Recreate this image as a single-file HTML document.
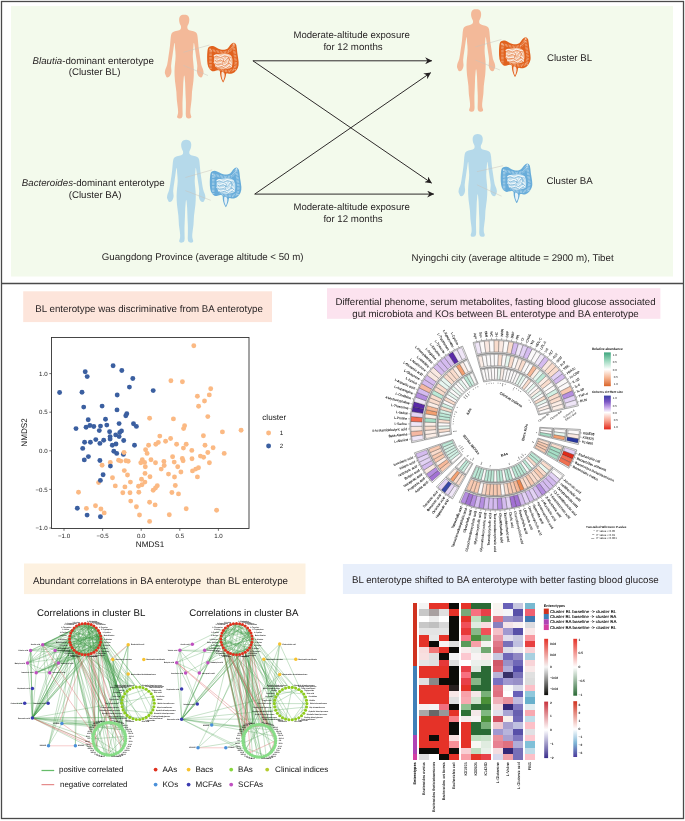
<!DOCTYPE html>
<html lang="en"><head><meta charset="utf-8"><title>Graphical abstract</title>
<style>html,body{margin:0;padding:0;background:#fff}svg{display:block}</style></head>
<body><svg width="685" height="821" viewBox="0 0 685 821" font-family="'Liberation Sans', Arial, sans-serif" text-rendering="geometricPrecision">
<defs>
<path id="human" d="M-1.60,0.15Q0.00,0.00 1.60,0.15Q3.20,0.30 4.15,1.65Q5.10,3.00 5.10,4.75Q5.10,6.50 4.75,8.00Q4.40,9.50 3.75,10.50Q3.10,11.50 3.10,12.75Q3.10,14.00 3.85,14.85Q4.60,15.70 7.10,16.20Q9.60,16.70 11.10,17.45Q12.60,18.20 13.05,20.10Q13.50,22.00 13.85,27.00Q14.20,32.00 14.90,36.50Q15.60,41.00 16.30,46.00Q17.00,51.00 17.90,52.75Q18.80,54.50 19.20,56.50Q19.60,58.50 19.10,59.50Q18.60,60.50 18.20,61.65Q17.80,62.80 16.70,62.90Q15.60,63.00 14.50,61.75Q13.40,60.50 12.95,58.50Q12.50,56.50 12.95,54.25Q13.40,52.00 12.70,47.50Q12.00,43.00 11.30,38.00Q10.60,33.00 10.10,29.75Q9.60,26.50 9.40,29.75Q9.20,33.00 8.80,37.25Q8.40,41.50 8.80,45.25Q9.20,49.00 9.50,52.50Q9.80,56.00 9.60,61.00Q9.40,66.00 8.50,72.00Q7.60,78.00 7.60,81.50Q7.60,85.00 6.60,91.65Q5.60,98.30 6.60,100.30Q7.60,102.30 6.80,103.15Q6.00,104.00 4.10,103.80Q2.20,103.60 1.85,102.05Q1.50,100.50 1.55,99.25Q1.60,98.00 1.70,93.00Q1.80,88.00 1.55,84.00Q1.30,80.00 1.15,74.00Q1.00,68.00 0.50,63.25Q0.00,58.50 -0.50,63.25Q-1.00,68.00 -1.15,74.00Q-1.30,80.00 -1.55,84.00Q-1.80,88.00 -1.70,93.00Q-1.60,98.00 -1.55,99.25Q-1.50,100.50 -1.85,102.05Q-2.20,103.60 -4.10,103.80Q-6.00,104.00 -6.80,103.15Q-7.60,102.30 -6.60,100.30Q-5.60,98.30 -6.60,91.65Q-7.60,85.00 -7.60,81.50Q-7.60,78.00 -8.50,72.00Q-9.40,66.00 -9.60,61.00Q-9.80,56.00 -9.50,52.50Q-9.20,49.00 -8.80,45.25Q-8.40,41.50 -8.80,37.25Q-9.20,33.00 -9.40,29.75Q-9.60,26.50 -10.10,29.75Q-10.60,33.00 -11.30,38.00Q-12.00,43.00 -12.70,47.50Q-13.40,52.00 -12.95,54.25Q-12.50,56.50 -12.95,58.50Q-13.40,60.50 -14.50,61.75Q-15.60,63.00 -16.70,62.90Q-17.80,62.80 -18.20,61.65Q-18.60,60.50 -19.10,59.50Q-19.60,58.50 -19.20,56.50Q-18.80,54.50 -17.90,52.75Q-17.00,51.00 -16.30,46.00Q-15.60,41.00 -14.90,36.50Q-14.20,32.00 -13.85,27.00Q-13.50,22.00 -13.05,20.10Q-12.60,18.20 -11.10,17.45Q-9.60,16.70 -7.10,16.20Q-4.60,15.70 -3.85,14.85Q-3.10,14.00 -3.10,12.75Q-3.10,11.50 -3.75,10.50Q-4.40,9.50 -4.75,8.00Q-5.10,6.50 -5.10,4.75Q-5.10,3.00 -4.15,1.65Q-3.20,0.30 -1.60,0.15Z"/>
<marker id="ah" viewBox="0 0 10 10" refX="9.5" refY="5" markerWidth="9" markerHeight="7" markerUnits="userSpaceOnUse" orient="auto"><path d="M0,0 L10,5 L0,10 L3.2,5 Z" fill="#231f20"/></marker>
</defs>
<rect width="685" height="821" fill="#fff"/>
<rect x="11" y="6" width="662" height="270.5" fill="#F3FAEC"/>
<rect x="1.5" y="1.5" width="682" height="817" fill="none" stroke="#4a4a4a" stroke-width="1.3"/>
<line x1="1" y1="283.5" x2="684" y2="283.5" stroke="#4a4a4a" stroke-width="1.3"/>
<use href="#human" transform="translate(184.2,14.6) scale(1.0000)" fill="#F3B999"/>
<use href="#human" transform="translate(186.2,139.8) scale(0.9904)" fill="#B5D9EA"/>
<use href="#human" transform="translate(476.1,9.2) scale(0.9875)" fill="#F3B999"/>
<use href="#human" transform="translate(477.7,134) scale(0.9904)" fill="#B5D9EA"/>
<path d="M183.39999999999998,52.300000000000004 L209.5,45 M183.39999999999998,65.39999999999999 L208,75.5" stroke="#c9c2bb" stroke-width="0.5" fill="none"/>
<path d="M185.39999999999998,177.5 L212.2,169.8 M185.39999999999998,190.60000000000002 L210.7,200.3" stroke="#c9c2bb" stroke-width="0.5" fill="none"/>
<path d="M475.3,46.900000000000006 L501.4,39.5 M475.3,60.0 L499.9,70.0" stroke="#c9c2bb" stroke-width="0.5" fill="none"/>
<path d="M476.9,171.7 L503.1,165.7 M476.9,184.8 L501.6,196.2" stroke="#c9c2bb" stroke-width="0.5" fill="none"/>
<g transform="translate(207,42) scale(1.0)"><path fill="#E1621E" d="M0.18,12.26Q0.35,9.11 0.70,7.18Q1.05,5.26 2.63,4.45Q4.20,3.64 6.13,4.10Q8.06,4.56 9.64,5.71Q11.21,6.87 13.67,7.46Q16.12,8.06 18.40,7.53Q20.67,7.01 21.90,4.91Q23.13,2.80 24.88,1.51Q26.63,0.21 28.10,1.33Q29.57,2.45 29.85,6.48Q30.13,10.51 31.04,15.42Q31.96,20.32 31.57,23.13Q31.18,25.93 29.26,28.38Q27.33,30.83 25.05,31.46Q22.78,32.10 20.99,31.39Q19.20,30.69 19.06,32.34Q18.92,33.99 18.36,35.63Q17.80,37.28 17.17,38.68Q16.54,40.08 16.33,40.29Q16.12,40.50 15.91,40.29Q15.70,40.08 14.93,38.54Q14.16,37.00 13.52,34.62Q12.89,32.24 13.03,30.31Q13.17,28.38 11.49,28.21Q9.81,28.03 7.88,28.91Q5.96,29.78 4.03,28.38Q2.10,26.98 1.23,24.70Q0.35,22.42 0.18,18.92Q0.00,15.42 0.18,12.26Z"/><path fill="#F3C3A2" d="M7.01,15.77Q7.36,12.96 10.69,12.16Q14.02,11.35 18.40,11.56Q22.78,11.77 24.28,13.95Q25.79,16.12 25.58,20.85Q25.37,25.58 23.02,26.17Q20.67,26.77 17.34,27.12Q14.02,27.47 11.04,26.07Q8.06,24.67 7.36,21.62Q6.66,18.57 7.01,15.77Z"/><path d="M3.50,26.63 L3.50,16.12 L3.64,8.06 L10.51,9.46 L16.12,10.51 L22.42,9.46 L26.49,3.50 L27.68,11.21 L28.87,21.02 L27.68,27.33 L22.42,29.08 L16.12,28.73 L10.51,25.93" fill="none" stroke="#F4BE9C" stroke-width="2.5" stroke-dasharray="0.5 0.9"/><path d="M7.5,14 q2,-1.6 4,0 t4,0 t4,-0.5 t4,1" fill="none" stroke="#FBEFE6" stroke-width="1.7" stroke-linecap="round"/><path d="M8,17.5 q1.5,2 3.5,0.3 t4,0.5 t4,-1.5 t3.5,1" fill="none" stroke="#FBEFE6" stroke-width="1.7" stroke-linecap="round"/><path d="M7.5,20.5 q2,1.8 4.5,0.8 t4,1 t4,-0.8 t4,0.6" fill="none" stroke="#FBEFE6" stroke-width="1.7" stroke-linecap="round"/><path d="M9,24 q2,1.5 4,0.2 t4,0.8 t4,-0.6 t3,0.2" fill="none" stroke="#FBEFE6" stroke-width="1.7" stroke-linecap="round"/><path d="M16,15.5 q1.5,1.5 0.2,3 q-1.6,1 -0.5,2.5" fill="none" stroke="#FBEFE6" stroke-width="1.7" stroke-linecap="round"/><path d="M21.5,14.5 q1.6,1.6 0.4,3.4 q-1.6,1.4 -0.2,3" fill="none" stroke="#FBEFE6" stroke-width="1.7" stroke-linecap="round"/><path d="M7.5,14 q2,-1.6 4,0 t4,0 t4,-0.5 t4,1" fill="none" stroke="#DD5F1C" stroke-width="0.6" stroke-linecap="round" transform="translate(0,0.75)"/><path d="M8,17.5 q1.5,2 3.5,0.3 t4,0.5 t4,-1.5 t3.5,1" fill="none" stroke="#DD5F1C" stroke-width="0.6" stroke-linecap="round" transform="translate(0,0.75)"/><path d="M7.5,20.5 q2,1.8 4.5,0.8 t4,1 t4,-0.8 t4,0.6" fill="none" stroke="#DD5F1C" stroke-width="0.6" stroke-linecap="round" transform="translate(0,0.75)"/><path d="M9,24 q2,1.5 4,0.2 t4,0.8 t4,-0.6 t3,0.2" fill="none" stroke="#DD5F1C" stroke-width="0.6" stroke-linecap="round" transform="translate(0,0.75)"/><path d="M16,15.5 q1.5,1.5 0.2,3 q-1.6,1 -0.5,2.5" fill="none" stroke="#DD5F1C" stroke-width="0.6" stroke-linecap="round" transform="translate(0,0.75)"/><path d="M21.5,14.5 q1.6,1.6 0.4,3.4 q-1.6,1.4 -0.2,3" fill="none" stroke="#DD5F1C" stroke-width="0.6" stroke-linecap="round" transform="translate(0,0.75)"/><path fill="#F8E6D8" d="M14.40,32.34Q14.23,29.29 15.94,29.99Q17.66,30.69 17.66,32.80Q17.66,34.90 16.96,36.90Q16.26,38.89 16.12,38.89Q15.98,38.89 15.28,37.14Q14.58,35.39 14.40,32.34Z"/></g>
<g transform="translate(209.7,166.8) scale(1.0)"><path fill="#68ACD9" d="M0.18,12.26Q0.35,9.11 0.70,7.18Q1.05,5.26 2.63,4.45Q4.20,3.64 6.13,4.10Q8.06,4.56 9.64,5.71Q11.21,6.87 13.67,7.46Q16.12,8.06 18.40,7.53Q20.67,7.01 21.90,4.91Q23.13,2.80 24.88,1.51Q26.63,0.21 28.10,1.33Q29.57,2.45 29.85,6.48Q30.13,10.51 31.04,15.42Q31.96,20.32 31.57,23.13Q31.18,25.93 29.26,28.38Q27.33,30.83 25.05,31.46Q22.78,32.10 20.99,31.39Q19.20,30.69 19.06,32.34Q18.92,33.99 18.36,35.63Q17.80,37.28 17.17,38.68Q16.54,40.08 16.33,40.29Q16.12,40.50 15.91,40.29Q15.70,40.08 14.93,38.54Q14.16,37.00 13.52,34.62Q12.89,32.24 13.03,30.31Q13.17,28.38 11.49,28.21Q9.81,28.03 7.88,28.91Q5.96,29.78 4.03,28.38Q2.10,26.98 1.23,24.70Q0.35,22.42 0.18,18.92Q0.00,15.42 0.18,12.26Z"/><path fill="#C4E0EF" d="M7.01,15.77Q7.36,12.96 10.69,12.16Q14.02,11.35 18.40,11.56Q22.78,11.77 24.28,13.95Q25.79,16.12 25.58,20.85Q25.37,25.58 23.02,26.17Q20.67,26.77 17.34,27.12Q14.02,27.47 11.04,26.07Q8.06,24.67 7.36,21.62Q6.66,18.57 7.01,15.77Z"/><path d="M3.50,26.63 L3.50,16.12 L3.64,8.06 L10.51,9.46 L16.12,10.51 L22.42,9.46 L26.49,3.50 L27.68,11.21 L28.87,21.02 L27.68,27.33 L22.42,29.08 L16.12,28.73 L10.51,25.93" fill="none" stroke="#C3DFF0" stroke-width="2.5" stroke-dasharray="0.5 0.9"/><path d="M7.5,14 q2,-1.6 4,0 t4,0 t4,-0.5 t4,1" fill="none" stroke="#F1F8FA" stroke-width="1.7" stroke-linecap="round"/><path d="M8,17.5 q1.5,2 3.5,0.3 t4,0.5 t4,-1.5 t3.5,1" fill="none" stroke="#F1F8FA" stroke-width="1.7" stroke-linecap="round"/><path d="M7.5,20.5 q2,1.8 4.5,0.8 t4,1 t4,-0.8 t4,0.6" fill="none" stroke="#F1F8FA" stroke-width="1.7" stroke-linecap="round"/><path d="M9,24 q2,1.5 4,0.2 t4,0.8 t4,-0.6 t3,0.2" fill="none" stroke="#F1F8FA" stroke-width="1.7" stroke-linecap="round"/><path d="M16,15.5 q1.5,1.5 0.2,3 q-1.6,1 -0.5,2.5" fill="none" stroke="#F1F8FA" stroke-width="1.7" stroke-linecap="round"/><path d="M21.5,14.5 q1.6,1.6 0.4,3.4 q-1.6,1.4 -0.2,3" fill="none" stroke="#F1F8FA" stroke-width="1.7" stroke-linecap="round"/><path d="M7.5,14 q2,-1.6 4,0 t4,0 t4,-0.5 t4,1" fill="none" stroke="#4E9ACB" stroke-width="0.6" stroke-linecap="round" transform="translate(0,0.75)"/><path d="M8,17.5 q1.5,2 3.5,0.3 t4,0.5 t4,-1.5 t3.5,1" fill="none" stroke="#4E9ACB" stroke-width="0.6" stroke-linecap="round" transform="translate(0,0.75)"/><path d="M7.5,20.5 q2,1.8 4.5,0.8 t4,1 t4,-0.8 t4,0.6" fill="none" stroke="#4E9ACB" stroke-width="0.6" stroke-linecap="round" transform="translate(0,0.75)"/><path d="M9,24 q2,1.5 4,0.2 t4,0.8 t4,-0.6 t3,0.2" fill="none" stroke="#4E9ACB" stroke-width="0.6" stroke-linecap="round" transform="translate(0,0.75)"/><path d="M16,15.5 q1.5,1.5 0.2,3 q-1.6,1 -0.5,2.5" fill="none" stroke="#4E9ACB" stroke-width="0.6" stroke-linecap="round" transform="translate(0,0.75)"/><path d="M21.5,14.5 q1.6,1.6 0.4,3.4 q-1.6,1.4 -0.2,3" fill="none" stroke="#4E9ACB" stroke-width="0.6" stroke-linecap="round" transform="translate(0,0.75)"/><path fill="#E6F2F7" d="M14.40,32.34Q14.23,29.29 15.94,29.99Q17.66,30.69 17.66,32.80Q17.66,34.90 16.96,36.90Q16.26,38.89 16.12,38.89Q15.98,38.89 15.28,37.14Q14.58,35.39 14.40,32.34Z"/></g>
<g transform="translate(498.9,36.5) scale(1.0)"><path fill="#E1621E" d="M0.18,12.26Q0.35,9.11 0.70,7.18Q1.05,5.26 2.63,4.45Q4.20,3.64 6.13,4.10Q8.06,4.56 9.64,5.71Q11.21,6.87 13.67,7.46Q16.12,8.06 18.40,7.53Q20.67,7.01 21.90,4.91Q23.13,2.80 24.88,1.51Q26.63,0.21 28.10,1.33Q29.57,2.45 29.85,6.48Q30.13,10.51 31.04,15.42Q31.96,20.32 31.57,23.13Q31.18,25.93 29.26,28.38Q27.33,30.83 25.05,31.46Q22.78,32.10 20.99,31.39Q19.20,30.69 19.06,32.34Q18.92,33.99 18.36,35.63Q17.80,37.28 17.17,38.68Q16.54,40.08 16.33,40.29Q16.12,40.50 15.91,40.29Q15.70,40.08 14.93,38.54Q14.16,37.00 13.52,34.62Q12.89,32.24 13.03,30.31Q13.17,28.38 11.49,28.21Q9.81,28.03 7.88,28.91Q5.96,29.78 4.03,28.38Q2.10,26.98 1.23,24.70Q0.35,22.42 0.18,18.92Q0.00,15.42 0.18,12.26Z"/><path fill="#F3C3A2" d="M7.01,15.77Q7.36,12.96 10.69,12.16Q14.02,11.35 18.40,11.56Q22.78,11.77 24.28,13.95Q25.79,16.12 25.58,20.85Q25.37,25.58 23.02,26.17Q20.67,26.77 17.34,27.12Q14.02,27.47 11.04,26.07Q8.06,24.67 7.36,21.62Q6.66,18.57 7.01,15.77Z"/><path d="M3.50,26.63 L3.50,16.12 L3.64,8.06 L10.51,9.46 L16.12,10.51 L22.42,9.46 L26.49,3.50 L27.68,11.21 L28.87,21.02 L27.68,27.33 L22.42,29.08 L16.12,28.73 L10.51,25.93" fill="none" stroke="#F4BE9C" stroke-width="2.5" stroke-dasharray="0.5 0.9"/><path d="M7.5,14 q2,-1.6 4,0 t4,0 t4,-0.5 t4,1" fill="none" stroke="#FBEFE6" stroke-width="1.7" stroke-linecap="round"/><path d="M8,17.5 q1.5,2 3.5,0.3 t4,0.5 t4,-1.5 t3.5,1" fill="none" stroke="#FBEFE6" stroke-width="1.7" stroke-linecap="round"/><path d="M7.5,20.5 q2,1.8 4.5,0.8 t4,1 t4,-0.8 t4,0.6" fill="none" stroke="#FBEFE6" stroke-width="1.7" stroke-linecap="round"/><path d="M9,24 q2,1.5 4,0.2 t4,0.8 t4,-0.6 t3,0.2" fill="none" stroke="#FBEFE6" stroke-width="1.7" stroke-linecap="round"/><path d="M16,15.5 q1.5,1.5 0.2,3 q-1.6,1 -0.5,2.5" fill="none" stroke="#FBEFE6" stroke-width="1.7" stroke-linecap="round"/><path d="M21.5,14.5 q1.6,1.6 0.4,3.4 q-1.6,1.4 -0.2,3" fill="none" stroke="#FBEFE6" stroke-width="1.7" stroke-linecap="round"/><path d="M7.5,14 q2,-1.6 4,0 t4,0 t4,-0.5 t4,1" fill="none" stroke="#DD5F1C" stroke-width="0.6" stroke-linecap="round" transform="translate(0,0.75)"/><path d="M8,17.5 q1.5,2 3.5,0.3 t4,0.5 t4,-1.5 t3.5,1" fill="none" stroke="#DD5F1C" stroke-width="0.6" stroke-linecap="round" transform="translate(0,0.75)"/><path d="M7.5,20.5 q2,1.8 4.5,0.8 t4,1 t4,-0.8 t4,0.6" fill="none" stroke="#DD5F1C" stroke-width="0.6" stroke-linecap="round" transform="translate(0,0.75)"/><path d="M9,24 q2,1.5 4,0.2 t4,0.8 t4,-0.6 t3,0.2" fill="none" stroke="#DD5F1C" stroke-width="0.6" stroke-linecap="round" transform="translate(0,0.75)"/><path d="M16,15.5 q1.5,1.5 0.2,3 q-1.6,1 -0.5,2.5" fill="none" stroke="#DD5F1C" stroke-width="0.6" stroke-linecap="round" transform="translate(0,0.75)"/><path d="M21.5,14.5 q1.6,1.6 0.4,3.4 q-1.6,1.4 -0.2,3" fill="none" stroke="#DD5F1C" stroke-width="0.6" stroke-linecap="round" transform="translate(0,0.75)"/><path fill="#F8E6D8" d="M14.40,32.34Q14.23,29.29 15.94,29.99Q17.66,30.69 17.66,32.80Q17.66,34.90 16.96,36.90Q16.26,38.89 16.12,38.89Q15.98,38.89 15.28,37.14Q14.58,35.39 14.40,32.34Z"/></g>
<g transform="translate(500.6,162.7) scale(1.0)"><path fill="#68ACD9" d="M0.18,12.26Q0.35,9.11 0.70,7.18Q1.05,5.26 2.63,4.45Q4.20,3.64 6.13,4.10Q8.06,4.56 9.64,5.71Q11.21,6.87 13.67,7.46Q16.12,8.06 18.40,7.53Q20.67,7.01 21.90,4.91Q23.13,2.80 24.88,1.51Q26.63,0.21 28.10,1.33Q29.57,2.45 29.85,6.48Q30.13,10.51 31.04,15.42Q31.96,20.32 31.57,23.13Q31.18,25.93 29.26,28.38Q27.33,30.83 25.05,31.46Q22.78,32.10 20.99,31.39Q19.20,30.69 19.06,32.34Q18.92,33.99 18.36,35.63Q17.80,37.28 17.17,38.68Q16.54,40.08 16.33,40.29Q16.12,40.50 15.91,40.29Q15.70,40.08 14.93,38.54Q14.16,37.00 13.52,34.62Q12.89,32.24 13.03,30.31Q13.17,28.38 11.49,28.21Q9.81,28.03 7.88,28.91Q5.96,29.78 4.03,28.38Q2.10,26.98 1.23,24.70Q0.35,22.42 0.18,18.92Q0.00,15.42 0.18,12.26Z"/><path fill="#C4E0EF" d="M7.01,15.77Q7.36,12.96 10.69,12.16Q14.02,11.35 18.40,11.56Q22.78,11.77 24.28,13.95Q25.79,16.12 25.58,20.85Q25.37,25.58 23.02,26.17Q20.67,26.77 17.34,27.12Q14.02,27.47 11.04,26.07Q8.06,24.67 7.36,21.62Q6.66,18.57 7.01,15.77Z"/><path d="M3.50,26.63 L3.50,16.12 L3.64,8.06 L10.51,9.46 L16.12,10.51 L22.42,9.46 L26.49,3.50 L27.68,11.21 L28.87,21.02 L27.68,27.33 L22.42,29.08 L16.12,28.73 L10.51,25.93" fill="none" stroke="#C3DFF0" stroke-width="2.5" stroke-dasharray="0.5 0.9"/><path d="M7.5,14 q2,-1.6 4,0 t4,0 t4,-0.5 t4,1" fill="none" stroke="#F1F8FA" stroke-width="1.7" stroke-linecap="round"/><path d="M8,17.5 q1.5,2 3.5,0.3 t4,0.5 t4,-1.5 t3.5,1" fill="none" stroke="#F1F8FA" stroke-width="1.7" stroke-linecap="round"/><path d="M7.5,20.5 q2,1.8 4.5,0.8 t4,1 t4,-0.8 t4,0.6" fill="none" stroke="#F1F8FA" stroke-width="1.7" stroke-linecap="round"/><path d="M9,24 q2,1.5 4,0.2 t4,0.8 t4,-0.6 t3,0.2" fill="none" stroke="#F1F8FA" stroke-width="1.7" stroke-linecap="round"/><path d="M16,15.5 q1.5,1.5 0.2,3 q-1.6,1 -0.5,2.5" fill="none" stroke="#F1F8FA" stroke-width="1.7" stroke-linecap="round"/><path d="M21.5,14.5 q1.6,1.6 0.4,3.4 q-1.6,1.4 -0.2,3" fill="none" stroke="#F1F8FA" stroke-width="1.7" stroke-linecap="round"/><path d="M7.5,14 q2,-1.6 4,0 t4,0 t4,-0.5 t4,1" fill="none" stroke="#4E9ACB" stroke-width="0.6" stroke-linecap="round" transform="translate(0,0.75)"/><path d="M8,17.5 q1.5,2 3.5,0.3 t4,0.5 t4,-1.5 t3.5,1" fill="none" stroke="#4E9ACB" stroke-width="0.6" stroke-linecap="round" transform="translate(0,0.75)"/><path d="M7.5,20.5 q2,1.8 4.5,0.8 t4,1 t4,-0.8 t4,0.6" fill="none" stroke="#4E9ACB" stroke-width="0.6" stroke-linecap="round" transform="translate(0,0.75)"/><path d="M9,24 q2,1.5 4,0.2 t4,0.8 t4,-0.6 t3,0.2" fill="none" stroke="#4E9ACB" stroke-width="0.6" stroke-linecap="round" transform="translate(0,0.75)"/><path d="M16,15.5 q1.5,1.5 0.2,3 q-1.6,1 -0.5,2.5" fill="none" stroke="#4E9ACB" stroke-width="0.6" stroke-linecap="round" transform="translate(0,0.75)"/><path d="M21.5,14.5 q1.6,1.6 0.4,3.4 q-1.6,1.4 -0.2,3" fill="none" stroke="#4E9ACB" stroke-width="0.6" stroke-linecap="round" transform="translate(0,0.75)"/><path fill="#E6F2F7" d="M14.40,32.34Q14.23,29.29 15.94,29.99Q17.66,30.69 17.66,32.80Q17.66,34.90 16.96,36.90Q16.26,38.89 16.12,38.89Q15.98,38.89 15.28,37.14Q14.58,35.39 14.40,32.34Z"/></g>
<g fill="#231f20">
<text x="93.2" y="63.7" font-size="9.7" text-anchor="middle"><tspan font-style="italic">Blautia</tspan>-dominant enterotype</text>
<text x="94.6" y="75.4" font-size="9.7" text-anchor="middle" fill="#231f20">(Cluster BL)</text>
<text x="93.2" y="186" font-size="9.7" text-anchor="middle"><tspan font-style="italic">Bacteroides</tspan>-dominant enterotype</text>
<text x="95.1" y="197.9" font-size="9.7" text-anchor="middle" fill="#231f20">(Cluster BA)</text>
<text x="351.6" y="38.4" font-size="9.55" text-anchor="middle" fill="#231f20">Moderate-altitude exposure</text>
<text x="353" y="50.3" font-size="9.7" text-anchor="middle" fill="#231f20">for 12 months</text>
<text x="351.6" y="210.1" font-size="9.55" text-anchor="middle" fill="#231f20">Moderate-altitude exposure</text>
<text x="353" y="222.3" font-size="9.7" text-anchor="middle" fill="#231f20">for 12 months</text>
<text x="546.9" y="61.2" font-size="9.7" text-anchor="start" fill="#231f20">Cluster BL</text>
<text x="546.4" y="183.6" font-size="9.7" text-anchor="start" fill="#231f20">Cluster BA</text>
<text x="101.8" y="260.2" font-size="9.7" text-anchor="start" fill="#231f20">Guangdong Province (average altitude &lt; 50 m)</text>
<text x="411.4" y="260.8" font-size="9.7" text-anchor="start" fill="#231f20">Nyingchi city (average altitude = 2900 m), Tibet</text>
</g>
<g stroke="#231f20" stroke-width="0.95" fill="none" marker-end="url(#ah)">
<path d="M252.9,60.8 L431.8,60.8"/><path d="M252.9,60.8 L431.6,183.1"/><path d="M254.7,194.1 L433.8,194.1"/><path d="M254.7,194.1 L430.7,72.7"/>
</g>
<rect x="23.2" y="291.3" width="248.8" height="30.8" fill="#FDE5DB"/>
<text x="35.3" y="311.9" font-size="9.72" text-anchor="start" fill="#231f20">BL enterotype was discriminative from BA enterotype</text>
<rect x="327" y="288.2" width="333.4" height="30.6" fill="#FCE3EF"/>
<text x="495.5" y="304.9" font-size="9.73" text-anchor="middle" fill="#231f20">Differential phenome, serum metabolites, fasting blood glucose associated</text>
<text x="495.5" y="317" font-size="9.73" text-anchor="middle" fill="#231f20">gut microbiota and KOs between BL enterotype and BA enterotype</text>
<rect x="24" y="563.5" width="281.5" height="30.6" fill="#FDF1E0"/>
<text x="33" y="584" font-size="9.7" fill="#231f20" xml:space="preserve">Abundant correlations in BA enterotype  than BL enterotype</text>
<rect x="342.9" y="564" width="329.3" height="30" fill="#E8EFFB"/>
<text x="352" y="583.3" font-size="9.7" text-anchor="start" fill="#231f20">BL enterotype shifted to BA enterotype with better fasting blood glucose</text>
<g>
<rect x="51.5" y="337.5" width="197.5" height="191" fill="#fff" stroke="#333" stroke-width="0.9"/>
<g fill="#FBB983"><circle cx="149.6" cy="418.2" r="2.45"/><circle cx="193.8" cy="345.8" r="2.45"/><circle cx="170.9" cy="380.8" r="2.45"/><circle cx="182.4" cy="381.7" r="2.45"/><circle cx="210.7" cy="388.7" r="2.45"/><circle cx="209.3" cy="394.9" r="2.45"/><circle cx="197.4" cy="396.3" r="2.45"/><circle cx="204.5" cy="401.0" r="2.45"/><circle cx="198.6" cy="406.2" r="2.45"/><circle cx="207.8" cy="416.6" r="2.45"/><circle cx="173.4" cy="418.9" r="2.45"/><circle cx="184.6" cy="425.8" r="2.45"/><circle cx="183.6" cy="428.6" r="2.45"/><circle cx="222.4" cy="431.9" r="2.45"/><circle cx="241.1" cy="430.2" r="2.45"/><circle cx="159.8" cy="436.1" r="2.45"/><circle cx="203.4" cy="435.8" r="2.45"/><circle cx="124.0" cy="452.6" r="2.45"/><circle cx="148.6" cy="445.3" r="2.45"/><circle cx="145.6" cy="449.7" r="2.45"/><circle cx="147.1" cy="453.4" r="2.45"/><circle cx="118.6" cy="460.2" r="2.45"/><circle cx="120.8" cy="461.1" r="2.45"/><circle cx="125.9" cy="460.7" r="2.45"/><circle cx="128.2" cy="461.2" r="2.45"/><circle cx="110.3" cy="462.4" r="2.45"/><circle cx="102.1" cy="465.3" r="2.45"/><circle cx="142.3" cy="459.8" r="2.45"/><circle cx="140.8" cy="462.8" r="2.45"/><circle cx="144.6" cy="462.4" r="2.45"/><circle cx="145.3" cy="466.8" r="2.45"/><circle cx="151" cy="459.7" r="2.45"/><circle cx="124.3" cy="470.6" r="2.45"/><circle cx="127.5" cy="475.0" r="2.45"/><circle cx="145.0" cy="473.4" r="2.45"/><circle cx="112.5" cy="477.7" r="2.45"/><circle cx="141.5" cy="479.3" r="2.45"/><circle cx="150" cy="476.7" r="2.45"/><circle cx="98.6" cy="482.6" r="2.45"/><circle cx="130.4" cy="482.1" r="2.45"/><circle cx="144.9" cy="482.1" r="2.45"/><circle cx="142.0" cy="484.7" r="2.45"/><circle cx="138.5" cy="486.2" r="2.45"/><circle cx="115.3" cy="485.9" r="2.45"/><circle cx="124.9" cy="486.9" r="2.45"/><circle cx="78.5" cy="492.3" r="2.45"/><circle cx="122.8" cy="492.8" r="2.45"/><circle cx="130.0" cy="492.8" r="2.45"/><circle cx="138.8" cy="492.3" r="2.45"/><circle cx="130.7" cy="501.1" r="2.45"/><circle cx="149.6" cy="502.3" r="2.45"/><circle cx="136.4" cy="506.8" r="2.45"/><circle cx="95.5" cy="505.8" r="2.45"/><circle cx="86.4" cy="508.4" r="2.45"/><circle cx="100.9" cy="509.0" r="2.45"/><circle cx="104.2" cy="512.9" r="2.45"/><circle cx="139.5" cy="515.0" r="2.45"/><circle cx="149.6" cy="521.4" r="2.45"/><circle cx="170.6" cy="438.5" r="2.45"/><circle cx="165.6" cy="441.2" r="2.45"/><circle cx="158.3" cy="442.4" r="2.45"/><circle cx="155.8" cy="444.3" r="2.45"/><circle cx="176.6" cy="444.3" r="2.45"/><circle cx="186.2" cy="444.3" r="2.45"/><circle cx="183.4" cy="448.1" r="2.45"/><circle cx="205.0" cy="445.2" r="2.45"/><circle cx="213.1" cy="447.7" r="2.45"/><circle cx="191.8" cy="450.4" r="2.45"/><circle cx="207.8" cy="452.5" r="2.45"/><circle cx="224.2" cy="453.4" r="2.45"/><circle cx="200.4" cy="456.1" r="2.45"/><circle cx="203.6" cy="457.3" r="2.45"/><circle cx="172.6" cy="456.7" r="2.45"/><circle cx="192.0" cy="458.8" r="2.45"/><circle cx="182.3" cy="458.5" r="2.45"/><circle cx="183.1" cy="460.7" r="2.45"/><circle cx="155.5" cy="462.8" r="2.45"/><circle cx="163.9" cy="461.4" r="2.45"/><circle cx="174.2" cy="462.1" r="2.45"/><circle cx="209.4" cy="462.8" r="2.45"/><circle cx="164.2" cy="465.5" r="2.45"/><circle cx="177.7" cy="466.8" r="2.45"/><circle cx="161.2" cy="469.1" r="2.45"/><circle cx="198.5" cy="467.7" r="2.45"/><circle cx="195.7" cy="469.1" r="2.45"/><circle cx="192.5" cy="470.9" r="2.45"/><circle cx="180.9" cy="472.0" r="2.45"/><circle cx="168.5" cy="474.1" r="2.45"/><circle cx="174.5" cy="477.0" r="2.45"/><circle cx="197.4" cy="476.9" r="2.45"/><circle cx="157.3" cy="485.8" r="2.45"/><circle cx="155.5" cy="488.0" r="2.45"/><circle cx="153.2" cy="490.3" r="2.45"/><circle cx="175.3" cy="485.5" r="2.45"/><circle cx="171.9" cy="492.5" r="2.45"/><circle cx="178.5" cy="493.9" r="2.45"/><circle cx="155.1" cy="504.9" r="2.45"/><circle cx="186.2" cy="508.8" r="2.45"/><circle cx="216.6" cy="510.3" r="2.45"/><circle cx="169.3" cy="514.7" r="2.45"/></g>
<g fill="#3B5FA0"><circle cx="113.1" cy="365.8" r="2.45"/><circle cx="121.8" cy="370.5" r="2.45"/><circle cx="85.2" cy="371.8" r="2.45"/><circle cx="87.2" cy="376.6" r="2.45"/><circle cx="132.8" cy="378.5" r="2.45"/><circle cx="129.4" cy="387.1" r="2.45"/><circle cx="59.6" cy="392.5" r="2.45"/><circle cx="82.0" cy="392.2" r="2.45"/><circle cx="117.2" cy="395.0" r="2.45"/><circle cx="83.7" cy="407.1" r="2.45"/><circle cx="102.1" cy="406.1" r="2.45"/><circle cx="117.0" cy="409.9" r="2.45"/><circle cx="126.8" cy="413.8" r="2.45"/><circle cx="125.8" cy="415.7" r="2.45"/><circle cx="88.2" cy="419.8" r="2.45"/><circle cx="105.5" cy="419.2" r="2.45"/><circle cx="119.1" cy="423.6" r="2.45"/><circle cx="133.5" cy="423.8" r="2.45"/><circle cx="136.4" cy="426.4" r="2.45"/><circle cx="106.8" cy="425.1" r="2.45"/><circle cx="100.5" cy="426.1" r="2.45"/><circle cx="93.8" cy="426.5" r="2.45"/><circle cx="89.9" cy="425.5" r="2.45"/><circle cx="86.1" cy="427.3" r="2.45"/><circle cx="76.0" cy="428.6" r="2.45"/><circle cx="99.3" cy="430.6" r="2.45"/><circle cx="109.6" cy="431.8" r="2.45"/><circle cx="121.5" cy="430.9" r="2.45"/><circle cx="119.8" cy="432.5" r="2.45"/><circle cx="115.7" cy="434.9" r="2.45"/><circle cx="153.2" cy="390.6" r="2.45"/><circle cx="110.1" cy="436.6" r="2.45"/><circle cx="110.1" cy="439.1" r="2.45"/><circle cx="119.1" cy="436.6" r="2.45"/><circle cx="123.7" cy="440.5" r="2.45"/><circle cx="95.8" cy="439.6" r="2.45"/><circle cx="103.7" cy="440.2" r="2.45"/><circle cx="84.6" cy="442.3" r="2.45"/><circle cx="90.4" cy="442.3" r="2.45"/><circle cx="99.9" cy="443.4" r="2.45"/><circle cx="116.0" cy="444.0" r="2.45"/><circle cx="112.3" cy="445.2" r="2.45"/><circle cx="134.5" cy="445.2" r="2.45"/><circle cx="82.7" cy="448.4" r="2.45"/><circle cx="113.8" cy="451.2" r="2.45"/><circle cx="116.7" cy="453.4" r="2.45"/><circle cx="123.4" cy="454.4" r="2.45"/><circle cx="88.4" cy="456.6" r="2.45"/><circle cx="84.3" cy="459.9" r="2.45"/><circle cx="99.9" cy="460.5" r="2.45"/><circle cx="110.4" cy="466.1" r="2.45"/><circle cx="103.1" cy="474.8" r="2.45"/><circle cx="100.4" cy="480.4" r="2.45"/><circle cx="77.3" cy="508.2" r="2.45"/><circle cx="87.1" cy="515.1" r="2.45"/><circle cx="100.4" cy="516.7" r="2.45"/></g>
<circle cx="124.0" cy="452.6" r="2.45" fill="#FBB983"/>
<line x1="49.3" y1="373.6" x2="51.5" y2="373.6" stroke="#333" stroke-width="0.7"/><text x="47.6" y="375.8" font-size="6.1" text-anchor="end" fill="#222">1.0</text><line x1="49.3" y1="412.2" x2="51.5" y2="412.2" stroke="#333" stroke-width="0.7"/><text x="47.6" y="414.4" font-size="6.1" text-anchor="end" fill="#222">0.5</text><line x1="49.3" y1="450.8" x2="51.5" y2="450.8" stroke="#333" stroke-width="0.7"/><text x="47.6" y="453.0" font-size="6.1" text-anchor="end" fill="#222">0.0</text><line x1="49.3" y1="489.4" x2="51.5" y2="489.4" stroke="#333" stroke-width="0.7"/><text x="47.6" y="491.6" font-size="6.1" text-anchor="end" fill="#222">−0.5</text><line x1="49.3" y1="528.0" x2="51.5" y2="528.0" stroke="#333" stroke-width="0.7"/><text x="47.6" y="530.2" font-size="6.1" text-anchor="end" fill="#222">−1.0</text><line x1="64.0" y1="528.5" x2="64.0" y2="530.8" stroke="#333" stroke-width="0.7"/><text x="64.0" y="537.6" font-size="6.1" text-anchor="middle" fill="#222">−1.0</text><line x1="102.6" y1="528.5" x2="102.6" y2="530.8" stroke="#333" stroke-width="0.7"/><text x="102.6" y="537.6" font-size="6.1" text-anchor="middle" fill="#222">−0.5</text><line x1="141.2" y1="528.5" x2="141.2" y2="530.8" stroke="#333" stroke-width="0.7"/><text x="141.2" y="537.6" font-size="6.1" text-anchor="middle" fill="#222">0.0</text><line x1="179.8" y1="528.5" x2="179.8" y2="530.8" stroke="#333" stroke-width="0.7"/><text x="179.8" y="537.6" font-size="6.1" text-anchor="middle" fill="#222">0.5</text><line x1="218.4" y1="528.5" x2="218.4" y2="530.8" stroke="#333" stroke-width="0.7"/><text x="218.4" y="537.6" font-size="6.1" text-anchor="middle" fill="#222">1.0</text>
<text x="150" y="547.2" font-size="8.1" text-anchor="middle" fill="#111">NMDS1</text>
<text transform="translate(27.4,432.5) rotate(-90)" font-size="8.1" text-anchor="middle" fill="#111">NMDS2</text>
<text x="262.3" y="420.3" font-size="8.1" text-anchor="start" fill="#111">cluster</text>
<circle cx="268.6" cy="433" r="2.45" fill="#FBB983"/><circle cx="268.6" cy="446" r="2.45" fill="#3B5FA0"/>
<text x="279.8" y="435.2" font-size="6.2" text-anchor="start" fill="#111">1</text>
<text x="279.8" y="448.2" font-size="6.2" text-anchor="start" fill="#111">2</text>
</g>
<g>
<g stroke="#2a2a2a" stroke-width="0.3"><path d="M481.36,369.91A56.8,56.8 0 0 1 484.60,369.20L486.69,380.20A45.6,45.6 0 0 0 484.09,380.77Z" fill="#fbf9f9"/><path d="M484.60,369.20A56.8,56.8 0 0 1 487.87,368.68L489.31,379.78A45.6,45.6 0 0 0 486.69,380.20Z" fill="#fbf9f9"/><path d="M487.87,368.68A56.8,56.8 0 0 1 491.16,368.34L491.96,379.52A45.6,45.6 0 0 0 489.31,379.78Z" fill="#fbf9f9"/><path d="M491.16,368.34A56.8,56.8 0 0 1 494.47,368.20L494.61,379.40A45.6,45.6 0 0 0 491.96,379.52Z" fill="#fbf9f9"/><path d="M494.47,368.20A56.8,56.8 0 0 1 497.78,368.26L497.27,379.45A45.6,45.6 0 0 0 494.61,379.40Z" fill="#fbf9f9"/><path d="M497.78,368.26A56.8,56.8 0 0 1 501.08,368.51L499.92,379.65A45.6,45.6 0 0 0 497.27,379.45Z" fill="#E6F6EF"/><path d="M501.08,368.51A56.8,56.8 0 0 1 504.36,368.94L502.56,380.00A45.6,45.6 0 0 0 499.92,379.65Z" fill="#FBEDE6"/><path d="M504.36,368.94A56.8,56.8 0 0 1 507.62,369.57L505.17,380.50A45.6,45.6 0 0 0 502.56,380.00Z" fill="#fbf9f9"/><path d="M507.62,369.57A56.8,56.8 0 0 1 510.82,370.39L507.74,381.16A45.6,45.6 0 0 0 505.17,380.50Z" fill="#fbf9f9"/><path d="M510.82,370.39A56.8,56.8 0 0 1 513.98,371.39L510.28,381.96A45.6,45.6 0 0 0 507.74,381.16Z" fill="#fbf9f9"/><path d="M513.98,371.39A56.8,56.8 0 0 1 517.07,372.58L512.76,382.92A45.6,45.6 0 0 0 510.28,381.96Z" fill="#fbf9f9"/><path d="M517.07,372.58A56.8,56.8 0 0 1 520.09,373.94L515.18,384.01A45.6,45.6 0 0 0 512.76,382.92Z" fill="#fbf9f9"/><path d="M520.09,373.94A56.8,56.8 0 0 1 523.02,375.48L517.54,385.25A45.6,45.6 0 0 0 515.18,384.01Z" fill="#E6F6EF"/><path d="M523.02,375.48A56.8,56.8 0 0 1 525.86,377.19L519.82,386.61A45.6,45.6 0 0 0 517.54,385.25Z" fill="#E6F6EF"/><path d="M525.86,377.19A56.8,56.8 0 0 1 528.60,379.05L522.01,388.11A45.6,45.6 0 0 0 519.82,386.61Z" fill="#fbf9f9"/><path d="M528.60,379.05A56.8,56.8 0 0 1 531.22,381.08L524.11,389.74A45.6,45.6 0 0 0 522.01,388.11Z" fill="#F9DCCD"/><path d="M531.22,381.08A56.8,56.8 0 0 1 533.71,383.25L526.12,391.48A45.6,45.6 0 0 0 524.11,389.74Z" fill="#fbf9f9"/><path d="M533.71,383.25A56.8,56.8 0 0 1 536.08,385.57L528.02,393.34A45.6,45.6 0 0 0 526.12,391.48Z" fill="#E6F6EF"/><path d="M536.08,385.57A56.8,56.8 0 0 1 538.31,388.02L529.81,395.31A45.6,45.6 0 0 0 528.02,393.34Z" fill="#fbf9f9"/><path d="M538.31,388.02A56.8,56.8 0 0 1 540.39,390.59L531.48,397.38A45.6,45.6 0 0 0 529.81,395.31Z" fill="#FBEDE6"/><path d="M540.39,390.59A56.8,56.8 0 0 1 542.32,393.28L533.03,399.54A45.6,45.6 0 0 0 531.48,397.38Z" fill="#E6F6EF"/><path d="M542.32,393.28A56.8,56.8 0 0 1 544.09,396.08L534.45,401.79A45.6,45.6 0 0 0 533.03,399.54Z" fill="#fbf9f9"/><path d="M544.09,396.08A56.8,56.8 0 0 1 545.69,398.98L535.73,404.11A45.6,45.6 0 0 0 534.45,401.79Z" fill="#F9DCCD"/><path d="M545.69,398.98A56.8,56.8 0 0 1 547.12,401.97L536.88,406.51A45.6,45.6 0 0 0 535.73,404.11Z" fill="#E6F6EF"/><path d="M547.12,401.97A56.8,56.8 0 0 1 548.37,405.03L537.89,408.97A45.6,45.6 0 0 0 536.88,406.51Z" fill="#fbf9f9"/><path d="M548.37,405.03A56.8,56.8 0 0 1 549.45,408.17L538.75,411.48A45.6,45.6 0 0 0 537.89,408.97Z" fill="#FBEDE6"/><path d="M549.45,408.17A56.8,56.8 0 0 1 550.34,411.36L539.46,414.05A45.6,45.6 0 0 0 538.75,411.48Z" fill="#fbf9f9"/><path d="M478.03,356.62A70.5,70.5 0 0 1 482.04,355.74L484.11,366.64A59.4,59.4 0 0 0 480.73,367.39Z" fill="#FBEDE6"/><path d="M482.04,355.74A70.5,70.5 0 0 1 486.10,355.09L487.53,366.10A59.4,59.4 0 0 0 484.11,366.64Z" fill="#fbf9f9"/><path d="M486.10,355.09A70.5,70.5 0 0 1 490.19,354.68L490.98,365.75A59.4,59.4 0 0 0 487.53,366.10Z" fill="#fbf9f9"/><path d="M490.19,354.68A70.5,70.5 0 0 1 494.29,354.51L494.44,365.60A59.4,59.4 0 0 0 490.98,365.75Z" fill="#fbf9f9"/><path d="M494.29,354.51A70.5,70.5 0 0 1 498.40,354.57L497.90,365.66A59.4,59.4 0 0 0 494.44,365.60Z" fill="#fbf9f9"/><path d="M498.40,354.57A70.5,70.5 0 0 1 502.50,354.88L501.35,365.92A59.4,59.4 0 0 0 497.90,365.66Z" fill="#F9DCCD"/><path d="M502.50,354.88A70.5,70.5 0 0 1 506.58,355.42L504.78,366.38A59.4,59.4 0 0 0 501.35,365.92Z" fill="#fbf9f9"/><path d="M506.58,355.42A70.5,70.5 0 0 1 510.61,356.20L508.18,367.04A59.4,59.4 0 0 0 504.78,366.38Z" fill="#E6F6EF"/><path d="M510.61,356.20A70.5,70.5 0 0 1 514.59,357.22L511.54,367.89A59.4,59.4 0 0 0 508.18,367.04Z" fill="#F9DCCD"/><path d="M514.59,357.22A70.5,70.5 0 0 1 518.51,358.47L514.84,368.94A59.4,59.4 0 0 0 511.54,367.89Z" fill="#fbf9f9"/><path d="M518.51,358.47A70.5,70.5 0 0 1 522.35,359.94L518.07,370.18A59.4,59.4 0 0 0 514.84,368.94Z" fill="#FBEDE6"/><path d="M522.35,359.94A70.5,70.5 0 0 1 526.09,361.63L521.23,371.61A59.4,59.4 0 0 0 518.07,370.18Z" fill="#F9DCCD"/><path d="M526.09,361.63A70.5,70.5 0 0 1 529.73,363.54L524.30,373.21A59.4,59.4 0 0 0 521.23,371.61Z" fill="#fbf9f9"/><path d="M529.73,363.54A70.5,70.5 0 0 1 533.26,365.65L527.26,375.00A59.4,59.4 0 0 0 524.30,373.21Z" fill="#fbf9f9"/><path d="M533.26,365.65A70.5,70.5 0 0 1 536.65,367.97L530.12,376.95A59.4,59.4 0 0 0 527.26,375.00Z" fill="#F6B898"/><path d="M536.65,367.97A70.5,70.5 0 0 1 539.90,370.48L532.86,379.07A59.4,59.4 0 0 0 530.12,376.95Z" fill="#FBEDE6"/><path d="M539.90,370.48A70.5,70.5 0 0 1 543.00,373.18L535.48,381.34A59.4,59.4 0 0 0 532.86,379.07Z" fill="#E6F6EF"/><path d="M543.00,373.18A70.5,70.5 0 0 1 545.94,376.06L537.95,383.76A59.4,59.4 0 0 0 535.48,381.34Z" fill="#BCE8D6"/><path d="M545.94,376.06A70.5,70.5 0 0 1 548.71,379.10L540.28,386.32A59.4,59.4 0 0 0 537.95,383.76Z" fill="#FBEDE6"/><path d="M548.71,379.10A70.5,70.5 0 0 1 551.29,382.29L542.46,389.02A59.4,59.4 0 0 0 540.28,386.32Z" fill="#F9DCCD"/><path d="M551.29,382.29A70.5,70.5 0 0 1 553.69,385.63L544.48,391.83A59.4,59.4 0 0 0 542.46,389.02Z" fill="#fbf9f9"/><path d="M553.69,385.63A70.5,70.5 0 0 1 555.88,389.11L546.33,394.76A59.4,59.4 0 0 0 544.48,391.83Z" fill="#fbf9f9"/><path d="M555.88,389.11A70.5,70.5 0 0 1 557.87,392.71L548.00,397.79A59.4,59.4 0 0 0 546.33,394.76Z" fill="#D2F0E4"/><path d="M557.87,392.71A70.5,70.5 0 0 1 559.64,396.41L549.50,400.91A59.4,59.4 0 0 0 548.00,397.79Z" fill="#F9DCCD"/><path d="M559.64,396.41A70.5,70.5 0 0 1 561.20,400.22L550.81,404.12A59.4,59.4 0 0 0 549.50,400.91Z" fill="#F9DCCD"/><path d="M561.20,400.22A70.5,70.5 0 0 1 562.53,404.10L551.93,407.39A59.4,59.4 0 0 0 550.81,404.12Z" fill="#FBEDE6"/><path d="M562.53,404.10A70.5,70.5 0 0 1 563.64,408.06L552.86,410.73A59.4,59.4 0 0 0 551.93,407.39Z" fill="#FBEDE6"/><path d="M474.64,343.14A84.4,84.4 0 0 1 479.44,342.08L481.55,353.19A73.1,73.1 0 0 0 477.39,354.10Z" fill="#EFE6F7"/><path d="M479.44,342.08A84.4,84.4 0 0 1 484.30,341.31L485.76,352.51A73.1,73.1 0 0 0 481.55,353.19Z" fill="#fbf9f9"/><path d="M484.30,341.31A84.4,84.4 0 0 1 489.20,340.81L490.00,352.09A73.1,73.1 0 0 0 485.76,352.51Z" fill="#F9E8E1"/><path d="M489.20,340.81A84.4,84.4 0 0 1 494.11,340.61L494.26,351.91A73.1,73.1 0 0 0 490.00,352.09Z" fill="#fbf9f9"/><path d="M494.11,340.61A84.4,84.4 0 0 1 499.03,340.69L498.52,351.98A73.1,73.1 0 0 0 494.26,351.91Z" fill="#F9DCCD"/><path d="M499.03,340.69A84.4,84.4 0 0 1 503.94,341.05L502.77,352.29A73.1,73.1 0 0 0 498.52,351.98Z" fill="#F9E8E1"/><path d="M503.94,341.05A84.4,84.4 0 0 1 508.82,341.71L506.99,352.86A73.1,73.1 0 0 0 502.77,352.29Z" fill="#fbf9f9"/><path d="M508.82,341.71A84.4,84.4 0 0 1 513.65,342.64L511.18,353.67A73.1,73.1 0 0 0 506.99,352.86Z" fill="#F9DCCD"/><path d="M513.65,342.64A84.4,84.4 0 0 1 518.42,343.86L515.31,354.72A73.1,73.1 0 0 0 511.18,353.67Z" fill="#D4BBEF"/><path d="M518.42,343.86A84.4,84.4 0 0 1 523.11,345.35L519.37,356.01A73.1,73.1 0 0 0 515.31,354.72Z" fill="#EFE6F7"/><path d="M523.11,345.35A84.4,84.4 0 0 1 527.70,347.11L523.35,357.54A73.1,73.1 0 0 0 519.37,356.01Z" fill="#E2D2F4"/><path d="M527.70,347.11A84.4,84.4 0 0 1 532.18,349.13L527.23,359.29A73.1,73.1 0 0 0 523.35,357.54Z" fill="#D4BBEF"/><path d="M532.18,349.13A84.4,84.4 0 0 1 536.54,351.42L531.01,361.27A73.1,73.1 0 0 0 527.23,359.29Z" fill="#fbf9f9"/><path d="M536.54,351.42A84.4,84.4 0 0 1 540.76,353.95L534.66,363.47A73.1,73.1 0 0 0 531.01,361.27Z" fill="#fbf9f9"/><path d="M540.76,353.95A84.4,84.4 0 0 1 544.82,356.73L538.18,365.87A73.1,73.1 0 0 0 534.66,363.47Z" fill="#EFE6F7"/><path d="M544.82,356.73A84.4,84.4 0 0 1 548.72,359.74L541.55,368.47A73.1,73.1 0 0 0 538.18,365.87Z" fill="#D4BBEF"/><path d="M548.72,359.74A84.4,84.4 0 0 1 552.43,362.97L544.77,371.27A73.1,73.1 0 0 0 541.55,368.47Z" fill="#F9E8E1"/><path d="M552.43,362.97A84.4,84.4 0 0 1 555.95,366.41L547.81,374.25A73.1,73.1 0 0 0 544.77,371.27Z" fill="#F9DCCD"/><path d="M555.95,366.41A84.4,84.4 0 0 1 559.26,370.05L550.68,377.40A73.1,73.1 0 0 0 547.81,374.25Z" fill="#F9DCCD"/><path d="M559.26,370.05A84.4,84.4 0 0 1 562.35,373.87L553.36,380.72A73.1,73.1 0 0 0 550.68,377.40Z" fill="#E2D2F4"/><path d="M562.35,373.87A84.4,84.4 0 0 1 565.22,377.87L555.84,384.18A73.1,73.1 0 0 0 553.36,380.72Z" fill="#D4BBEF"/><path d="M565.22,377.87A84.4,84.4 0 0 1 567.84,382.03L558.12,387.79A73.1,73.1 0 0 0 555.84,384.18Z" fill="#fbf9f9"/><path d="M567.84,382.03A84.4,84.4 0 0 1 570.22,386.34L560.18,391.51A73.1,73.1 0 0 0 558.12,387.79Z" fill="#fbf9f9"/><path d="M570.22,386.34A84.4,84.4 0 0 1 572.35,390.78L562.02,395.36A73.1,73.1 0 0 0 560.18,391.51Z" fill="#F8CAB2"/><path d="M572.35,390.78A84.4,84.4 0 0 1 574.21,395.33L563.63,399.30A73.1,73.1 0 0 0 562.02,395.36Z" fill="#B58EE0"/><path d="M574.21,395.33A84.4,84.4 0 0 1 575.81,399.98L565.02,403.33A73.1,73.1 0 0 0 563.63,399.30Z" fill="#E2D2F4"/><path d="M575.81,399.98A84.4,84.4 0 0 1 577.13,404.72L566.16,407.44A73.1,73.1 0 0 0 565.02,403.33Z" fill="#EFE6F7"/><path d="M551.87,428.86A56.8,56.8 0 0 1 551.61,431.63L540.49,430.32A45.6,45.6 0 0 0 540.69,428.10Z" fill="#fbf9f9"/><path d="M551.61,431.63A56.8,56.8 0 0 1 551.22,434.37L540.17,432.53A45.6,45.6 0 0 0 540.49,430.32Z" fill="#fbf9f9"/><path d="M551.22,434.37A56.8,56.8 0 0 1 550.70,437.10L539.75,434.71A45.6,45.6 0 0 0 540.17,432.53Z" fill="#A6DEC6"/><path d="M565.54,429.80A70.5,70.5 0 0 1 565.22,433.23L554.19,431.93A59.4,59.4 0 0 0 554.46,429.04Z" fill="#fbf9f9"/><path d="M565.22,433.23A70.5,70.5 0 0 1 564.73,436.64L553.79,434.80A59.4,59.4 0 0 0 554.19,431.93Z" fill="#E6F6EF"/><path d="M564.73,436.64A70.5,70.5 0 0 1 564.08,440.02L553.24,437.65A59.4,59.4 0 0 0 553.79,434.80Z" fill="#F3A071"/><path d="M579.40,430.74A84.4,84.4 0 0 1 579.02,434.85L567.80,433.53A73.1,73.1 0 0 0 568.13,429.97Z" fill="#fbf9f9"/><path d="M579.02,434.85A84.4,84.4 0 0 1 578.44,438.93L567.30,437.06A73.1,73.1 0 0 0 567.80,433.53Z" fill="#F9E8E1"/><path d="M578.44,438.93A84.4,84.4 0 0 1 577.66,442.98L566.62,440.57A73.1,73.1 0 0 0 567.30,437.06Z" fill="#2838A0"/><path d="M549.25,442.46A56.8,56.8 0 0 1 548.30,445.17L537.83,441.19A45.6,45.6 0 0 0 538.59,439.02Z" fill="#F9DCCD"/><path d="M548.30,445.17A56.8,56.8 0 0 1 547.21,447.83L536.95,443.33A45.6,45.6 0 0 0 537.83,441.19Z" fill="#F8CAB2"/><path d="M547.21,447.83A56.8,56.8 0 0 1 545.99,450.43L535.97,445.42A45.6,45.6 0 0 0 536.95,443.33Z" fill="#F8CAB2"/><path d="M545.99,450.43A56.8,56.8 0 0 1 544.64,452.97L534.89,447.45A45.6,45.6 0 0 0 535.97,445.42Z" fill="#F8CAB2"/><path d="M562.29,446.67A70.5,70.5 0 0 1 561.11,450.04L550.73,446.09A59.4,59.4 0 0 0 551.72,443.26Z" fill="#F9DCCD"/><path d="M561.11,450.04A70.5,70.5 0 0 1 559.75,453.34L549.59,448.88A59.4,59.4 0 0 0 550.73,446.09Z" fill="#A6DEC6"/><path d="M559.75,453.34A70.5,70.5 0 0 1 558.24,456.57L548.31,451.60A59.4,59.4 0 0 0 549.59,448.88Z" fill="#A6DEC6"/><path d="M558.24,456.57A70.5,70.5 0 0 1 556.56,459.72L546.90,454.25A59.4,59.4 0 0 0 548.31,451.60Z" fill="#A6DEC6"/><path d="M575.51,450.94A84.4,84.4 0 0 1 574.10,454.97L563.54,450.96A73.1,73.1 0 0 0 564.76,447.47Z" fill="#E2D2F4"/><path d="M574.10,454.97A84.4,84.4 0 0 1 572.48,458.92L562.13,454.38A73.1,73.1 0 0 0 563.54,450.96Z" fill="#E02A1A"/><path d="M572.48,458.92A84.4,84.4 0 0 1 570.67,462.79L560.56,457.73A73.1,73.1 0 0 0 562.13,454.38Z" fill="#F26B52"/><path d="M570.67,462.79A84.4,84.4 0 0 1 568.66,466.56L558.82,461.00A73.1,73.1 0 0 0 560.56,457.73Z" fill="#F07050"/><path d="M540.62,459.10A56.8,56.8 0 0 1 538.64,461.60L530.07,454.38A45.6,45.6 0 0 0 531.67,452.38Z" fill="#BCE8D6"/><path d="M538.64,461.60A56.8,56.8 0 0 1 536.51,463.98L528.37,456.29A45.6,45.6 0 0 0 530.07,454.38Z" fill="#BCE8D6"/><path d="M536.51,463.98A56.8,56.8 0 0 1 534.26,466.24L526.56,458.10A45.6,45.6 0 0 0 528.37,456.29Z" fill="#F9DCCD"/><path d="M534.26,466.24A56.8,56.8 0 0 1 531.89,468.36L524.65,459.81A45.6,45.6 0 0 0 526.56,458.10Z" fill="#fbf9f9"/><path d="M531.89,468.36A56.8,56.8 0 0 1 529.40,470.35L522.65,461.41A45.6,45.6 0 0 0 524.65,459.81Z" fill="#BCE8D6"/><path d="M529.40,470.35A56.8,56.8 0 0 1 526.80,472.20L520.57,462.89A45.6,45.6 0 0 0 522.65,461.41Z" fill="#fbf9f9"/><path d="M526.80,472.20A56.8,56.8 0 0 1 524.10,473.90L518.40,464.26A45.6,45.6 0 0 0 520.57,462.89Z" fill="#BCE8D6"/><path d="M524.10,473.90A56.8,56.8 0 0 1 521.31,475.44L516.16,465.50A45.6,45.6 0 0 0 518.40,464.26Z" fill="#BCE8D6"/><path d="M521.31,475.44A56.8,56.8 0 0 1 518.44,476.83L513.86,466.61A45.6,45.6 0 0 0 516.16,465.50Z" fill="#BCE8D6"/><path d="M518.44,476.83A56.8,56.8 0 0 1 515.49,478.05L511.49,467.59A45.6,45.6 0 0 0 513.86,466.61Z" fill="#BCE8D6"/><path d="M515.49,478.05A56.8,56.8 0 0 1 512.48,479.11L509.08,468.44A45.6,45.6 0 0 0 511.49,467.59Z" fill="#fbf9f9"/><path d="M512.48,479.11A56.8,56.8 0 0 1 509.42,479.99L506.62,469.15A45.6,45.6 0 0 0 509.08,468.44Z" fill="#BCE8D6"/><path d="M509.42,479.99A56.8,56.8 0 0 1 506.31,480.70L504.12,469.72A45.6,45.6 0 0 0 506.62,469.15Z" fill="#BCE8D6"/><path d="M506.31,480.70A56.8,56.8 0 0 1 503.17,481.24L501.60,470.15A45.6,45.6 0 0 0 504.12,469.72Z" fill="#fbf9f9"/><path d="M503.17,481.24A56.8,56.8 0 0 1 500.00,481.60L499.06,470.44A45.6,45.6 0 0 0 501.60,470.15Z" fill="#BCE8D6"/><path d="M500.00,481.60A56.8,56.8 0 0 1 496.82,481.78L496.50,470.58A45.6,45.6 0 0 0 499.06,470.44Z" fill="#BCE8D6"/><path d="M496.82,481.78A56.8,56.8 0 0 1 493.63,481.78L493.94,470.58A45.6,45.6 0 0 0 496.50,470.58Z" fill="#fbf9f9"/><path d="M493.63,481.78A56.8,56.8 0 0 1 490.45,481.60L491.38,470.44A45.6,45.6 0 0 0 493.94,470.58Z" fill="#BCE8D6"/><path d="M490.45,481.60A56.8,56.8 0 0 1 487.28,481.24L488.84,470.15A45.6,45.6 0 0 0 491.38,470.44Z" fill="#BCE8D6"/><path d="M487.28,481.24A56.8,56.8 0 0 1 484.14,480.71L486.32,469.73A45.6,45.6 0 0 0 488.84,470.15Z" fill="#BCE8D6"/><path d="M484.14,480.71A56.8,56.8 0 0 1 481.03,480.00L483.82,469.16A45.6,45.6 0 0 0 486.32,469.73Z" fill="#fbf9f9"/><path d="M481.03,480.00A56.8,56.8 0 0 1 477.96,479.12L481.36,468.45A45.6,45.6 0 0 0 483.82,469.16Z" fill="#BCE8D6"/><path d="M477.96,479.12A56.8,56.8 0 0 1 474.95,478.07L478.95,467.60A45.6,45.6 0 0 0 481.36,468.45Z" fill="#BCE8D6"/><path d="M474.95,478.07A56.8,56.8 0 0 1 472.01,476.85L476.58,466.63A45.6,45.6 0 0 0 478.95,467.60Z" fill="#BCE8D6"/><path d="M551.58,467.33A70.5,70.5 0 0 1 549.11,470.43L540.63,463.27A59.4,59.4 0 0 0 542.70,460.66Z" fill="#F9DCCD"/><path d="M549.11,470.43A70.5,70.5 0 0 1 546.48,473.38L538.41,465.76A59.4,59.4 0 0 0 540.63,463.27Z" fill="#E6F6EF"/><path d="M546.48,473.38A70.5,70.5 0 0 1 543.68,476.18L536.05,468.12A59.4,59.4 0 0 0 538.41,465.76Z" fill="#F9DCCD"/><path d="M543.68,476.18A70.5,70.5 0 0 1 540.74,478.82L533.57,470.35A59.4,59.4 0 0 0 536.05,468.12Z" fill="#F8CAB2"/><path d="M540.74,478.82A70.5,70.5 0 0 1 537.64,481.29L530.96,472.43A59.4,59.4 0 0 0 533.57,470.35Z" fill="#F9DCCD"/><path d="M537.64,481.29A70.5,70.5 0 0 1 534.42,483.58L528.24,474.36A59.4,59.4 0 0 0 530.96,472.43Z" fill="#F9DCCD"/><path d="M534.42,483.58A70.5,70.5 0 0 1 531.07,485.69L525.42,476.14A59.4,59.4 0 0 0 528.24,474.36Z" fill="#F8CAB2"/><path d="M531.07,485.69A70.5,70.5 0 0 1 527.61,487.61L522.51,477.75A59.4,59.4 0 0 0 525.42,476.14Z" fill="#F9DCCD"/><path d="M527.61,487.61A70.5,70.5 0 0 1 524.04,489.33L519.50,479.20A59.4,59.4 0 0 0 522.51,477.75Z" fill="#F9DCCD"/><path d="M524.04,489.33A70.5,70.5 0 0 1 520.39,490.85L516.42,480.48A59.4,59.4 0 0 0 519.50,479.20Z" fill="#EE8850"/><path d="M520.39,490.85A70.5,70.5 0 0 1 516.65,492.16L513.28,481.58A59.4,59.4 0 0 0 516.42,480.48Z" fill="#F6B898"/><path d="M516.65,492.16A70.5,70.5 0 0 1 512.85,493.25L510.07,482.51A59.4,59.4 0 0 0 513.28,481.58Z" fill="#F8CAB2"/><path d="M512.85,493.25A70.5,70.5 0 0 1 508.99,494.14L506.82,483.25A59.4,59.4 0 0 0 510.07,482.51Z" fill="#F8CAB2"/><path d="M508.99,494.14A70.5,70.5 0 0 1 505.09,494.80L503.54,483.81A59.4,59.4 0 0 0 506.82,483.25Z" fill="#F9DCCD"/><path d="M505.09,494.80A70.5,70.5 0 0 1 501.16,495.25L500.22,484.19A59.4,59.4 0 0 0 503.54,483.81Z" fill="#fbf9f9"/><path d="M501.16,495.25A70.5,70.5 0 0 1 497.21,495.47L496.89,484.38A59.4,59.4 0 0 0 500.22,484.19Z" fill="#F8CAB2"/><path d="M497.21,495.47A70.5,70.5 0 0 1 493.25,495.47L493.56,484.38A59.4,59.4 0 0 0 496.89,484.38Z" fill="#F8CAB2"/><path d="M493.25,495.47A70.5,70.5 0 0 1 489.30,495.25L490.23,484.19A59.4,59.4 0 0 0 493.56,484.38Z" fill="#F8CAB2"/><path d="M489.30,495.25A70.5,70.5 0 0 1 485.37,494.81L486.92,483.82A59.4,59.4 0 0 0 490.23,484.19Z" fill="#F8CAB2"/><path d="M485.37,494.81A70.5,70.5 0 0 1 481.47,494.15L483.63,483.26A59.4,59.4 0 0 0 486.92,483.82Z" fill="#F9DCCD"/><path d="M481.47,494.15A70.5,70.5 0 0 1 477.61,493.27L480.38,482.52A59.4,59.4 0 0 0 483.63,483.26Z" fill="#fbf9f9"/><path d="M477.61,493.27A70.5,70.5 0 0 1 473.80,492.18L477.17,481.60A59.4,59.4 0 0 0 480.38,482.52Z" fill="#F8CAB2"/><path d="M473.80,492.18A70.5,70.5 0 0 1 470.07,490.87L474.03,480.50A59.4,59.4 0 0 0 477.17,481.60Z" fill="#F8CAB2"/><path d="M470.07,490.87A70.5,70.5 0 0 1 466.41,489.35L470.95,479.22A59.4,59.4 0 0 0 474.03,480.50Z" fill="#F8CAB2"/><path d="M562.69,475.68A84.4,84.4 0 0 1 559.74,479.38L551.10,472.10A73.1,73.1 0 0 0 553.66,468.89Z" fill="#fbf9f9"/><path d="M559.74,479.38A84.4,84.4 0 0 1 556.59,482.92L548.37,475.16A73.1,73.1 0 0 0 551.10,472.10Z" fill="#E2D2F4"/><path d="M556.59,482.92A84.4,84.4 0 0 1 553.24,486.27L545.47,478.07A73.1,73.1 0 0 0 548.37,475.16Z" fill="#D4BBEF"/><path d="M553.24,486.27A84.4,84.4 0 0 1 549.71,489.43L542.42,480.81A73.1,73.1 0 0 0 545.47,478.07Z" fill="#D4BBEF"/><path d="M549.71,489.43A84.4,84.4 0 0 1 546.01,492.39L539.21,483.37A73.1,73.1 0 0 0 542.42,480.81Z" fill="#D4BBEF"/><path d="M546.01,492.39A84.4,84.4 0 0 1 542.15,495.14L535.87,485.74A73.1,73.1 0 0 0 539.21,483.37Z" fill="#B58EE0"/><path d="M542.15,495.14A84.4,84.4 0 0 1 538.14,497.66L532.39,487.93A73.1,73.1 0 0 0 535.87,485.74Z" fill="#D4BBEF"/><path d="M538.14,497.66A84.4,84.4 0 0 1 534.00,499.95L528.80,489.92A73.1,73.1 0 0 0 532.39,487.93Z" fill="#E2D2F4"/><path d="M534.00,499.95A84.4,84.4 0 0 1 529.73,502.01L525.11,491.70A73.1,73.1 0 0 0 528.80,489.92Z" fill="#D4BBEF"/><path d="M529.73,502.01A84.4,84.4 0 0 1 525.35,503.83L521.32,493.28A73.1,73.1 0 0 0 525.11,491.70Z" fill="#E2D2F4"/><path d="M525.35,503.83A84.4,84.4 0 0 1 520.88,505.40L517.45,494.63A73.1,73.1 0 0 0 521.32,493.28Z" fill="#D4BBEF"/><path d="M520.88,505.40A84.4,84.4 0 0 1 516.33,506.71L513.50,495.77A73.1,73.1 0 0 0 517.45,494.63Z" fill="#A271D3"/><path d="M516.33,506.71A84.4,84.4 0 0 1 511.71,507.77L509.50,496.69A73.1,73.1 0 0 0 513.50,495.77Z" fill="#A271D3"/><path d="M511.71,507.77A84.4,84.4 0 0 1 507.04,508.56L505.46,497.38A73.1,73.1 0 0 0 509.50,496.69Z" fill="#E2D2F4"/><path d="M507.04,508.56A84.4,84.4 0 0 1 502.34,509.10L501.38,497.84A73.1,73.1 0 0 0 505.46,497.38Z" fill="#D4BBEF"/><path d="M502.34,509.10A84.4,84.4 0 0 1 497.61,509.37L497.28,498.07A73.1,73.1 0 0 0 501.38,497.84Z" fill="#B58EE0"/><path d="M497.61,509.37A84.4,84.4 0 0 1 492.87,509.37L493.18,498.07A73.1,73.1 0 0 0 497.28,498.07Z" fill="#D4BBEF"/><path d="M492.87,509.37A84.4,84.4 0 0 1 488.14,509.10L489.08,497.84A73.1,73.1 0 0 0 493.18,498.07Z" fill="#D4BBEF"/><path d="M488.14,509.10A84.4,84.4 0 0 1 483.43,508.58L485.01,497.39A73.1,73.1 0 0 0 489.08,497.84Z" fill="#D4BBEF"/><path d="M483.43,508.58A84.4,84.4 0 0 1 478.76,507.78L480.96,496.70A73.1,73.1 0 0 0 485.01,497.39Z" fill="#B58EE0"/><path d="M478.76,507.78A84.4,84.4 0 0 1 474.14,506.73L476.96,495.79A73.1,73.1 0 0 0 480.96,496.70Z" fill="#D4BBEF"/><path d="M474.14,506.73A84.4,84.4 0 0 1 469.59,505.42L473.02,494.65A73.1,73.1 0 0 0 476.96,495.79Z" fill="#B58EE0"/><path d="M469.59,505.42A84.4,84.4 0 0 1 465.11,503.86L469.14,493.30A73.1,73.1 0 0 0 473.02,494.65Z" fill="#A271D3"/><path d="M465.11,503.86A84.4,84.4 0 0 1 460.74,502.04L465.35,491.73A73.1,73.1 0 0 0 469.14,493.30Z" fill="#B58EE0"/><path d="M466.03,473.74A56.8,56.8 0 0 1 463.58,472.19L469.82,462.88A45.6,45.6 0 0 0 471.78,464.13Z" fill="#fbf9f9"/><path d="M463.58,472.19A56.8,56.8 0 0 1 461.22,470.51L467.92,461.54A45.6,45.6 0 0 0 469.82,462.88Z" fill="#D2F0E4"/><path d="M461.22,470.51A56.8,56.8 0 0 1 458.94,468.72L466.09,460.10A45.6,45.6 0 0 0 467.92,461.54Z" fill="#BCE8D6"/><path d="M458.94,468.72A56.8,56.8 0 0 1 456.75,466.81L464.33,458.57A45.6,45.6 0 0 0 466.09,460.10Z" fill="#fbf9f9"/><path d="M459.00,485.49A70.5,70.5 0 0 1 455.96,483.57L462.13,474.35A59.4,59.4 0 0 0 464.70,475.97Z" fill="#F9DCCD"/><path d="M455.96,483.57A70.5,70.5 0 0 1 453.02,481.49L459.66,472.59A59.4,59.4 0 0 0 462.13,474.35Z" fill="#F9DCCD"/><path d="M453.02,481.49A70.5,70.5 0 0 1 450.19,479.26L457.28,470.72A59.4,59.4 0 0 0 459.66,472.59Z" fill="#F3A071"/><path d="M450.19,479.26A70.5,70.5 0 0 1 447.48,476.89L454.99,468.72A59.4,59.4 0 0 0 457.28,470.72Z" fill="#FBEDE6"/><path d="M451.86,497.42A84.4,84.4 0 0 1 448.22,495.11L454.51,485.73A73.1,73.1 0 0 0 457.66,487.72Z" fill="#EFE6F7"/><path d="M448.22,495.11A84.4,84.4 0 0 1 444.70,492.63L451.46,483.57A73.1,73.1 0 0 0 454.51,485.73Z" fill="#E2D2F4"/><path d="M444.70,492.63A84.4,84.4 0 0 1 441.32,489.96L448.53,481.26A73.1,73.1 0 0 0 451.46,483.57Z" fill="#3848A8"/><path d="M441.32,489.96A84.4,84.4 0 0 1 438.07,487.13L445.72,478.81A73.1,73.1 0 0 0 448.53,481.26Z" fill="#E2D2F4"/><path d="M452.73,462.71A56.8,56.8 0 0 1 450.75,460.36L459.51,453.39A45.6,45.6 0 0 0 461.10,455.28Z" fill="#fbf9f9"/><path d="M450.75,460.36A56.8,56.8 0 0 1 448.90,457.90L458.03,451.42A45.6,45.6 0 0 0 459.51,453.39Z" fill="#D2F0E4"/><path d="M448.90,457.90A56.8,56.8 0 0 1 447.19,455.35L456.66,449.37A45.6,45.6 0 0 0 458.03,451.42Z" fill="#D2F0E4"/><path d="M447.19,455.35A56.8,56.8 0 0 1 445.62,452.71L455.39,447.25A45.6,45.6 0 0 0 456.66,449.37Z" fill="#D2F0E4"/><path d="M445.62,452.71A56.8,56.8 0 0 1 444.19,449.99L454.25,445.06A45.6,45.6 0 0 0 455.39,447.25Z" fill="#D2F0E4"/><path d="M444.19,449.99A56.8,56.8 0 0 1 442.92,447.19L453.22,442.82A45.6,45.6 0 0 0 454.25,445.06Z" fill="#D2F0E4"/><path d="M442.92,447.19A56.8,56.8 0 0 1 441.79,444.33L452.32,440.52A45.6,45.6 0 0 0 453.22,442.82Z" fill="#BCE8D6"/><path d="M442.48,471.81A70.5,70.5 0 0 1 440.03,468.89L448.71,461.98A59.4,59.4 0 0 0 450.78,464.44Z" fill="#F8CAB2"/><path d="M440.03,468.89A70.5,70.5 0 0 1 437.73,465.84L446.78,459.41A59.4,59.4 0 0 0 448.71,461.98Z" fill="#F6B898"/><path d="M437.73,465.84A70.5,70.5 0 0 1 435.61,462.67L444.99,456.74A59.4,59.4 0 0 0 446.78,459.41Z" fill="#FBEDE6"/><path d="M435.61,462.67A70.5,70.5 0 0 1 433.66,459.39L443.35,453.98A59.4,59.4 0 0 0 444.99,456.74Z" fill="#F8CAB2"/><path d="M433.66,459.39A70.5,70.5 0 0 1 431.89,456.02L441.86,451.13A59.4,59.4 0 0 0 443.35,453.98Z" fill="#F8CAB2"/><path d="M431.89,456.02A70.5,70.5 0 0 1 430.30,452.55L440.52,448.21A59.4,59.4 0 0 0 441.86,451.13Z" fill="#F9DCCD"/><path d="M430.30,452.55A70.5,70.5 0 0 1 428.91,449.00L439.35,445.22A59.4,59.4 0 0 0 440.52,448.21Z" fill="#F8CAB2"/><path d="M432.09,481.04A84.4,84.4 0 0 1 429.15,477.54L437.99,470.51A73.1,73.1 0 0 0 440.54,473.53Z" fill="#A271D3"/><path d="M429.15,477.54A84.4,84.4 0 0 1 426.40,473.89L435.61,467.35A73.1,73.1 0 0 0 437.99,470.51Z" fill="#B58EE0"/><path d="M426.40,473.89A84.4,84.4 0 0 1 423.86,470.10L433.41,464.06A73.1,73.1 0 0 0 435.61,467.35Z" fill="#F9E8E1"/><path d="M423.86,470.10A84.4,84.4 0 0 1 421.53,466.18L431.39,460.66A73.1,73.1 0 0 0 433.41,464.06Z" fill="#D4BBEF"/><path d="M421.53,466.18A84.4,84.4 0 0 1 419.41,462.13L429.55,457.16A73.1,73.1 0 0 0 431.39,460.66Z" fill="#E2D2F4"/><path d="M419.41,462.13A84.4,84.4 0 0 1 417.51,457.98L427.91,453.56A73.1,73.1 0 0 0 429.55,457.16Z" fill="#E2D2F4"/><path d="M417.51,457.98A84.4,84.4 0 0 1 415.84,453.73L426.46,449.88A73.1,73.1 0 0 0 427.91,453.56Z" fill="#D4BBEF"/><path d="M439.46,435.94A56.8,56.8 0 0 1 438.92,432.63L450.01,431.13A45.6,45.6 0 0 0 450.45,433.78Z" fill="#fbf9f9"/><path d="M438.92,432.63A56.8,56.8 0 0 1 438.56,429.30L449.73,428.45A45.6,45.6 0 0 0 450.01,431.13Z" fill="#F9DCCD"/><path d="M438.56,429.30A56.8,56.8 0 0 1 438.41,425.96L449.61,425.77A45.6,45.6 0 0 0 449.73,428.45Z" fill="#E6F6EF"/><path d="M438.41,425.96A56.8,56.8 0 0 1 438.45,422.61L449.64,423.08A45.6,45.6 0 0 0 449.61,425.77Z" fill="#fbf9f9"/><path d="M438.45,422.61A56.8,56.8 0 0 1 438.69,419.27L449.83,420.40A45.6,45.6 0 0 0 449.64,423.08Z" fill="#F9DCCD"/><path d="M438.69,419.27A56.8,56.8 0 0 1 439.13,415.95L450.18,417.73A45.6,45.6 0 0 0 449.83,420.40Z" fill="#BCE8D6"/><path d="M439.13,415.95A56.8,56.8 0 0 1 439.76,412.66L450.69,415.09A45.6,45.6 0 0 0 450.18,417.73Z" fill="#BCE8D6"/><path d="M439.76,412.66A56.8,56.8 0 0 1 440.58,409.41L451.35,412.49A45.6,45.6 0 0 0 450.69,415.09Z" fill="#D2F0E4"/><path d="M440.58,409.41A56.8,56.8 0 0 1 441.59,406.22L452.16,409.93A45.6,45.6 0 0 0 451.35,412.49Z" fill="#F9DCCD"/><path d="M441.59,406.22A56.8,56.8 0 0 1 442.79,403.10L453.13,407.42A45.6,45.6 0 0 0 452.16,409.93Z" fill="#D2F0E4"/><path d="M442.79,403.10A56.8,56.8 0 0 1 444.17,400.05L454.24,404.97A45.6,45.6 0 0 0 453.13,407.42Z" fill="#fbf9f9"/><path d="M444.17,400.05A56.8,56.8 0 0 1 445.73,397.08L455.49,402.59A45.6,45.6 0 0 0 454.24,404.97Z" fill="#F9DCCD"/><path d="M445.73,397.08A56.8,56.8 0 0 1 447.47,394.22L456.88,400.29A45.6,45.6 0 0 0 455.49,402.59Z" fill="#fbf9f9"/><path d="M447.47,394.22A56.8,56.8 0 0 1 449.36,391.46L458.40,398.07A45.6,45.6 0 0 0 456.88,400.29Z" fill="#E6F6EF"/><path d="M449.36,391.46A56.8,56.8 0 0 1 451.42,388.81L460.05,395.95A45.6,45.6 0 0 0 458.40,398.07Z" fill="#fbf9f9"/><path d="M451.42,388.81A56.8,56.8 0 0 1 453.63,386.30L461.82,393.93A45.6,45.6 0 0 0 460.05,395.95Z" fill="#E6F6EF"/><path d="M453.63,386.30A56.8,56.8 0 0 1 455.98,383.91L463.71,392.02A45.6,45.6 0 0 0 461.82,393.93Z" fill="#fbf9f9"/><path d="M455.98,383.91A56.8,56.8 0 0 1 458.47,381.67L465.71,390.22A45.6,45.6 0 0 0 463.71,392.02Z" fill="#fbf9f9"/><path d="M458.47,381.67A56.8,56.8 0 0 1 461.09,379.59L467.81,388.54A45.6,45.6 0 0 0 465.71,390.22Z" fill="#E6F6EF"/><path d="M461.09,379.59A56.8,56.8 0 0 1 463.82,377.65L470.01,386.99A45.6,45.6 0 0 0 467.81,388.54Z" fill="#fbf9f9"/><path d="M463.82,377.65A56.8,56.8 0 0 1 466.67,375.89L472.29,385.57A45.6,45.6 0 0 0 470.01,386.99Z" fill="#BCE8D6"/><path d="M466.67,375.89A56.8,56.8 0 0 1 469.61,374.29L474.66,384.29A45.6,45.6 0 0 0 472.29,385.57Z" fill="#D2F0E4"/><path d="M469.61,374.29A56.8,56.8 0 0 1 472.64,372.87L477.09,383.15A45.6,45.6 0 0 0 474.66,384.29Z" fill="#fbf9f9"/><path d="M426.02,438.57A70.5,70.5 0 0 1 425.34,434.47L436.34,432.98A59.4,59.4 0 0 0 436.91,436.44Z" fill="#FBEDE6"/><path d="M425.34,434.47A70.5,70.5 0 0 1 424.90,430.34L435.97,429.50A59.4,59.4 0 0 0 436.34,432.98Z" fill="#FBEDE6"/><path d="M424.90,430.34A70.5,70.5 0 0 1 424.71,426.19L435.81,426.00A59.4,59.4 0 0 0 435.97,429.50Z" fill="#F9DCCD"/><path d="M424.71,426.19A70.5,70.5 0 0 1 424.76,422.03L435.85,422.50A59.4,59.4 0 0 0 435.81,426.00Z" fill="#FBEDE6"/><path d="M424.76,422.03A70.5,70.5 0 0 1 425.06,417.89L436.10,419.01A59.4,59.4 0 0 0 435.85,422.50Z" fill="#A6DEC6"/><path d="M425.06,417.89A70.5,70.5 0 0 1 425.60,413.77L436.56,415.53A59.4,59.4 0 0 0 436.10,419.01Z" fill="#FBEDE6"/><path d="M425.60,413.77A70.5,70.5 0 0 1 426.38,409.68L437.22,412.10A59.4,59.4 0 0 0 436.56,415.53Z" fill="#F3A071"/><path d="M426.38,409.68A70.5,70.5 0 0 1 427.41,405.66L438.08,408.70A59.4,59.4 0 0 0 437.22,412.10Z" fill="#F6B898"/><path d="M427.41,405.66A70.5,70.5 0 0 1 428.66,401.69L439.14,405.36A59.4,59.4 0 0 0 438.08,408.70Z" fill="#FBEDE6"/><path d="M428.66,401.69A70.5,70.5 0 0 1 430.15,397.81L440.39,402.09A59.4,59.4 0 0 0 439.14,405.36Z" fill="#F9DCCD"/><path d="M430.15,397.81A70.5,70.5 0 0 1 431.87,394.03L441.84,398.90A59.4,59.4 0 0 0 440.39,402.09Z" fill="#F9DCCD"/><path d="M431.87,394.03A70.5,70.5 0 0 1 433.80,390.35L443.47,395.80A59.4,59.4 0 0 0 441.84,398.90Z" fill="#BCE8D6"/><path d="M433.80,390.35A70.5,70.5 0 0 1 435.95,386.79L445.28,392.81A59.4,59.4 0 0 0 443.47,395.80Z" fill="#F9DCCD"/><path d="M435.95,386.79A70.5,70.5 0 0 1 438.31,383.37L447.26,389.92A59.4,59.4 0 0 0 445.28,392.81Z" fill="#F9DCCD"/><path d="M438.31,383.37A70.5,70.5 0 0 1 440.86,380.09L449.41,387.16A59.4,59.4 0 0 0 447.26,389.92Z" fill="#E6F6EF"/><path d="M440.86,380.09A70.5,70.5 0 0 1 443.60,376.96L451.72,384.53A59.4,59.4 0 0 0 449.41,387.16Z" fill="#E6F6EF"/><path d="M443.60,376.96A70.5,70.5 0 0 1 446.52,374.00L454.18,382.03A59.4,59.4 0 0 0 451.72,384.53Z" fill="#F9DCCD"/><path d="M446.52,374.00A70.5,70.5 0 0 1 449.61,371.22L456.79,379.69A59.4,59.4 0 0 0 454.18,382.03Z" fill="#F9DCCD"/><path d="M449.61,371.22A70.5,70.5 0 0 1 452.86,368.63L459.52,377.51A59.4,59.4 0 0 0 456.79,379.69Z" fill="#F9DCCD"/><path d="M452.86,368.63A70.5,70.5 0 0 1 456.25,366.23L462.38,375.49A59.4,59.4 0 0 0 459.52,377.51Z" fill="#FBEDE6"/><path d="M456.25,366.23A70.5,70.5 0 0 1 459.78,364.04L465.36,373.64A59.4,59.4 0 0 0 462.38,375.49Z" fill="#F3A071"/><path d="M459.78,364.04A70.5,70.5 0 0 1 463.44,362.06L468.44,371.97A59.4,59.4 0 0 0 465.36,373.64Z" fill="#FBEDE6"/><path d="M463.44,362.06A70.5,70.5 0 0 1 467.20,360.30L471.61,370.49A59.4,59.4 0 0 0 468.44,371.97Z" fill="#fbf9f9"/><path d="M412.38,441.25A84.4,84.4 0 0 1 411.57,436.34L422.76,434.82A73.1,73.1 0 0 0 423.47,439.07Z" fill="#EFE6F7"/><path d="M411.57,436.34A84.4,84.4 0 0 1 411.04,431.39L422.31,430.54A73.1,73.1 0 0 0 422.76,434.82Z" fill="#F5B8A2"/><path d="M411.04,431.39A84.4,84.4 0 0 1 410.81,426.42L422.11,426.23A73.1,73.1 0 0 0 422.31,430.54Z" fill="#F9E8E1"/><path d="M410.81,426.42A84.4,84.4 0 0 1 410.87,421.45L422.16,421.92A73.1,73.1 0 0 0 422.11,426.23Z" fill="#EFE6F7"/><path d="M410.87,421.45A84.4,84.4 0 0 1 411.23,416.48L422.47,417.62A73.1,73.1 0 0 0 422.16,421.92Z" fill="#F26B52"/><path d="M411.23,416.48A84.4,84.4 0 0 1 411.88,411.55L423.03,413.35A73.1,73.1 0 0 0 422.47,417.62Z" fill="#E2D2F4"/><path d="M411.88,411.55A84.4,84.4 0 0 1 412.82,406.66L423.85,409.12A73.1,73.1 0 0 0 423.03,413.35Z" fill="#4A2498"/><path d="M412.82,406.66A84.4,84.4 0 0 1 414.04,401.84L424.91,404.94A73.1,73.1 0 0 0 423.85,409.12Z" fill="#5A2AA8"/><path d="M414.04,401.84A84.4,84.4 0 0 1 415.55,397.10L426.21,400.83A73.1,73.1 0 0 0 424.91,404.94Z" fill="#EFE6F7"/><path d="M415.55,397.10A84.4,84.4 0 0 1 417.33,392.45L427.75,396.81A73.1,73.1 0 0 0 426.21,400.83Z" fill="#B58EE0"/><path d="M417.33,392.45A84.4,84.4 0 0 1 419.38,387.92L429.53,392.89A73.1,73.1 0 0 0 427.75,396.81Z" fill="#D4BBEF"/><path d="M419.38,387.92A84.4,84.4 0 0 1 421.70,383.52L431.54,389.07A73.1,73.1 0 0 0 429.53,392.89Z" fill="#F5B8A2"/><path d="M421.70,383.52A84.4,84.4 0 0 1 424.27,379.26L433.77,385.38A73.1,73.1 0 0 0 431.54,389.07Z" fill="#D4BBEF"/><path d="M424.27,379.26A84.4,84.4 0 0 1 427.09,375.16L436.21,381.83A73.1,73.1 0 0 0 433.77,385.38Z" fill="#D4BBEF"/><path d="M427.09,375.16A84.4,84.4 0 0 1 430.14,371.23L438.85,378.43A73.1,73.1 0 0 0 436.21,381.83Z" fill="#F9E8E1"/><path d="M430.14,371.23A84.4,84.4 0 0 1 433.43,367.49L441.70,375.19A73.1,73.1 0 0 0 438.85,378.43Z" fill="#F9E8E1"/><path d="M433.43,367.49A84.4,84.4 0 0 1 436.92,363.95L444.72,372.12A73.1,73.1 0 0 0 441.70,375.19Z" fill="#D4BBEF"/><path d="M436.92,363.95A84.4,84.4 0 0 1 440.62,360.62L447.93,369.24A73.1,73.1 0 0 0 444.72,372.12Z" fill="#D4BBEF"/><path d="M440.62,360.62A84.4,84.4 0 0 1 444.51,357.52L451.30,366.55A73.1,73.1 0 0 0 447.93,369.24Z" fill="#D4BBEF"/><path d="M444.51,357.52A84.4,84.4 0 0 1 448.57,354.65L454.82,364.07A73.1,73.1 0 0 0 451.30,366.55Z" fill="#D4BBEF"/><path d="M448.57,354.65A84.4,84.4 0 0 1 452.80,352.02L458.48,361.79A73.1,73.1 0 0 0 454.82,364.07Z" fill="#5A2AA8"/><path d="M452.80,352.02A84.4,84.4 0 0 1 457.17,349.65L462.27,359.74A73.1,73.1 0 0 0 458.48,361.79Z" fill="#EFE6F7"/><path d="M457.17,349.65A84.4,84.4 0 0 1 461.68,347.54L466.17,357.91A73.1,73.1 0 0 0 462.27,359.74Z" fill="#EFE6F7"/></g>
<g fill="none" stroke="#1a1a1a" stroke-width="0.38"><path d="M480.24,369.17A57.8,57.8 0 0 1 551.52,412.00L538.66,414.97A44.6,44.6 0 0 0 483.66,381.92Z"/><path d="M476.69,355.94A71.5,71.5 0 0 1 564.87,408.92L552.10,411.86A58.4,58.4 0 0 0 480.08,368.59Z"/><path d="M473.10,342.51A85.4,85.4 0 0 1 578.41,405.79L565.45,408.78A72.1,72.1 0 0 0 476.54,355.36Z"/><path d="M552.92,428.03A57.8,57.8 0 0 1 551.47,438.20L538.62,435.18A44.6,44.6 0 0 0 539.74,427.33Z"/><path d="M566.60,428.74A71.5,71.5 0 0 1 564.81,441.33L552.06,438.34A58.4,58.4 0 0 0 553.52,428.06Z"/><path d="M580.48,429.47A85.4,85.4 0 0 1 578.34,444.50L565.40,441.46A72.1,72.1 0 0 0 567.20,428.77Z"/><path d="M550.47,441.90A57.8,57.8 0 0 1 545.05,454.25L533.67,447.57A44.6,44.6 0 0 0 537.85,438.04Z"/><path d="M563.58,445.90A71.5,71.5 0 0 1 556.87,461.18L545.57,454.55A58.4,58.4 0 0 0 551.05,442.07Z"/><path d="M576.87,449.97A85.4,85.4 0 0 1 568.86,468.22L557.39,461.49A72.1,72.1 0 0 0 564.15,446.08Z"/><path d="M541.96,458.97A57.8,57.8 0 0 1 470.77,477.38L476.35,465.42A44.6,44.6 0 0 0 531.28,451.22Z"/><path d="M553.04,467.03A71.5,71.5 0 0 1 464.98,489.80L470.52,477.93A58.4,58.4 0 0 0 542.45,459.33Z"/><path d="M564.29,475.20A85.4,85.4 0 0 1 459.11,502.40L464.73,490.34A72.1,72.1 0 0 0 553.53,467.38Z"/><path d="M466.30,475.06A57.8,57.8 0 0 1 455.41,466.93L464.50,457.35A44.6,44.6 0 0 0 472.90,463.62Z"/><path d="M459.45,486.92A71.5,71.5 0 0 1 445.98,476.86L455.00,467.36A58.4,58.4 0 0 0 466.00,475.58Z"/><path d="M452.50,498.96A85.4,85.4 0 0 1 436.41,486.95L445.57,477.30A72.1,72.1 0 0 0 459.15,487.44Z"/><path d="M452.59,464.05A57.8,57.8 0 0 1 440.55,443.82L453.03,439.52A44.6,44.6 0 0 0 462.32,455.13Z"/><path d="M442.48,473.30A71.5,71.5 0 0 1 427.60,448.28L439.98,444.01A58.4,58.4 0 0 0 452.14,464.45Z"/><path d="M432.24,482.70A85.4,85.4 0 0 1 414.45,452.80L427.03,448.47A72.1,72.1 0 0 0 442.04,473.71Z"/><path d="M438.66,437.02A57.8,57.8 0 0 1 473.08,371.60L478.13,383.79A44.6,44.6 0 0 0 451.57,434.27Z"/><path d="M425.26,439.87A71.5,71.5 0 0 1 467.84,358.94L472.85,371.05A58.4,58.4 0 0 0 438.08,437.14Z"/><path d="M411.67,442.76A85.4,85.4 0 0 1 462.52,346.10L467.61,358.39A72.1,72.1 0 0 0 424.68,439.99Z"/></g>
<g fill="none" stroke="#333" stroke-width="0.35"><path d="M476.82,341.60L476.41,339.75"/><path d="M481.71,340.67L481.41,338.80"/><path d="M486.65,340.03L486.46,338.14"/><path d="M491.61,339.68L491.53,337.78"/><path d="M496.59,339.61L496.62,337.71"/><path d="M501.56,339.84L501.71,337.94"/><path d="M506.52,340.35L506.77,338.47"/><path d="M511.43,341.16L511.79,339.29"/><path d="M516.29,342.24L516.76,340.40"/><path d="M521.08,343.61L521.65,341.80"/><path d="M525.77,345.26L526.45,343.49"/><path d="M530.37,347.18L531.15,345.45"/><path d="M534.84,349.36L535.73,347.68"/><path d="M539.18,351.80L540.16,350.17"/><path d="M543.38,354.49L544.45,352.92"/><path d="M547.40,357.41L548.56,355.91"/><path d="M551.25,360.57L552.50,359.14"/><path d="M554.91,363.95L556.24,362.59"/><path d="M558.37,367.53L559.77,366.25"/><path d="M561.61,371.31L563.09,370.11"/><path d="M564.63,375.27L566.17,374.16"/><path d="M567.41,379.40L569.01,378.38"/><path d="M569.94,383.68L571.60,382.76"/><path d="M572.22,388.11L573.93,387.29"/><path d="M574.24,392.66L576.00,391.94"/><path d="M575.99,397.32L577.79,396.71"/><path d="M577.47,402.08L579.30,401.57"/><path d="M580.23,432.89L582.13,433.06"/><path d="M579.75,437.03L581.63,437.30"/><path d="M579.06,441.15L580.92,441.51"/><path d="M575.78,453.30L577.57,453.93"/><path d="M574.24,457.34L576.00,458.06"/><path d="M572.50,461.29L574.22,462.10"/><path d="M570.57,465.16L572.25,466.05"/><path d="M562.03,478.17L563.51,479.36"/><path d="M558.94,481.84L560.36,483.10"/><path d="M555.65,485.33L556.99,486.67"/><path d="M552.17,488.62L553.44,490.04"/><path d="M548.51,491.72L549.69,493.20"/><path d="M544.68,494.60L545.78,496.15"/><path d="M540.70,497.27L541.71,498.88"/><path d="M536.57,499.71L537.49,501.37"/><path d="M532.31,501.91L533.14,503.63"/><path d="M527.94,503.88L528.67,505.63"/><path d="M523.46,505.59L524.09,507.38"/><path d="M518.89,507.05L519.42,508.87"/><path d="M514.25,508.25L514.68,510.10"/><path d="M509.55,509.19L509.87,511.06"/><path d="M504.81,509.86L505.02,511.75"/><path d="M500.03,510.26L500.14,512.16"/><path d="M495.24,510.40L495.24,512.30"/><path d="M490.45,510.27L490.34,512.16"/><path d="M485.67,509.87L485.46,511.75"/><path d="M480.92,509.20L480.60,511.07"/><path d="M476.22,508.26L475.80,510.12"/><path d="M471.58,507.07L471.05,508.89"/><path d="M467.01,505.61L466.38,507.41"/><path d="M462.53,503.90L461.80,505.66"/><path d="M449.49,497.14L448.47,498.74"/><path d="M445.87,494.71L444.77,496.26"/><path d="M442.37,492.10L441.20,493.59"/><path d="M439.02,489.32L437.77,490.75"/><path d="M429.83,479.95L428.37,481.17"/><path d="M426.95,476.34L425.43,477.48"/><path d="M424.28,472.57L422.70,473.63"/><path d="M421.81,468.66L420.17,469.64"/><path d="M419.55,464.63L417.87,465.51"/><path d="M417.52,460.48L415.79,461.27"/><path d="M415.72,456.23L413.95,456.92"/><path d="M410.95,438.96L409.07,439.27"/><path d="M410.27,433.98L408.38,434.17"/><path d="M409.89,428.95L407.99,429.04"/><path d="M409.81,423.92L407.91,423.90"/><path d="M410.02,418.89L408.12,418.75"/><path d="M410.53,413.88L408.64,413.63"/><path d="M411.33,408.91L409.46,408.55"/><path d="M412.42,404.00L410.58,403.53"/><path d="M413.80,399.16L411.99,398.58"/><path d="M415.47,394.40L413.69,393.72"/><path d="M417.41,389.76L415.68,388.98"/><path d="M419.62,385.24L417.94,384.35"/><path d="M422.10,380.85L420.47,379.87"/><path d="M424.83,376.62L423.26,375.54"/><path d="M427.80,372.56L426.30,371.39"/><path d="M431.01,368.68L429.58,367.42"/><path d="M434.44,364.99L433.08,363.66"/><path d="M438.08,361.52L436.81,360.10"/><path d="M441.92,358.26L440.73,356.78"/><path d="M445.94,355.24L444.85,353.68"/><path d="M450.14,352.46L449.14,350.84"/><path d="M454.49,349.93L453.59,348.26"/><path d="M458.99,347.66L458.18,345.94"/></g>
<g font-size="3.3" fill="#000" stroke="#000" stroke-width="0.05"><text transform="translate(495.2,425.0) rotate(437.57)" x="-88.3" y="1.1" text-anchor="end">Age</text><text transform="translate(495.2,425.0) rotate(440.91)" x="-88.3" y="1.1" text-anchor="end">Sex</text><text transform="translate(495.2,425.0) rotate(444.25)" x="-88.3" y="1.1" text-anchor="end">BMI</text><text transform="translate(495.2,425.0) rotate(447.59)" x="-88.3" y="1.1" text-anchor="end">WC</text><text transform="translate(495.2,425.0) rotate(-89.07)" x="88.3" y="1.1">HC</text><text transform="translate(495.2,425.0) rotate(-85.73)" x="88.3" y="1.1">WHR</text><text transform="translate(495.2,425.0) rotate(-82.39)" x="88.3" y="1.1">SBP</text><text transform="translate(495.2,425.0) rotate(-79.04)" x="88.3" y="1.1">DBP</text><text transform="translate(495.2,425.0) rotate(-75.70)" x="88.3" y="1.1">HR</text><text transform="translate(495.2,425.0) rotate(-72.36)" x="88.3" y="1.1">Cr</text><text transform="translate(495.2,425.0) rotate(-69.02)" x="88.3" y="1.1">CHOL</text><text transform="translate(495.2,425.0) rotate(-65.68)" x="88.3" y="1.1">TG</text><text transform="translate(495.2,425.0) rotate(-62.34)" x="88.3" y="1.1">HDL-C</text><text transform="translate(495.2,425.0) rotate(-59.00)" x="88.3" y="1.1">LDL-C</text><text transform="translate(495.2,425.0) rotate(-55.66)" x="88.3" y="1.1">UA</text><text transform="translate(495.2,425.0) rotate(-52.32)" x="88.3" y="1.1">ALT</text><text transform="translate(495.2,425.0) rotate(-48.98)" x="88.3" y="1.1">AST</text><text transform="translate(495.2,425.0) rotate(-45.64)" x="88.3" y="1.1">GGT</text><text transform="translate(495.2,425.0) rotate(-42.30)" x="88.3" y="1.1">ALP</text><text transform="translate(495.2,425.0) rotate(-38.96)" x="88.3" y="1.1">TBIL</text><text transform="translate(495.2,425.0) rotate(-35.61)" x="88.3" y="1.1">HbA1c</text><text transform="translate(495.2,425.0) rotate(-32.27)" x="88.3" y="1.1">hs-CRP</text><text transform="translate(495.2,425.0) rotate(-28.93)" x="88.3" y="1.1">IL-1β</text><text transform="translate(495.2,425.0) rotate(-25.59)" x="88.3" y="1.1">IL-6</text><text transform="translate(495.2,425.0) rotate(-22.25)" x="88.3" y="1.1">IL-10</text><text transform="translate(495.2,425.0) rotate(-18.91)" x="88.3" y="1.1">TNF-α</text><text transform="translate(495.2,425.0) rotate(-15.57)" x="88.3" y="1.1">BUN</text><text transform="translate(495.2,425.0) rotate(5.30)" x="88.3" y="1.1">K00505</text><text transform="translate(495.2,425.0) rotate(8.10)" x="88.3" y="1.1">K01915</text><text transform="translate(495.2,425.0) rotate(10.90)" x="88.3" y="1.1">K14260</text><text transform="translate(495.2,425.0) rotate(19.35)" x="88.3" y="1.1">Escherichia coli</text><text transform="translate(495.2,425.0) rotate(22.25)" x="88.3" y="1.1">Bacteroides uniformis</text><text transform="translate(495.2,425.0) rotate(25.15)" x="88.3" y="1.1">Bacteroides thetaiotaomicron</text><text transform="translate(495.2,425.0) rotate(28.05)" x="88.3" y="1.1">Bacteroides ovatus</text><text transform="translate(495.2,425.0) rotate(38.51)" x="88.3" y="1.1">Allocholic acid</text><text transform="translate(495.2,425.0) rotate(41.72)" x="88.3" y="1.1">Isolithocholic acid</text><text transform="translate(495.2,425.0) rotate(44.94)" x="88.3" y="1.1">Dehydrocholic acid</text><text transform="translate(495.2,425.0) rotate(48.16)" x="88.3" y="1.1">12-Ketolithocholic acid</text><text transform="translate(495.2,425.0) rotate(51.38)" x="88.3" y="1.1">7-Ketolithocholic acid</text><text transform="translate(495.2,425.0) rotate(54.59)" x="88.3" y="1.1">β-Muricholic acid</text><text transform="translate(495.2,425.0) rotate(57.81)" x="88.3" y="1.1">α-Muricholic acid</text><text transform="translate(495.2,425.0) rotate(61.03)" x="88.3" y="1.1">Hyodeoxycholic acid</text><text transform="translate(495.2,425.0) rotate(64.24)" x="88.3" y="1.1">Hyocholic acid</text><text transform="translate(495.2,425.0) rotate(67.46)" x="88.3" y="1.1">Ursodeoxycholic acid</text><text transform="translate(495.2,425.0) rotate(70.68)" x="88.3" y="1.1">Lithocholic acid</text><text transform="translate(495.2,425.0) rotate(73.89)" x="88.3" y="1.1">Deoxycholic acid</text><text transform="translate(495.2,425.0) rotate(77.11)" x="88.3" y="1.1">Chenodeoxycholic acid</text><text transform="translate(495.2,425.0) rotate(80.33)" x="88.3" y="1.1">Cholic acid</text><text transform="translate(495.2,425.0) rotate(83.54)" x="88.3" y="1.1">Taurolithocholic acid</text><text transform="translate(495.2,425.0) rotate(86.76)" x="88.3" y="1.1">Glycolithocholic acid</text><text transform="translate(495.2,425.0) rotate(89.98)" x="88.3" y="1.1">Tauroursodeoxycholic acid</text><text transform="translate(495.2,425.0) rotate(273.19)" x="-88.3" y="1.1" text-anchor="end">Taurodeoxycholic acid</text><text transform="translate(495.2,425.0) rotate(276.41)" x="-88.3" y="1.1" text-anchor="end">Glycoursodeoxycholic acid</text><text transform="translate(495.2,425.0) rotate(279.62)" x="-88.3" y="1.1" text-anchor="end">Glycodeoxycholic acid</text><text transform="translate(495.2,425.0) rotate(282.84)" x="-88.3" y="1.1" text-anchor="end">Glycochenodeoxycholic acid</text><text transform="translate(495.2,425.0) rotate(286.06)" x="-88.3" y="1.1" text-anchor="end">Glycocholic acid</text><text transform="translate(495.2,425.0) rotate(289.27)" x="-88.3" y="1.1" text-anchor="end">Taurochenodeoxycholic acid</text><text transform="translate(495.2,425.0) rotate(292.49)" x="-88.3" y="1.1" text-anchor="end">Taurocholic acid</text><text transform="translate(495.2,425.0) rotate(302.36)" x="-88.3" y="1.1" text-anchor="end">Heptanoic acid</text><text transform="translate(495.2,425.0) rotate(305.29)" x="-88.3" y="1.1" text-anchor="end">Octanoic acid</text><text transform="translate(495.2,425.0) rotate(308.21)" x="-88.3" y="1.1" text-anchor="end">Nonanoic acid</text><text transform="translate(495.2,425.0) rotate(311.14)" x="-88.3" y="1.1" text-anchor="end">Decanoic acid</text><text transform="translate(495.2,425.0) rotate(319.95)" x="-88.3" y="1.1" text-anchor="end">Acetic acid</text><text transform="translate(495.2,425.0) rotate(323.05)" x="-88.3" y="1.1" text-anchor="end">Propionic acid</text><text transform="translate(495.2,425.0) rotate(326.15)" x="-88.3" y="1.1" text-anchor="end">Isocaproic acid</text><text transform="translate(495.2,425.0) rotate(329.25)" x="-88.3" y="1.1" text-anchor="end">Butyric acid</text><text transform="translate(495.2,425.0) rotate(332.35)" x="-88.3" y="1.1" text-anchor="end">Isobutyric acid</text><text transform="translate(495.2,425.0) rotate(335.45)" x="-88.3" y="1.1" text-anchor="end">Valeric acid</text><text transform="translate(495.2,425.0) rotate(338.55)" x="-88.3" y="1.1" text-anchor="end">Isovaleric acid</text><text transform="translate(495.2,425.0) rotate(350.59)" x="-88.3" y="1.1" text-anchor="end">L-Alanine</text><text transform="translate(495.2,425.0) rotate(353.97)" x="-88.3" y="1.1" text-anchor="end">Beta-Alanine</text><text transform="translate(495.2,425.0) rotate(357.35)" x="-88.3" y="1.1" text-anchor="end">4-Acetamidobutyric acid</text><text transform="translate(495.2,425.0) rotate(360.72)" x="-88.3" y="1.1" text-anchor="end">L-Serine</text><text transform="translate(495.2,425.0) rotate(364.10)" x="-88.3" y="1.1" text-anchor="end">L-Proline</text><text transform="translate(495.2,425.0) rotate(367.48)" x="-88.3" y="1.1" text-anchor="end">L-Valine</text><text transform="translate(495.2,425.0) rotate(370.86)" x="-88.3" y="1.1" text-anchor="end">L-Threonine</text><text transform="translate(495.2,425.0) rotate(374.24)" x="-88.3" y="1.1" text-anchor="end">4-Hydroxyproline</text><text transform="translate(495.2,425.0) rotate(377.62)" x="-88.3" y="1.1" text-anchor="end">L-Ornithine</text><text transform="translate(495.2,425.0) rotate(380.99)" x="-88.3" y="1.1" text-anchor="end">L-Asparagine</text><text transform="translate(495.2,425.0) rotate(384.37)" x="-88.3" y="1.1" text-anchor="end">L-Aspartic acid</text><text transform="translate(495.2,425.0) rotate(387.75)" x="-88.3" y="1.1" text-anchor="end">L-Lysine</text><text transform="translate(495.2,425.0) rotate(391.13)" x="-88.3" y="1.1" text-anchor="end">L-Glutamine</text><text transform="translate(495.2,425.0) rotate(394.51)" x="-88.3" y="1.1" text-anchor="end">L-Glutamic acid</text><text transform="translate(495.2,425.0) rotate(397.88)" x="-88.3" y="1.1" text-anchor="end">L-Methionine</text><text transform="translate(495.2,425.0) rotate(401.26)" x="-88.3" y="1.1" text-anchor="end">L-Histidine</text><text transform="translate(495.2,425.0) rotate(404.64)" x="-88.3" y="1.1" text-anchor="end">L-Phenylalanine</text><text transform="translate(495.2,425.0) rotate(408.02)" x="-88.3" y="1.1" text-anchor="end">L-Arginine</text><text transform="translate(495.2,425.0) rotate(411.40)" x="-88.3" y="1.1" text-anchor="end">L-Citrulline</text><text transform="translate(495.2,425.0) rotate(414.78)" x="-88.3" y="1.1" text-anchor="end">L-Tyrosine</text><text transform="translate(495.2,425.0) rotate(418.15)" x="-88.3" y="1.1" text-anchor="end">L-Tryptophan</text><text transform="translate(495.2,425.0) rotate(421.53)" x="-88.3" y="1.1" text-anchor="end">L-Kynurenine</text><text transform="translate(495.2,425.0) rotate(424.91)" x="-88.3" y="1.1" text-anchor="end">L-Cystine</text></g>
<g font-size="3" fill="#111"><text transform="translate(495.2,425.0) rotate(437.57)" x="-42.6" y="1.1">*</text><text transform="translate(495.2,425.0) rotate(440.91)" x="-42.6" y="1.1">*</text><text transform="translate(495.2,425.0) rotate(444.25)" x="-42.6" y="1.1">*</text><text transform="translate(495.2,425.0) rotate(447.59)" x="-42.6" y="1.1">*</text><text transform="translate(495.2,425.0) rotate(-85.73)" x="42.6" y="1.1" text-anchor="end">*</text><text transform="translate(495.2,425.0) rotate(-82.39)" x="42.6" y="1.1" text-anchor="end">*</text><text transform="translate(495.2,425.0) rotate(-79.04)" x="42.6" y="1.1" text-anchor="end">***</text><text transform="translate(495.2,425.0) rotate(-75.70)" x="42.6" y="1.1" text-anchor="end">*</text><text transform="translate(495.2,425.0) rotate(-62.34)" x="42.6" y="1.1" text-anchor="end">***</text><text transform="translate(495.2,425.0) rotate(-59.00)" x="42.6" y="1.1" text-anchor="end">*</text><text transform="translate(495.2,425.0) rotate(-55.66)" x="42.6" y="1.1" text-anchor="end">*</text><text transform="translate(495.2,425.0) rotate(-52.32)" x="42.6" y="1.1" text-anchor="end">*</text><text transform="translate(495.2,425.0) rotate(-35.61)" x="42.6" y="1.1" text-anchor="end">*</text><text transform="translate(495.2,425.0) rotate(-32.27)" x="42.6" y="1.1" text-anchor="end">*</text><text transform="translate(495.2,425.0) rotate(10.90)" x="42.6" y="1.1" text-anchor="end">*</text><text transform="translate(495.2,425.0) rotate(25.15)" x="42.6" y="1.1" text-anchor="end">**</text><text transform="translate(495.2,425.0) rotate(44.94)" x="42.6" y="1.1" text-anchor="end">*</text><text transform="translate(495.2,425.0) rotate(48.16)" x="42.6" y="1.1" text-anchor="end">***</text><text transform="translate(495.2,425.0) rotate(51.38)" x="42.6" y="1.1" text-anchor="end">**</text><text transform="translate(495.2,425.0) rotate(54.59)" x="42.6" y="1.1" text-anchor="end">***</text><text transform="translate(495.2,425.0) rotate(57.81)" x="42.6" y="1.1" text-anchor="end">*</text><text transform="translate(495.2,425.0) rotate(70.68)" x="42.6" y="1.1" text-anchor="end">**</text><text transform="translate(495.2,425.0) rotate(276.41)" x="-42.6" y="1.1">**</text><text transform="translate(495.2,425.0) rotate(289.27)" x="-42.6" y="1.1">***</text><text transform="translate(495.2,425.0) rotate(302.36)" x="-42.6" y="1.1">***</text><text transform="translate(495.2,425.0) rotate(305.29)" x="-42.6" y="1.1">*</text><text transform="translate(495.2,425.0) rotate(311.14)" x="-42.6" y="1.1">**</text><text transform="translate(495.2,425.0) rotate(319.95)" x="-42.6" y="1.1">*</text><text transform="translate(495.2,425.0) rotate(323.05)" x="-42.6" y="1.1">***</text><text transform="translate(495.2,425.0) rotate(326.15)" x="-42.6" y="1.1">***</text><text transform="translate(495.2,425.0) rotate(329.25)" x="-42.6" y="1.1">**</text><text transform="translate(495.2,425.0) rotate(350.59)" x="-42.6" y="1.1">***</text><text transform="translate(495.2,425.0) rotate(360.72)" x="-42.6" y="1.1">*</text><text transform="translate(495.2,425.0) rotate(364.10)" x="-42.6" y="1.1">*</text><text transform="translate(495.2,425.0) rotate(367.48)" x="-42.6" y="1.1">*</text><text transform="translate(495.2,425.0) rotate(370.86)" x="-42.6" y="1.1">*</text><text transform="translate(495.2,425.0) rotate(374.24)" x="-42.6" y="1.1">*</text><text transform="translate(495.2,425.0) rotate(377.62)" x="-42.6" y="1.1">**</text><text transform="translate(495.2,425.0) rotate(384.37)" x="-42.6" y="1.1">*</text><text transform="translate(495.2,425.0) rotate(401.26)" x="-42.6" y="1.1">***</text><text transform="translate(495.2,425.0) rotate(404.64)" x="-42.6" y="1.1">***</text><text transform="translate(495.2,425.0) rotate(408.02)" x="-42.6" y="1.1">***</text><text transform="translate(495.2,425.0) rotate(411.40)" x="-42.6" y="1.1">*</text><text transform="translate(495.2,425.0) rotate(418.15)" x="-42.6" y="1.1">*</text><text transform="translate(495.2,425.0) rotate(421.53)" x="-42.6" y="1.1">*</text><text transform="translate(495.2,425.0) rotate(424.91)" x="-42.6" y="1.1">*</text></g>
<text transform="translate(468.92,411.61) rotate(297.0)" font-size="3.6" font-weight="bold" text-anchor="middle" fill="#111" y="1.2">AAs</text>
<text transform="translate(511.10,399.56) rotate(32.0)" font-size="3.6" font-weight="bold" text-anchor="middle" fill="#111" y="1.2">Clinical indices</text>
<text transform="translate(524.79,432.38) rotate(-76.0)" font-size="3.6" font-weight="bold" text-anchor="middle" fill="#111" y="1.2">Bacs KOs</text>
<text transform="translate(504.26,454.65) rotate(-17.0)" font-size="3.6" font-weight="bold" text-anchor="middle" fill="#111" y="1.2">BAs</text>
<text transform="translate(471.11,444.51) rotate(51.0)" font-size="3.6" font-weight="bold" text-anchor="middle" fill="#111" y="1.2">SCFAs MCFAs</text>
<text transform="translate(544.5,418.2) rotate(-36)" font-size="2.9" text-anchor="middle" fill="#222">Cluster BL</text>
<text transform="translate(556.4,416.2) rotate(-36)" font-size="2.9" text-anchor="middle" fill="#222">Cluster BA</text>
<text transform="translate(569.6,414.6) rotate(-36)" font-size="2.9" text-anchor="middle" fill="#222"><tspan x="0" y="0">Cohen's d</tspan><tspan x="0" y="3.2">Effect size</tspan></text>
<defs><linearGradient id="g1" x1="0" y1="0" x2="0" y2="1"><stop offset="0" stop-color="#3FA67E"/><stop offset="0.25" stop-color="#9DD9BF"/><stop offset="0.5" stop-color="#ffffff"/><stop offset="0.75" stop-color="#F6B592"/><stop offset="1" stop-color="#D9642A"/></linearGradient><linearGradient id="g2" x1="0" y1="0" x2="0" y2="1"><stop offset="0" stop-color="#3A3FA6"/><stop offset="0.18" stop-color="#7B55C4"/><stop offset="0.35" stop-color="#C9A9EA"/><stop offset="0.5" stop-color="#ffffff"/><stop offset="0.75" stop-color="#F7A08C"/><stop offset="1" stop-color="#E3271B"/></linearGradient></defs>
<rect x="604" y="352.4" width="6.8" height="33.8" fill="url(#g1)"/><rect x="604" y="395.6" width="6.8" height="33.8" fill="url(#g2)"/>
<text x="607.4" y="350.2" font-size="3.3" font-weight="bold" text-anchor="middle" fill="#111">Relative abundance</text>
<text x="607.4" y="393.4" font-size="3.1" font-weight="bold" text-anchor="middle" fill="#111">Cohen's d Effect size</text>
<text x="612.8" y="356.2" font-size="2.9" fill="#222">1.0</text><text x="612.8" y="399.4" font-size="2.9" fill="#222">1.0</text>
<text x="612.8" y="363.4" font-size="2.9" fill="#222">0.5</text><text x="612.8" y="406.6" font-size="2.9" fill="#222">0.5</text>
<text x="612.8" y="370.7" font-size="2.9" fill="#222">0.0</text><text x="612.8" y="413.9" font-size="2.9" fill="#222">0.0</text>
<text x="612.8" y="377.9" font-size="2.9" fill="#222">-0.5</text><text x="612.8" y="421.1" font-size="2.9" fill="#222">-0.5</text>
<text x="612.8" y="385.2" font-size="2.9" fill="#222">-1.0</text><text x="612.8" y="428.4" font-size="2.9" fill="#222">-1.0</text>
<text x="606.2" y="528.2" font-size="3" font-weight="bold" text-anchor="middle" fill="#111">Two-tailed Wilcoxon P-value</text>
<text x="594.5" y="532.2" font-size="2.9" text-anchor="end" fill="#222">*</text><text x="596.5" y="531.9" font-size="2.9" fill="#222">P-value &lt; 0.05</text>
<text x="594.5" y="535.9" font-size="2.9" text-anchor="end" fill="#222">**</text><text x="596.5" y="535.6" font-size="2.9" fill="#222">P-value &lt; 0.01</text>
<text x="594.5" y="539.6" font-size="2.9" text-anchor="end" fill="#222">***</text><text x="596.5" y="539.3" font-size="2.9" fill="#222">P-value &lt; 0.001</text>
</g>
<path d="M96.3,628.0L98.3,630.4M96.3,628.0L74.1,650.2M76.5,652.2L99.7,633.1M76.5,652.2L91.2,653.6M96.3,628.0L72.1,630.4M82.1,654.5L93.9,652.2M99.7,645.1L88.3,623.7M96.3,628.0L79.2,653.6M100.9,639.1L96.3,650.2M98.3,647.8L99.7,645.1M74.1,650.2L69.8,642.2M100.6,642.2L98.3,630.4M74.1,628.0L96.3,628.0M74.1,650.2L70.7,645.1M70.7,633.1L100.6,636.0M100.9,639.1L93.9,652.2M98.3,630.4L69.8,636.0M91.2,624.6L93.9,652.2M69.5,639.1L74.1,628.0M70.7,645.1L70.7,633.1M100.6,642.2L96.3,650.2M91.2,653.6L88.3,623.7M91.2,653.6L70.7,633.1M85.2,623.4L96.3,650.2M100.6,642.2L100.9,639.1M72.1,647.8L98.3,647.8M99.7,633.1L85.2,623.4M88.3,623.7L91.2,624.6M96.3,650.2L74.1,650.2M69.8,636.0L76.5,626.0M93.9,652.2L72.1,630.4M76.5,626.0L100.9,639.1M91.2,624.6L88.3,654.5M85.2,654.8L69.8,642.2M91.2,653.6L100.9,639.1M98.3,647.8L98.3,630.4M100.6,636.0L76.5,652.2M74.1,650.2L96.3,628.0M74.1,650.2L85.2,654.8M91.2,624.6L85.2,623.4M88.3,654.5L88.3,623.7M91.2,624.6L72.1,647.8M100.9,639.1L69.8,636.0M72.1,630.4L100.6,642.2M72.1,647.8L76.5,652.2M88.3,623.7L91.2,653.6M99.7,645.1L82.1,654.5M72.1,647.8L96.3,628.0M69.5,639.1L100.9,639.1M76.5,626.0L70.7,633.1M85.2,623.4L96.3,650.2M96.3,650.2L93.9,652.2M72.1,647.8L69.8,642.2M100.9,639.1L82.1,623.7M82.1,623.7L98.3,630.4M85.2,654.8L99.7,633.1M85.2,654.8L85.2,623.4M76.5,652.2L82.1,654.5M72.1,630.4L70.7,645.1M69.8,642.2L74.1,650.2M79.2,653.6L74.1,650.2M85.2,623.4L99.7,633.1M93.9,652.2L91.2,624.6M98.3,647.8L91.2,653.6M91.2,653.6L99.7,645.1M69.5,639.1L69.8,642.2M88.3,623.7L69.5,639.1M91.2,624.6L100.6,636.0M70.7,633.1L76.5,652.2M96.3,650.2L85.2,654.8M70.7,645.1L99.7,633.1M96.3,650.2L69.8,636.0M72.1,647.8L100.6,642.2M96.3,650.2L69.8,636.0M91.2,624.6L96.3,628.0M69.8,642.2L98.3,647.8M99.7,645.1L76.5,652.2M70.7,633.1L82.1,623.7M85.2,654.8L93.9,652.2M82.1,623.7L85.2,654.8M96.3,628.0L76.5,626.0M85.2,654.8L99.7,645.1M100.6,642.2L99.7,633.1M79.2,624.6L72.1,630.4M99.7,645.1L100.6,642.2M96.3,650.2L99.7,633.1M96.3,650.2L72.1,630.4M74.1,628.0L85.2,654.8M96.3,650.2L96.3,628.0M82.1,623.7L99.7,645.1M85.2,654.8L76.5,626.0M79.2,624.6L93.9,652.2M99.7,633.1L96.3,650.2M91.2,624.6L100.6,642.2M100.6,636.0L100.9,639.1M85.2,623.4L100.9,639.1M96.3,650.2L93.9,652.2M93.9,652.2L88.3,654.5M69.5,639.1L91.2,624.6M76.5,626.0L85.2,623.4M98.3,630.4L96.3,628.0M98.3,630.4L93.9,652.2M100.6,642.2L72.1,630.4M93.9,652.2L99.7,633.1M100.6,642.2L70.7,645.1M88.3,654.5L100.6,636.0M100.6,636.0L69.5,639.1M100.9,639.1L82.1,623.7M72.1,630.4L82.1,654.5M74.1,650.2L79.2,653.6M76.5,626.0L96.3,628.0M100.6,636.0L69.8,642.2M74.1,628.0L88.3,623.7M69.5,639.1L74.1,650.2M93.9,626.0L74.1,650.2M91.2,653.6L93.6,734.2M88.3,654.5L118.2,725.0M79.2,653.6L104.7,754.5M96.3,650.2L116.1,753.7M69.8,642.2L92.9,738.8M100.6,642.2L123.1,747.7M85.2,654.8L111.6,755.0M98.3,647.8L98.6,726.4M69.8,642.2L96.9,749.5M91.2,653.6L95.5,729.9M74.1,650.2L123.1,729.9M69.5,639.1L104.7,723.1M79.2,653.6L121.7,728.1M70.7,645.1L93.6,743.4M99.7,645.1L125.0,743.4M85.2,654.8L120.0,726.4M100.6,642.2L125.5,736.5M85.2,654.8L116.1,723.9M76.5,652.2L94.4,745.6M100.9,639.1L124.2,732.0M96.3,650.2L94.4,732.0M70.7,645.1L107.0,755.0M100.9,639.1L96.9,749.5M88.3,654.5L113.9,754.5M100.6,642.2L123.1,729.9M98.3,647.8L98.6,726.4M98.3,647.8L123.1,729.9M76.5,652.2L123.1,747.7M91.2,653.6L107.0,755.0M69.8,642.2L98.6,751.2M93.9,652.2L125.7,738.8M69.8,642.2L111.6,722.6M91.2,624.6L124.8,693.7M96.3,650.2L129.8,689.2M93.9,626.0L124.8,712.9M100.9,639.1L124.8,693.7M99.7,633.1L143.0,687.8M98.3,630.4L122.1,699.9M93.9,626.0L122.1,699.9M91.2,653.6L133.0,718.8M98.3,647.8L124.8,712.9M88.3,654.5L124.8,693.7M99.7,645.1L121.7,703.3M99.7,633.1L122.1,699.9M85.2,654.8L143.0,718.8M85.2,623.4L136.3,687.1M99.7,645.1L139.7,719.5M93.9,626.0L122.1,699.9M99.7,633.1L127.1,691.2M85.2,654.8L133.0,687.8M100.9,639.1L124.8,712.9M99.7,645.1L127.1,691.2M100.6,642.2L127.1,715.4M99.7,633.1L122.1,699.9M96.3,650.2L133.0,687.8M96.3,650.2L136.3,687.1M98.3,630.4L129.8,689.2M96.3,628.0L143.0,687.8M99.7,645.1L123.1,709.9M93.9,626.0L136.3,687.1M99.7,633.1L121.7,703.3M99.7,633.1L127.1,715.4M42.7,644.7L69.5,639.1M42.7,644.7L72.1,630.4M42.7,644.7L85.2,623.4M42.7,644.7L72.1,647.8M42.7,644.7L72.1,630.4M42.7,644.7L82.1,654.5M42.7,644.7L69.8,636.0M42.7,644.7L100.6,636.0M42.7,644.7L74.1,650.2M42.7,644.7L91.2,624.6M42.7,644.7L88.3,654.5M42.7,644.7L100.9,639.1M42.7,644.7L85.2,623.4M42.7,644.7L100.6,642.2M30.6,650.5L99.7,645.1M30.6,650.5L88.3,623.7M30.6,650.5L88.3,654.5M30.6,650.5L100.6,636.0M55.1,650.5L93.9,652.2M55.1,650.5L79.2,653.6M55.1,650.5L96.3,650.2M55.1,650.5L98.3,630.4M55.1,650.5L91.2,624.6M55.1,650.5L88.3,623.7M55.1,650.5L69.8,636.0M55.1,650.5L69.8,642.2M27.5,662.9L99.7,633.1M27.5,662.9L100.6,636.0M27.5,662.9L85.2,654.8M27.5,662.9L76.5,626.0M27.5,662.9L93.9,626.0M58.4,662.9L99.7,633.1M58.4,662.9L74.1,628.0M58.4,662.9L91.2,653.6M58.4,662.9L74.1,650.2M58.4,662.9L91.2,624.6M58.4,662.9L100.6,642.2M58.4,662.9L69.5,639.1M36.2,672.7L85.2,654.8M36.2,672.7L100.6,642.2M36.2,672.7L99.7,645.1M36.2,672.7L74.1,650.2M36.2,672.7L82.1,654.5M49.7,672.7L70.7,645.1M49.7,672.7L100.9,639.1M49.7,672.7L70.7,633.1M49.7,672.7L74.1,628.0M49.7,672.7L79.2,624.6M49.7,672.7L69.8,642.2M42.7,644.7L30.6,650.5M42.7,644.7L27.5,662.9M42.7,644.7L36.2,672.7M42.7,644.7L49.7,672.7M42.7,644.7L58.4,662.9M30.6,650.5L27.5,662.9M27.5,662.9L36.2,672.7M36.2,672.7L49.7,672.7M55.1,650.5L58.4,662.9M55.1,650.5L49.7,672.7M58.4,662.9L49.7,672.7M27.5,662.9L49.7,672.7M30.6,650.5L36.2,672.7M42.7,644.7L55.1,650.5M55.1,650.5L36.2,672.7M58.4,662.9L36.2,672.7M32.4,718.0L100.6,636.0M32.4,718.0L91.2,653.6M32.4,718.0L100.6,636.0M32.4,718.0L88.3,654.5M32.4,718.0L69.5,639.1M32.4,718.0L74.1,650.2M32.4,718.0L93.9,626.0M32.4,718.0L100.6,642.2M32.4,718.0L85.2,623.4M32.4,718.0L91.2,624.6M32.4,718.0L79.2,653.6M32.4,718.0L72.1,647.8M32.4,718.0L72.1,647.8M32.4,718.0L72.1,647.8M32.4,718.0L111.6,722.6M32.4,718.0L121.7,728.1M32.4,718.0L118.2,725.0M32.4,718.0L116.1,753.7M32.4,718.0L102.5,753.7M32.4,718.0L123.1,729.9M32.4,718.0L92.9,738.8M32.4,718.0L152.9,696.7M32.4,718.0L146.2,717.4M32.4,718.0L129.8,717.4M32.4,718.0L58.4,662.9M32.4,718.0L55.1,650.5M32.4,718.0L30.6,650.5M32.4,718.0L30.6,650.5M32.4,718.0L49.7,672.7M32.4,718.0L30.6,650.5M17.0,703.3L48.1,703.3M32.4,688.6L32.4,718.0M48.1,703.3L42.7,644.7M61.9,723.6L32.4,718.0M61.9,723.6L48.5,745.8M128.2,644.7L112.8,659.4M128.2,644.7L100.0,735.0M27.5,662.9L32.4,718.0M36.2,672.7L32.4,718.0M112.8,659.4L125.0,695.0M152.9,696.7L151.2,712.9M148.9,715.4L152.9,696.7M139.7,719.5L148.9,715.4M139.7,687.1L152.9,709.9M136.3,719.5L124.8,712.9M151.2,712.9L123.1,709.9M148.9,691.2L123.1,709.9M123.1,696.7L146.2,689.2M136.3,687.1L148.9,715.4M107.0,755.0L94.4,732.0M123.1,729.9L125.5,736.5M125.5,741.1L120.0,751.2M107.0,755.0L116.1,723.9M125.5,736.5L92.9,738.8M93.1,736.5L118.2,752.6M107.0,722.6L123.1,729.9M93.1,741.1L107.0,722.6M125.5,736.5L107.0,755.0M123.1,747.7L102.5,723.9M61.9,723.6L109.3,722.4M61.9,723.6L123.1,729.9M61.9,723.6L100.4,725.0M61.9,723.6L70.7,633.1M61.9,723.6L85.2,623.4M48.5,745.8L82.1,623.7M48.5,745.8L70.7,645.1M48.5,745.8L91.2,624.6M75.4,745.8L79.2,624.6M75.4,745.8L74.1,628.0M128.2,644.7L95.5,747.7M128.2,644.7L125.5,736.5M128.2,644.7L120.0,751.2M112.8,659.4L118.2,725.0M112.8,659.4L124.2,745.6M112.8,659.4L116.1,753.7M128.2,674.1L125.5,736.5" stroke="#3E9B45" stroke-width="0.4" stroke-opacity="0.72" fill="none"/>
<path d="M100.6,642.2L109.3,755.2M88.3,654.5L96.9,749.5M76.5,652.2L111.6,722.6M69.5,639.1L107.0,722.6M93.9,652.2L94.4,732.0M88.3,654.5L121.7,749.5M42.7,644.7L98.0,728.0M32.4,718.0L95.0,745.0M32.4,718.0L100.0,750.0M128.2,644.7L110.0,660.0M49.7,672.7L96.0,738.0M85.0,655.0L60.0,720.0M61.9,723.6L97.0,748.0M90.0,654.0L112.0,724.0M95.0,652.0L118.0,726.0M120.0,751.2L125.5,741.1M125.0,743.4L113.9,723.1" stroke="#D9595A" stroke-width="0.42" stroke-opacity="0.85" fill="none"/>
<path d="M48.5,745.8L75.4,745.8" stroke="#F3B6B6" stroke-width="0.7" fill="none"/>
<g fill="#E0301E"><circle cx="100.9" cy="639.1" r="1.5"/><circle cx="100.6" cy="642.2" r="1.5"/><circle cx="99.7" cy="645.1" r="1.5"/><circle cx="98.3" cy="647.8" r="1.5"/><circle cx="96.3" cy="650.2" r="1.5"/><circle cx="93.9" cy="652.2" r="1.5"/><circle cx="91.2" cy="653.6" r="1.5"/><circle cx="88.3" cy="654.5" r="1.5"/><circle cx="85.2" cy="654.8" r="1.5"/><circle cx="82.1" cy="654.5" r="1.5"/><circle cx="79.2" cy="653.6" r="1.5"/><circle cx="76.5" cy="652.2" r="1.5"/><circle cx="74.1" cy="650.2" r="1.5"/><circle cx="72.1" cy="647.8" r="1.5"/><circle cx="70.7" cy="645.1" r="1.5"/><circle cx="69.8" cy="642.2" r="1.5"/><circle cx="69.5" cy="639.1" r="1.5"/><circle cx="69.8" cy="636.0" r="1.5"/><circle cx="70.7" cy="633.1" r="1.5"/><circle cx="72.1" cy="630.4" r="1.5"/><circle cx="74.1" cy="628.0" r="1.5"/><circle cx="76.5" cy="626.0" r="1.5"/><circle cx="79.2" cy="624.6" r="1.5"/><circle cx="82.1" cy="623.7" r="1.5"/><circle cx="85.2" cy="623.4" r="1.5"/><circle cx="88.3" cy="623.7" r="1.5"/><circle cx="91.2" cy="624.6" r="1.5"/><circle cx="93.9" cy="626.0" r="1.5"/><circle cx="96.3" cy="628.0" r="1.5"/><circle cx="98.3" cy="630.4" r="1.5"/><circle cx="99.7" cy="633.1" r="1.5"/><circle cx="100.6" cy="636.0" r="1.5"/></g>
<g fill="#8FCB1E"><circle cx="154.3" cy="703.3" r="1.55"/><circle cx="153.9" cy="706.7" r="1.55"/><circle cx="152.9" cy="709.9" r="1.55"/><circle cx="151.2" cy="712.9" r="1.55"/><circle cx="148.9" cy="715.4" r="1.55"/><circle cx="146.2" cy="717.4" r="1.55"/><circle cx="143.0" cy="718.8" r="1.55"/><circle cx="139.7" cy="719.5" r="1.55"/><circle cx="136.3" cy="719.5" r="1.55"/><circle cx="133.0" cy="718.8" r="1.55"/><circle cx="129.8" cy="717.4" r="1.55"/><circle cx="127.1" cy="715.4" r="1.55"/><circle cx="124.8" cy="712.9" r="1.55"/><circle cx="123.1" cy="709.9" r="1.55"/><circle cx="122.1" cy="706.7" r="1.55"/><circle cx="121.7" cy="703.3" r="1.55"/><circle cx="122.1" cy="699.9" r="1.55"/><circle cx="123.1" cy="696.7" r="1.55"/><circle cx="124.8" cy="693.7" r="1.55"/><circle cx="127.1" cy="691.2" r="1.55"/><circle cx="129.8" cy="689.2" r="1.55"/><circle cx="133.0" cy="687.8" r="1.55"/><circle cx="136.3" cy="687.1" r="1.55"/><circle cx="139.7" cy="687.1" r="1.55"/><circle cx="143.0" cy="687.8" r="1.55"/><circle cx="146.2" cy="689.2" r="1.55"/><circle cx="148.9" cy="691.2" r="1.55"/><circle cx="151.2" cy="693.7" r="1.55"/><circle cx="152.9" cy="696.7" r="1.55"/><circle cx="153.9" cy="699.9" r="1.55"/></g>
<g fill="#86DC86"><circle cx="125.7" cy="738.8" r="1.65"/><circle cx="125.5" cy="741.1" r="1.65"/><circle cx="125.0" cy="743.4" r="1.65"/><circle cx="124.2" cy="745.6" r="1.65"/><circle cx="123.1" cy="747.7" r="1.65"/><circle cx="121.7" cy="749.5" r="1.65"/><circle cx="120.0" cy="751.2" r="1.65"/><circle cx="118.2" cy="752.6" r="1.65"/><circle cx="116.1" cy="753.7" r="1.65"/><circle cx="113.9" cy="754.5" r="1.65"/><circle cx="111.6" cy="755.0" r="1.65"/><circle cx="109.3" cy="755.2" r="1.65"/><circle cx="107.0" cy="755.0" r="1.65"/><circle cx="104.7" cy="754.5" r="1.65"/><circle cx="102.5" cy="753.7" r="1.65"/><circle cx="100.4" cy="752.6" r="1.65"/><circle cx="98.6" cy="751.2" r="1.65"/><circle cx="96.9" cy="749.5" r="1.65"/><circle cx="95.5" cy="747.7" r="1.65"/><circle cx="94.4" cy="745.6" r="1.65"/><circle cx="93.6" cy="743.4" r="1.65"/><circle cx="93.1" cy="741.1" r="1.65"/><circle cx="92.9" cy="738.8" r="1.65"/><circle cx="93.1" cy="736.5" r="1.65"/><circle cx="93.6" cy="734.2" r="1.65"/><circle cx="94.4" cy="732.0" r="1.65"/><circle cx="95.5" cy="729.9" r="1.65"/><circle cx="96.9" cy="728.1" r="1.65"/><circle cx="98.6" cy="726.4" r="1.65"/><circle cx="100.4" cy="725.0" r="1.65"/><circle cx="102.5" cy="723.9" r="1.65"/><circle cx="104.7" cy="723.1" r="1.65"/><circle cx="107.0" cy="722.6" r="1.65"/><circle cx="109.3" cy="722.4" r="1.65"/><circle cx="111.6" cy="722.6" r="1.65"/><circle cx="113.9" cy="723.1" r="1.65"/><circle cx="116.1" cy="723.9" r="1.65"/><circle cx="118.2" cy="725.0" r="1.65"/><circle cx="120.0" cy="726.4" r="1.65"/><circle cx="121.7" cy="728.1" r="1.65"/><circle cx="123.1" cy="729.9" r="1.65"/><circle cx="124.2" cy="732.0" r="1.65"/><circle cx="125.0" cy="734.2" r="1.65"/><circle cx="125.5" cy="736.5" r="1.65"/></g>
<g fill="#C050C0"><circle cx="42.7" cy="644.7" r="1.75"/><circle cx="30.6" cy="650.5" r="1.75"/><circle cx="55.1" cy="650.5" r="1.75"/><circle cx="27.5" cy="662.9" r="1.75"/><circle cx="58.4" cy="662.9" r="1.75"/><circle cx="36.2" cy="672.7" r="1.75"/><circle cx="49.7" cy="672.7" r="1.75"/></g>
<g fill="#3B3BB0"><circle cx="32.4" cy="688.6" r="1.75"/><circle cx="24.7" cy="703.3" r="1.75"/><circle cx="48.1" cy="703.3" r="1.75"/><circle cx="32.4" cy="718.0" r="1.75"/></g>
<g fill="#4A90D9"><circle cx="61.9" cy="723.6" r="1.75"/><circle cx="48.5" cy="745.8" r="1.75"/><circle cx="75.4" cy="745.8" r="1.75"/></g>
<g fill="#F7C22F"><circle cx="128.2" cy="644.7" r="1.75"/><circle cx="112.8" cy="659.4" r="1.75"/><circle cx="143.8" cy="659.4" r="1.75"/><circle cx="128.2" cy="674.1" r="1.75"/></g>
<g font-size="1.75" font-weight="bold" fill="#111"><text x="104.0" y="639.7">L-Alanine</text><text x="103.7" y="643.1">L-Serine</text><text x="102.7" y="646.3">L-Proline</text><text x="101.1" y="649.3">L-Valine</text><text x="99.0" y="651.9">L-Threonine</text><text x="96.5" y="654.1">L-Ornithine</text><text x="93.6" y="655.7">L-Asparagine</text><text x="90.4" y="656.6">L-Lysine</text><text x="87.1" y="657.0">L-Glutamine</text><text x="80.0" y="656.6" text-anchor="end">L-Histidine</text><text x="76.8" y="655.7" text-anchor="end">L-Arginine</text><text x="73.9" y="654.1" text-anchor="end">L-Citrulline</text><text x="71.4" y="651.9" text-anchor="end">L-Tyrosine</text><text x="69.3" y="649.3" text-anchor="end">L-Tryptophan</text><text x="67.7" y="646.3" text-anchor="end">L-Cystine</text><text x="66.7" y="643.1" text-anchor="end">Beta-Alanine</text><text x="66.4" y="639.7" text-anchor="end">L-Alanine</text><text x="66.7" y="636.3" text-anchor="end">L-Serine</text><text x="67.7" y="633.1" text-anchor="end">L-Proline</text><text x="69.3" y="630.1" text-anchor="end">L-Valine</text><text x="71.4" y="627.5" text-anchor="end">L-Threonine</text><text x="73.9" y="625.3" text-anchor="end">L-Ornithine</text><text x="76.8" y="623.7" text-anchor="end">L-Asparagine</text><text x="80.0" y="622.8" text-anchor="end">L-Lysine</text><text x="87.1" y="622.4">L-Glutamine</text><text x="90.4" y="622.8">L-Histidine</text><text x="93.6" y="623.7">L-Arginine</text><text x="96.5" y="625.3">L-Citrulline</text><text x="99.0" y="627.5">L-Tyrosine</text><text x="101.1" y="630.1">L-Tryptophan</text><text x="102.7" y="633.1">L-Cystine</text><text x="103.7" y="636.3">Beta-Alanine</text><text x="157.4" y="703.9">Waist circumference</text><text x="157.0" y="707.6">Hip circumference</text><text x="155.9" y="711.2">Systolic blood pressure</text><text x="154.1" y="714.4">Diastolic blood pressure</text><text x="151.6" y="717.2">Fasting blood glucose</text><text x="148.7" y="719.4">Total cholesterol</text><text x="145.3" y="721.0">Triglyceride</text><text x="141.7" y="721.7">Uric acid</text><text x="134.3" y="721.7" text-anchor="end">Creatinine</text><text x="130.7" y="721.0" text-anchor="end">HbA1c</text><text x="127.3" y="719.4" text-anchor="end">Waist circumference</text><text x="124.4" y="717.2" text-anchor="end">Hip circumference</text><text x="121.9" y="714.4" text-anchor="end">Systolic blood pressure</text><text x="120.1" y="711.2" text-anchor="end">Diastolic blood pressure</text><text x="119.0" y="707.6" text-anchor="end">Fasting blood glucose</text><text x="118.6" y="703.9" text-anchor="end">Total cholesterol</text><text x="119.0" y="700.2" text-anchor="end">Triglyceride</text><text x="120.1" y="696.6" text-anchor="end">Uric acid</text><text x="121.9" y="693.4" text-anchor="end">Creatinine</text><text x="124.4" y="690.6" text-anchor="end">HbA1c</text><text x="127.3" y="688.4" text-anchor="end">Waist circumference</text><text x="130.7" y="686.8" text-anchor="end">Hip circumference</text><text x="134.3" y="686.1" text-anchor="end">Systolic blood pressure</text><text x="141.7" y="686.1">Diastolic blood pressure</text><text x="145.3" y="686.8">Fasting blood glucose</text><text x="148.7" y="688.4">Total cholesterol</text><text x="151.6" y="690.6">Triglyceride</text><text x="154.1" y="693.4">Uric acid</text><text x="155.9" y="696.6">Creatinine</text><text x="157.0" y="700.2">HbA1c</text><text x="128.8" y="739.4">CA</text><text x="128.7" y="742.0">DCA</text><text x="128.1" y="744.5">LCA</text><text x="127.2" y="746.9">GCA</text><text x="126.0" y="749.2">TCA</text><text x="124.5" y="751.2">UDCA</text><text x="122.7" y="753.0">HCA</text><text x="120.7" y="754.6">GDCA</text><text x="118.5" y="755.8">TDCA</text><text x="116.2" y="756.7">CDCA</text><text x="113.7" y="757.3">GLCA</text><text x="111.2" y="757.4">CA</text><text x="104.9" y="757.3" text-anchor="end">DCA</text><text x="102.4" y="756.7" text-anchor="end">LCA</text><text x="100.1" y="755.8" text-anchor="end">GCA</text><text x="97.9" y="754.6" text-anchor="end">TCA</text><text x="95.9" y="753.0" text-anchor="end">UDCA</text><text x="94.1" y="751.2" text-anchor="end">HCA</text><text x="92.6" y="749.2" text-anchor="end">GDCA</text><text x="91.4" y="746.9" text-anchor="end">TDCA</text><text x="90.5" y="744.5" text-anchor="end">CDCA</text><text x="89.9" y="742.0" text-anchor="end">GLCA</text><text x="89.8" y="739.4" text-anchor="end">CA</text><text x="89.9" y="736.8" text-anchor="end">DCA</text><text x="90.5" y="734.3" text-anchor="end">LCA</text><text x="91.4" y="731.9" text-anchor="end">GCA</text><text x="92.6" y="729.6" text-anchor="end">TCA</text><text x="94.1" y="727.6" text-anchor="end">UDCA</text><text x="95.9" y="725.8" text-anchor="end">HCA</text><text x="97.9" y="724.2" text-anchor="end">GDCA</text><text x="100.1" y="723.0" text-anchor="end">TDCA</text><text x="102.4" y="722.1" text-anchor="end">CDCA</text><text x="104.9" y="721.5" text-anchor="end">GLCA</text><text x="111.2" y="721.4">CA</text><text x="113.7" y="721.5">DCA</text><text x="116.2" y="722.1">LCA</text><text x="118.5" y="723.0">GCA</text><text x="120.7" y="724.2">TCA</text><text x="122.7" y="725.8">UDCA</text><text x="124.5" y="727.6">HCA</text><text x="126.0" y="729.6">GDCA</text><text x="127.2" y="731.9">TDCA</text><text x="128.1" y="734.3">CDCA</text><text x="128.7" y="736.8">GLCA</text><text x="40.1" y="645.3" text-anchor="end">Acetic acid</text><text x="28.0" y="651.1" text-anchor="end">Valeric acid</text><text x="57.7" y="651.1">Propionic acid</text><text x="24.9" y="663.5" text-anchor="end">Butyric acid</text><text x="61.0" y="663.5">Isobutyric acid</text><text x="33.6" y="673.3" text-anchor="end">Isovaleric acid</text><text x="52.3" y="673.3">Isocaproic acid</text><text x="29.8" y="689.2" text-anchor="end">Heptanoic acid</text><text x="22.1" y="703.9" text-anchor="end">Octanoic acid</text><text x="45.5" y="703.9" text-anchor="end">Nonanoic acid</text><text x="29.8" y="718.6" text-anchor="end">Decanoic acid</text><text x="59.3" y="724.2" text-anchor="end">K00505</text><text x="45.9" y="746.4" text-anchor="end">K01915</text><text x="78.0" y="746.4">K14260</text><text x="131.0" y="645.3">Escherichia coli</text><text x="115.6" y="660.0">Bacteroides ovatus</text><text x="146.6" y="660.0">Bacteroides uniformis</text><text x="131.0" y="674.7">Bacteroides thetaiotaomicron</text></g>
<path d="M220.8,639.1L230.5,624.6M251.9,642.2L249.6,630.4M221.1,642.2L249.6,647.8M230.5,653.6L239.6,654.5M233.4,623.7L251.0,633.1M221.1,642.2L236.5,623.4M242.5,653.6L221.1,642.2M252.2,639.1L223.4,647.8M242.5,624.6L221.1,636.0M227.8,652.2L236.5,623.4M230.5,653.6L247.6,650.2M236.5,654.8L247.6,628.0M236.5,654.8L252.2,639.1M252.2,639.1L223.4,647.8M223.4,647.8L230.5,653.6M230.5,653.6L222.0,633.1M225.4,628.0L225.4,650.2M223.4,647.8L227.8,652.2M225.4,650.2L236.5,623.4M223.4,630.4L251.9,642.2M233.4,623.7L242.5,624.6M230.5,653.6L233.4,654.5M220.8,639.1L247.6,650.2M227.8,626.0L223.4,630.4M252.2,639.1L227.8,626.0M247.6,650.2L223.4,630.4M230.5,624.6L223.4,630.4M251.0,633.1L225.4,628.0M227.8,652.2L251.0,633.1M251.0,633.1L227.8,652.2M249.6,647.8L220.8,639.1M251.9,642.2L230.5,624.6M239.6,623.7L251.9,642.2M242.5,624.6L233.4,623.7M236.5,623.4L252.2,639.1M247.6,628.0L251.0,645.1M227.8,652.2L225.4,650.2M239.6,654.5L221.1,642.2M249.6,630.4L230.5,624.6M230.5,624.6L220.8,639.1M249.6,630.4L242.5,653.6M233.4,623.7L222.0,633.1M251.0,645.1L245.2,626.0M245.2,652.2L223.4,647.8M227.8,626.0L233.4,623.7M233.4,654.5L227.8,626.0M221.1,636.0L245.2,652.2M223.4,630.4L225.4,628.0M223.4,630.4L227.8,652.2M245.2,652.2L233.4,654.5M223.4,630.4L251.0,633.1M230.5,653.6L249.6,647.8M245.2,652.2L239.6,623.7M251.0,645.1L221.1,642.2M230.5,624.6L220.8,639.1M249.6,630.4L242.5,624.6M233.4,654.5L249.6,647.8M251.0,645.1L251.9,636.0M227.8,626.0L223.4,647.8M236.5,654.8L242.5,624.6M242.5,653.6L230.5,653.6M245.2,626.0L233.4,623.7M233.4,654.5L249.6,647.8M242.5,624.6L222.0,633.1M233.4,654.5L249.6,630.4M230.5,653.6L249.6,630.4M251.9,636.0L225.4,628.0M251.0,633.1L221.1,636.0M222.0,633.1L251.0,633.1M239.6,623.7L233.4,654.5M249.6,647.8L243.6,736.2M245.2,652.2L273.1,731.9M221.1,642.2L243.1,743.1M245.2,652.2L271.7,751.5M221.1,642.2L246.9,751.5M220.8,639.1L263.9,725.1M220.8,639.1L243.1,738.5M251.0,645.1L242.9,740.8M251.9,642.2L244.4,747.6M227.8,652.2L263.9,725.1M236.5,654.8L254.7,725.1M236.5,654.8L245.5,749.7M230.5,653.6L274.2,734.0M245.2,652.2L268.2,727.0M252.2,639.1L252.5,725.9M236.5,654.8L243.6,745.4M236.5,654.8L250.4,727.0M233.4,654.5L257.0,724.6M227.8,652.2L242.9,740.8M236.5,654.8L274.2,734.0M227.8,652.2L245.5,731.9M227.8,652.2L259.3,757.2M222.0,645.1L243.1,738.5M230.5,653.6L259.3,724.4M247.6,650.2L259.3,724.4M245.2,652.2L257.0,757.0M227.8,652.2L252.5,725.9M233.4,654.5L271.7,751.5M223.4,647.8L261.6,757.0M220.8,639.1L275.0,736.2M223.4,647.8L244.4,747.6M236.5,654.8L275.5,743.1M242.5,653.6L261.6,757.0M222.0,645.1L271.7,730.1M245.2,652.2L252.5,755.7M245.2,652.2L273.1,731.9M251.9,642.2L252.5,725.9M239.6,654.5L261.6,757.0M251.9,642.2L266.1,755.7M249.6,647.8L243.6,745.4M245.2,652.2L252.5,725.9M242.5,653.6L263.9,725.1M236.5,623.4L292.3,719.8M251.0,633.1L274.3,703.6M249.6,647.8L274.3,703.6M251.0,633.1L288.9,687.4M233.4,623.7L295.6,688.1M233.4,654.5L275.7,697.0M247.6,650.2L279.7,691.5M242.5,624.6L295.6,688.1M251.0,633.1L275.7,697.0M245.2,626.0L282.5,717.7M245.2,652.2L277.4,694.0M251.9,636.0L285.6,688.1M242.5,653.6L282.5,717.7M251.0,645.1L275.7,697.0M252.2,639.1L277.4,694.0M249.6,647.8L274.7,700.2M179.9,650.2L233.4,654.5M179.9,650.2L225.4,628.0M204.7,650.2L236.5,623.4M204.7,650.2L245.2,626.0M204.7,650.2L245.2,626.0M204.7,650.2L222.0,645.1M204.7,650.2L251.9,636.0M176.7,662.7L222.0,633.1M176.7,662.7L251.0,633.1M207.9,662.7L236.5,623.4M207.9,662.7L236.5,623.4M207.9,662.7L230.5,653.6M207.9,662.7L220.8,639.1M207.9,662.7L223.4,630.4M185.6,673.1L251.9,636.0M199.3,673.1L220.8,639.1M199.3,673.1L242.5,624.6M179.9,650.2L204.7,650.2M179.9,650.2L176.7,662.7M179.9,650.2L185.6,673.1M176.7,662.7L185.6,673.1M204.7,650.2L199.3,673.1M176.7,662.7L199.3,673.1M179.9,650.2L199.3,673.1M207.9,662.7L199.3,673.1M181.6,719.2L251.9,642.2M181.6,719.2L225.4,628.0M181.6,719.2L223.4,630.4M181.6,719.2L251.9,636.0M181.6,719.2L222.0,633.1M181.6,719.2L233.4,654.5M181.6,719.2L251.0,633.1M181.6,719.2L251.9,642.2M181.6,719.2L239.6,654.5M181.6,719.2L275.0,736.2M181.6,719.2L271.7,730.1M181.6,719.2L248.6,728.4M181.6,719.2L250.4,754.6M181.6,719.2L285.6,719.1M181.6,719.2L306.5,707.0M181.6,719.2L298.8,689.5M181.6,719.2L179.9,650.2M181.6,719.2L199.3,673.1M181.6,719.2L176.7,662.7M263.8,659.2L295.8,659.2M279.7,644.0L263.8,659.2M279.7,644.0L250.0,728.0M263.8,659.2L285.0,690.0M263.8,659.2L280.0,692.0M197.3,703.9L185.6,673.1M197.3,703.9L176.7,662.7M198.0,747.8L279.7,674.6M181.6,719.2L250.0,752.0M211.7,725.0L240.0,660.0M306.9,703.6L274.3,703.6M275.7,697.0L288.9,719.8M292.3,719.8L306.5,700.2M274.3,703.6L298.8,689.5M306.5,707.0L292.3,719.8M274.3,703.6L288.9,719.8M303.8,694.0L301.5,715.7M292.3,687.4L285.6,719.1M285.6,719.1L274.3,703.6M279.7,691.5L274.3,703.6M274.7,700.2L282.4,689.5M303.8,694.0L279.7,691.5M268.2,754.6L275.5,743.1M266.1,755.7L244.4,747.6M245.5,749.7L261.6,724.6M243.1,743.1L271.7,730.1M245.5,749.7L259.3,724.4M275.5,743.1L250.4,727.0M242.9,740.8L243.1,738.5M275.5,738.5L268.2,727.0M266.1,755.7L275.0,745.4M211.7,725.0L268.2,727.0M211.7,725.0L236.5,623.4M198.0,747.8L251.9,642.2M198.0,747.8L242.9,740.8M225.8,747.8L242.9,740.8M279.7,644.0L270.0,728.4M279.7,644.0L266.1,725.9M279.7,644.0L306.9,703.6M263.8,659.2L306.5,707.0M263.8,659.2L273.1,731.9M263.8,659.2L274.2,734.0M279.7,674.6L252.5,725.9" stroke="#3E9B45" stroke-width="0.4" stroke-opacity="0.72" fill="none"/>
<path d="M251.9,642.2L245.5,731.9M222.0,645.1L242.9,740.8M225.4,650.2L275.0,736.2M251.0,645.1L268.2,727.0M242.5,653.6L250.4,754.6M227.8,652.2L275.7,740.8M227.8,652.2L244.4,734.0M236.5,654.8L245.5,731.9M249.6,647.8L263.9,725.1M176.7,662.7L250.0,727.0M176.7,662.7L254.0,726.0M238.0,655.0L262.0,725.0M243.0,654.0L266.0,725.0M232.0,655.0L248.0,728.0M275.7,740.8L248.6,753.2M263.9,725.1L250.4,727.0M275.5,738.5L270.0,753.2" stroke="#D9595A" stroke-width="0.42" stroke-opacity="0.85" fill="none"/>
<path d="M198,747.8L225.8,747.8" stroke="#F3B6B6" stroke-width="0.7" fill="none"/>
<g fill="#E0301E"><circle cx="252.2" cy="639.1" r="1.5"/><circle cx="251.9" cy="642.2" r="1.5"/><circle cx="251.0" cy="645.1" r="1.5"/><circle cx="249.6" cy="647.8" r="1.5"/><circle cx="247.6" cy="650.2" r="1.5"/><circle cx="245.2" cy="652.2" r="1.5"/><circle cx="242.5" cy="653.6" r="1.5"/><circle cx="239.6" cy="654.5" r="1.5"/><circle cx="236.5" cy="654.8" r="1.5"/><circle cx="233.4" cy="654.5" r="1.5"/><circle cx="230.5" cy="653.6" r="1.5"/><circle cx="227.8" cy="652.2" r="1.5"/><circle cx="225.4" cy="650.2" r="1.5"/><circle cx="223.4" cy="647.8" r="1.5"/><circle cx="222.0" cy="645.1" r="1.5"/><circle cx="221.1" cy="642.2" r="1.5"/><circle cx="220.8" cy="639.1" r="1.5"/><circle cx="221.1" cy="636.0" r="1.5"/><circle cx="222.0" cy="633.1" r="1.5"/><circle cx="223.4" cy="630.4" r="1.5"/><circle cx="225.4" cy="628.0" r="1.5"/><circle cx="227.8" cy="626.0" r="1.5"/><circle cx="230.5" cy="624.6" r="1.5"/><circle cx="233.4" cy="623.7" r="1.5"/><circle cx="236.5" cy="623.4" r="1.5"/><circle cx="239.6" cy="623.7" r="1.5"/><circle cx="242.5" cy="624.6" r="1.5"/><circle cx="245.2" cy="626.0" r="1.5"/><circle cx="247.6" cy="628.0" r="1.5"/><circle cx="249.6" cy="630.4" r="1.5"/><circle cx="251.0" cy="633.1" r="1.5"/><circle cx="251.9" cy="636.0" r="1.5"/></g>
<g fill="#8FCB1E"><circle cx="306.9" cy="703.6" r="1.55"/><circle cx="306.5" cy="707.0" r="1.55"/><circle cx="305.5" cy="710.2" r="1.55"/><circle cx="303.8" cy="713.2" r="1.55"/><circle cx="301.5" cy="715.7" r="1.55"/><circle cx="298.8" cy="717.7" r="1.55"/><circle cx="295.6" cy="719.1" r="1.55"/><circle cx="292.3" cy="719.8" r="1.55"/><circle cx="288.9" cy="719.8" r="1.55"/><circle cx="285.6" cy="719.1" r="1.55"/><circle cx="282.5" cy="717.7" r="1.55"/><circle cx="279.7" cy="715.7" r="1.55"/><circle cx="277.4" cy="713.2" r="1.55"/><circle cx="275.7" cy="710.2" r="1.55"/><circle cx="274.7" cy="707.0" r="1.55"/><circle cx="274.3" cy="703.6" r="1.55"/><circle cx="274.7" cy="700.2" r="1.55"/><circle cx="275.7" cy="697.0" r="1.55"/><circle cx="277.4" cy="694.0" r="1.55"/><circle cx="279.7" cy="691.5" r="1.55"/><circle cx="282.4" cy="689.5" r="1.55"/><circle cx="285.6" cy="688.1" r="1.55"/><circle cx="288.9" cy="687.4" r="1.55"/><circle cx="292.3" cy="687.4" r="1.55"/><circle cx="295.6" cy="688.1" r="1.55"/><circle cx="298.8" cy="689.5" r="1.55"/><circle cx="301.5" cy="691.5" r="1.55"/><circle cx="303.8" cy="694.0" r="1.55"/><circle cx="305.5" cy="697.0" r="1.55"/><circle cx="306.5" cy="700.2" r="1.55"/></g>
<g fill="#86DC86"><circle cx="275.7" cy="740.8" r="1.65"/><circle cx="275.5" cy="743.1" r="1.65"/><circle cx="275.0" cy="745.4" r="1.65"/><circle cx="274.2" cy="747.6" r="1.65"/><circle cx="273.1" cy="749.7" r="1.65"/><circle cx="271.7" cy="751.5" r="1.65"/><circle cx="270.0" cy="753.2" r="1.65"/><circle cx="268.2" cy="754.6" r="1.65"/><circle cx="266.1" cy="755.7" r="1.65"/><circle cx="263.9" cy="756.5" r="1.65"/><circle cx="261.6" cy="757.0" r="1.65"/><circle cx="259.3" cy="757.2" r="1.65"/><circle cx="257.0" cy="757.0" r="1.65"/><circle cx="254.7" cy="756.5" r="1.65"/><circle cx="252.5" cy="755.7" r="1.65"/><circle cx="250.4" cy="754.6" r="1.65"/><circle cx="248.6" cy="753.2" r="1.65"/><circle cx="246.9" cy="751.5" r="1.65"/><circle cx="245.5" cy="749.7" r="1.65"/><circle cx="244.4" cy="747.6" r="1.65"/><circle cx="243.6" cy="745.4" r="1.65"/><circle cx="243.1" cy="743.1" r="1.65"/><circle cx="242.9" cy="740.8" r="1.65"/><circle cx="243.1" cy="738.5" r="1.65"/><circle cx="243.6" cy="736.2" r="1.65"/><circle cx="244.4" cy="734.0" r="1.65"/><circle cx="245.5" cy="731.9" r="1.65"/><circle cx="246.9" cy="730.1" r="1.65"/><circle cx="248.6" cy="728.4" r="1.65"/><circle cx="250.4" cy="727.0" r="1.65"/><circle cx="252.5" cy="725.9" r="1.65"/><circle cx="254.7" cy="725.1" r="1.65"/><circle cx="257.0" cy="724.6" r="1.65"/><circle cx="259.3" cy="724.4" r="1.65"/><circle cx="261.6" cy="724.6" r="1.65"/><circle cx="263.9" cy="725.1" r="1.65"/><circle cx="266.1" cy="725.9" r="1.65"/><circle cx="268.2" cy="727.0" r="1.65"/><circle cx="270.0" cy="728.4" r="1.65"/><circle cx="271.7" cy="730.1" r="1.65"/><circle cx="273.1" cy="731.9" r="1.65"/><circle cx="274.2" cy="734.0" r="1.65"/><circle cx="275.0" cy="736.2" r="1.65"/><circle cx="275.5" cy="738.5" r="1.65"/></g>
<g fill="#C050C0"><circle cx="192.3" cy="644.3" r="1.75"/><circle cx="179.9" cy="650.2" r="1.75"/><circle cx="204.7" cy="650.2" r="1.75"/><circle cx="176.7" cy="662.7" r="1.75"/><circle cx="207.9" cy="662.7" r="1.75"/><circle cx="185.6" cy="673.1" r="1.75"/><circle cx="199.3" cy="673.1" r="1.75"/></g>
<g fill="#3B3BB0"><circle cx="181.6" cy="689.0" r="1.75"/><circle cx="197.3" cy="703.9" r="1.75"/><circle cx="181.6" cy="719.2" r="1.75"/></g>
<g fill="#4A90D9"><circle cx="211.7" cy="725.0" r="1.75"/><circle cx="198.0" cy="747.8" r="1.75"/><circle cx="225.8" cy="747.8" r="1.75"/></g>
<g fill="#F7C22F"><circle cx="279.7" cy="644.0" r="1.75"/><circle cx="263.8" cy="659.2" r="1.75"/><circle cx="295.8" cy="659.2" r="1.75"/><circle cx="279.7" cy="674.6" r="1.75"/></g>
<g font-size="1.75" font-weight="bold" fill="#111"><text x="255.3" y="639.7">L-Alanine</text><text x="255.0" y="643.1">L-Serine</text><text x="254.0" y="646.3">L-Proline</text><text x="252.4" y="649.3">L-Valine</text><text x="250.3" y="651.9">L-Threonine</text><text x="247.8" y="654.1">L-Ornithine</text><text x="244.9" y="655.7">L-Asparagine</text><text x="241.7" y="656.6">L-Lysine</text><text x="238.4" y="657.0">L-Glutamine</text><text x="231.3" y="656.6" text-anchor="end">L-Histidine</text><text x="228.1" y="655.7" text-anchor="end">L-Arginine</text><text x="225.2" y="654.1" text-anchor="end">L-Citrulline</text><text x="222.7" y="651.9" text-anchor="end">L-Tyrosine</text><text x="220.6" y="649.3" text-anchor="end">L-Tryptophan</text><text x="219.0" y="646.3" text-anchor="end">L-Cystine</text><text x="218.0" y="643.1" text-anchor="end">Beta-Alanine</text><text x="217.7" y="639.7" text-anchor="end">L-Alanine</text><text x="218.0" y="636.3" text-anchor="end">L-Serine</text><text x="219.0" y="633.1" text-anchor="end">L-Proline</text><text x="220.6" y="630.1" text-anchor="end">L-Valine</text><text x="222.7" y="627.5" text-anchor="end">L-Threonine</text><text x="225.2" y="625.3" text-anchor="end">L-Ornithine</text><text x="228.1" y="623.7" text-anchor="end">L-Asparagine</text><text x="231.3" y="622.8" text-anchor="end">L-Lysine</text><text x="238.4" y="622.4">L-Glutamine</text><text x="241.7" y="622.8">L-Histidine</text><text x="244.9" y="623.7">L-Arginine</text><text x="247.8" y="625.3">L-Citrulline</text><text x="250.3" y="627.5">L-Tyrosine</text><text x="252.4" y="630.1">L-Tryptophan</text><text x="254.0" y="633.1">L-Cystine</text><text x="255.0" y="636.3">Beta-Alanine</text><text x="310.0" y="704.2">Waist circumference</text><text x="309.6" y="707.9">Hip circumference</text><text x="308.5" y="711.5">Systolic blood pressure</text><text x="306.7" y="714.7">Diastolic blood pressure</text><text x="304.2" y="717.5">Fasting blood glucose</text><text x="301.3" y="719.7">Total cholesterol</text><text x="297.9" y="721.3">Triglyceride</text><text x="294.3" y="722.0">Uric acid</text><text x="286.9" y="722.0" text-anchor="end">Creatinine</text><text x="283.3" y="721.3" text-anchor="end">HbA1c</text><text x="279.9" y="719.7" text-anchor="end">Waist circumference</text><text x="277.0" y="717.5" text-anchor="end">Hip circumference</text><text x="274.5" y="714.7" text-anchor="end">Systolic blood pressure</text><text x="272.7" y="711.5" text-anchor="end">Diastolic blood pressure</text><text x="271.6" y="707.9" text-anchor="end">Fasting blood glucose</text><text x="271.2" y="704.2" text-anchor="end">Total cholesterol</text><text x="271.6" y="700.5" text-anchor="end">Triglyceride</text><text x="272.7" y="696.9" text-anchor="end">Uric acid</text><text x="274.5" y="693.7" text-anchor="end">Creatinine</text><text x="277.0" y="690.9" text-anchor="end">HbA1c</text><text x="279.9" y="688.7" text-anchor="end">Waist circumference</text><text x="283.3" y="687.1" text-anchor="end">Hip circumference</text><text x="286.9" y="686.4" text-anchor="end">Systolic blood pressure</text><text x="294.3" y="686.4">Diastolic blood pressure</text><text x="297.9" y="687.1">Fasting blood glucose</text><text x="301.3" y="688.7">Total cholesterol</text><text x="304.2" y="690.9">Triglyceride</text><text x="306.7" y="693.7">Uric acid</text><text x="308.5" y="696.9">Creatinine</text><text x="309.6" y="700.5">HbA1c</text><text x="278.8" y="741.4">CA</text><text x="278.7" y="744.0">DCA</text><text x="278.1" y="746.5">LCA</text><text x="277.2" y="748.9">GCA</text><text x="276.0" y="751.2">TCA</text><text x="274.5" y="753.2">UDCA</text><text x="272.7" y="755.0">HCA</text><text x="270.7" y="756.6">GDCA</text><text x="268.5" y="757.8">TDCA</text><text x="266.2" y="758.7">CDCA</text><text x="263.7" y="759.3">GLCA</text><text x="261.2" y="759.4">CA</text><text x="254.9" y="759.3" text-anchor="end">DCA</text><text x="252.4" y="758.7" text-anchor="end">LCA</text><text x="250.1" y="757.8" text-anchor="end">GCA</text><text x="247.9" y="756.6" text-anchor="end">TCA</text><text x="245.9" y="755.0" text-anchor="end">UDCA</text><text x="244.1" y="753.2" text-anchor="end">HCA</text><text x="242.6" y="751.2" text-anchor="end">GDCA</text><text x="241.4" y="748.9" text-anchor="end">TDCA</text><text x="240.5" y="746.5" text-anchor="end">CDCA</text><text x="239.9" y="744.0" text-anchor="end">GLCA</text><text x="239.8" y="741.4" text-anchor="end">CA</text><text x="239.9" y="738.8" text-anchor="end">DCA</text><text x="240.5" y="736.3" text-anchor="end">LCA</text><text x="241.4" y="733.9" text-anchor="end">GCA</text><text x="242.6" y="731.6" text-anchor="end">TCA</text><text x="244.1" y="729.6" text-anchor="end">UDCA</text><text x="245.9" y="727.8" text-anchor="end">HCA</text><text x="247.9" y="726.2" text-anchor="end">GDCA</text><text x="250.1" y="725.0" text-anchor="end">TDCA</text><text x="252.4" y="724.1" text-anchor="end">CDCA</text><text x="254.9" y="723.5" text-anchor="end">GLCA</text><text x="261.2" y="723.4">CA</text><text x="263.7" y="723.5">DCA</text><text x="266.2" y="724.1">LCA</text><text x="268.5" y="725.0">GCA</text><text x="270.7" y="726.2">TCA</text><text x="272.7" y="727.8">UDCA</text><text x="274.5" y="729.6">HCA</text><text x="276.0" y="731.6">GDCA</text><text x="277.2" y="733.9">TDCA</text><text x="278.1" y="736.3">CDCA</text><text x="278.7" y="738.8">GLCA</text><text x="189.7" y="644.9" text-anchor="end">Acetic acid</text><text x="177.3" y="650.8" text-anchor="end">Valeric acid</text><text x="207.3" y="650.8">Propionic acid</text><text x="174.1" y="663.3" text-anchor="end">Butyric acid</text><text x="210.5" y="663.3">Isobutyric acid</text><text x="183.0" y="673.7" text-anchor="end">Isovaleric acid</text><text x="201.9" y="673.7">Isocaproic acid</text><text x="179.0" y="689.6" text-anchor="end">Heptanoic acid</text><text x="194.7" y="704.5" text-anchor="end">Octanoic acid</text><text x="179.0" y="719.8" text-anchor="end">Nonanoic acid</text><text x="209.1" y="725.6" text-anchor="end">K00505</text><text x="195.4" y="748.4" text-anchor="end">K01915</text><text x="228.4" y="748.4">K14260</text><text x="282.5" y="644.6">Escherichia coli</text><text x="266.6" y="659.8">Bacteroides ovatus</text><text x="298.6" y="659.8">Bacteroides uniformis</text><text x="282.5" y="675.2">Bacteroides thetaiotaomicron</text></g>
<text x="91.2" y="616.2" font-size="9.7" text-anchor="middle" fill="#111">Correlations in cluster BL</text>
<text x="243.8" y="616.2" font-size="9.7" text-anchor="middle" fill="#111">Correlations in cluster BA</text>
<line x1="41.5" y1="770.5" x2="54.2" y2="770.5" stroke="#66BC69" stroke-width="1.25"/><line x1="41.5" y1="784.6" x2="54.2" y2="784.6" stroke="#E58C8C" stroke-width="1.25"/>
<text x="59" y="771.8" font-size="7.95" text-anchor="start" fill="#111">positive correlated</text>
<text x="60" y="786.5" font-size="7.95" text-anchor="start" fill="#111">negative correlated</text>
<circle cx="155.6" cy="769.6" r="1.9" fill="#E0301E"/>
<text x="162.5" y="771.8000000000001" font-size="8.05" text-anchor="start" fill="#111">AAs</text>
<circle cx="188.6" cy="769.6" r="1.9" fill="#F7C22F"/>
<text x="195.5" y="771.8000000000001" font-size="8.05" text-anchor="start" fill="#111">Bacs</text>
<circle cx="231.2" cy="769.6" r="1.9" fill="#86D63C"/>
<text x="238.1" y="771.8000000000001" font-size="8.05" text-anchor="start" fill="#111">BAs</text>
<circle cx="267.2" cy="769.6" r="1.9" fill="#B5CC2E"/>
<text x="275.09999999999997" y="771.8000000000001" font-size="8.05" text-anchor="start" fill="#111">Clinical indices</text>
<circle cx="155.6" cy="784.6" r="1.9" fill="#4A90D9"/>
<text x="162.5" y="787.2" font-size="8.05" text-anchor="start" fill="#111">KOs</text>
<circle cx="188.6" cy="784.6" r="1.9" fill="#3B3BB0"/>
<text x="195.5" y="787.2" font-size="8.05" text-anchor="start" fill="#111">MCFAs</text>
<circle cx="231.2" cy="784.6" r="1.9" fill="#C050C0"/>
<text x="238.1" y="787.2" font-size="8.05" text-anchor="start" fill="#111">SCFAs</text>
<g shape-rendering="crispEdges"><rect x="413.10" y="603.10" width="3.85" height="6.43" fill="#D0321F"/><rect x="413.10" y="609.38" width="3.85" height="6.43" fill="#D0321F"/><rect x="413.10" y="615.66" width="3.85" height="6.43" fill="#D0321F"/><rect x="413.10" y="621.94" width="3.85" height="6.43" fill="#D0321F"/><rect x="413.10" y="628.22" width="3.85" height="6.43" fill="#D0321F"/><rect x="413.10" y="634.50" width="3.85" height="6.43" fill="#D0321F"/><rect x="413.10" y="640.78" width="3.85" height="6.43" fill="#D0321F"/><rect x="413.10" y="647.06" width="3.85" height="6.43" fill="#D0321F"/><rect x="413.10" y="653.34" width="3.85" height="6.43" fill="#D0321F"/><rect x="413.10" y="659.62" width="3.85" height="6.43" fill="#D0321F"/><rect x="413.10" y="665.90" width="3.85" height="6.43" fill="#3F7FB8"/><rect x="413.10" y="672.18" width="3.85" height="6.43" fill="#3F7FB8"/><rect x="413.10" y="678.46" width="3.85" height="6.43" fill="#3F7FB8"/><rect x="413.10" y="684.74" width="3.85" height="6.43" fill="#3F7FB8"/><rect x="413.10" y="691.02" width="3.85" height="6.43" fill="#3F7FB8"/><rect x="413.10" y="697.30" width="3.85" height="6.43" fill="#3F7FB8"/><rect x="413.10" y="703.58" width="3.85" height="6.43" fill="#3F7FB8"/><rect x="413.10" y="709.86" width="3.85" height="6.43" fill="#3F7FB8"/><rect x="413.10" y="716.14" width="3.85" height="6.43" fill="#3F7FB8"/><rect x="413.10" y="722.42" width="3.85" height="6.43" fill="#3F7FB8"/><rect x="413.10" y="728.70" width="3.85" height="6.43" fill="#3F7FB8"/><rect x="413.10" y="734.98" width="3.85" height="6.43" fill="#B043B5"/><rect x="413.10" y="741.26" width="3.85" height="6.43" fill="#B043B5"/><rect x="413.10" y="747.54" width="3.85" height="6.43" fill="#B043B5"/><rect x="413.10" y="753.82" width="3.85" height="6.43" fill="#D43FA3"/><rect x="418.80" y="603.10" width="10.17" height="6.43" fill="#f4f4f4"/><rect x="428.82" y="603.10" width="10.17" height="6.43" fill="#E53228"/><rect x="438.85" y="603.10" width="10.17" height="6.43" fill="#E53228"/><rect x="448.88" y="603.10" width="10.17" height="6.43" fill="#0c0c08"/><rect x="418.80" y="609.38" width="10.17" height="6.43" fill="#c8c8c8"/><rect x="428.82" y="609.38" width="10.17" height="6.43" fill="#a8a0a0"/><rect x="438.85" y="609.38" width="10.17" height="6.43" fill="#e0e0e0"/><rect x="448.88" y="609.38" width="10.17" height="6.43" fill="#E53228"/><rect x="418.80" y="615.66" width="10.17" height="6.43" fill="#ffffff"/><rect x="428.82" y="615.66" width="10.17" height="6.43" fill="#ececec"/><rect x="438.85" y="615.66" width="10.17" height="6.43" fill="#ffffff"/><rect x="448.88" y="615.66" width="10.17" height="6.43" fill="#0c0c08"/><rect x="418.80" y="621.94" width="10.17" height="6.43" fill="#c8c8c8"/><rect x="428.82" y="621.94" width="10.17" height="6.43" fill="#c0c0c0"/><rect x="438.85" y="621.94" width="10.17" height="6.43" fill="#d8d8d8"/><rect x="448.88" y="621.94" width="10.17" height="6.43" fill="#0c0c08"/><rect x="418.80" y="628.22" width="10.17" height="6.43" fill="#e4e4e4"/><rect x="428.82" y="628.22" width="10.17" height="6.43" fill="#e4e4e4"/><rect x="438.85" y="628.22" width="10.17" height="6.43" fill="#e4e4e4"/><rect x="448.88" y="628.22" width="10.17" height="6.43" fill="#0c0c08"/><rect x="418.80" y="634.50" width="10.17" height="6.43" fill="#E53228"/><rect x="428.82" y="634.50" width="10.17" height="6.43" fill="#e8e8e8"/><rect x="438.85" y="634.50" width="10.17" height="6.43" fill="#E53228"/><rect x="448.88" y="634.50" width="10.17" height="6.43" fill="#0c0c08"/><rect x="418.80" y="640.78" width="10.17" height="6.43" fill="#E53228"/><rect x="428.82" y="640.78" width="10.17" height="6.43" fill="#0c0c08"/><rect x="438.85" y="640.78" width="10.17" height="6.43" fill="#f8f4f4"/><rect x="448.88" y="640.78" width="10.17" height="6.43" fill="#e0e0e0"/><rect x="418.80" y="647.06" width="10.17" height="6.43" fill="#f8dcdc"/><rect x="428.82" y="647.06" width="10.17" height="6.43" fill="#f07878"/><rect x="438.85" y="647.06" width="10.17" height="6.43" fill="#E53228"/><rect x="448.88" y="647.06" width="10.17" height="6.43" fill="#0c0c08"/><rect x="418.80" y="653.34" width="10.17" height="6.43" fill="#f8e0e0"/><rect x="428.82" y="653.34" width="10.17" height="6.43" fill="#e0e0e0"/><rect x="438.85" y="653.34" width="10.17" height="6.43" fill="#0c0c08"/><rect x="448.88" y="653.34" width="10.17" height="6.43" fill="#f4f4f4"/><rect x="418.80" y="659.62" width="10.17" height="6.43" fill="#e4e4e4"/><rect x="428.82" y="659.62" width="10.17" height="6.43" fill="#e0e0e0"/><rect x="438.85" y="659.62" width="10.17" height="6.43" fill="#e63838"/><rect x="448.88" y="659.62" width="10.17" height="6.43" fill="#e0e0e0"/><rect x="418.80" y="665.90" width="10.17" height="6.43" fill="#E53228"/><rect x="428.82" y="665.90" width="10.17" height="6.43" fill="#E53228"/><rect x="438.85" y="665.90" width="10.17" height="6.43" fill="#E53228"/><rect x="448.88" y="665.90" width="10.17" height="6.43" fill="#0c0c08"/><rect x="418.80" y="672.18" width="10.17" height="6.43" fill="#E53228"/><rect x="428.82" y="672.18" width="10.17" height="6.43" fill="#E53228"/><rect x="438.85" y="672.18" width="10.17" height="6.43" fill="#E53228"/><rect x="448.88" y="672.18" width="10.17" height="6.43" fill="#0c0c08"/><rect x="418.80" y="678.46" width="10.17" height="6.43" fill="#e0e0e0"/><rect x="428.82" y="678.46" width="10.17" height="6.43" fill="#888888"/><rect x="438.85" y="678.46" width="10.17" height="6.43" fill="#0c0c08"/><rect x="448.88" y="678.46" width="10.17" height="6.43" fill="#0c0c08"/><rect x="418.80" y="684.74" width="10.17" height="6.43" fill="#E53228"/><rect x="428.82" y="684.74" width="10.17" height="6.43" fill="#E53228"/><rect x="438.85" y="684.74" width="10.17" height="6.43" fill="#E53228"/><rect x="448.88" y="684.74" width="10.17" height="6.43" fill="#282020"/><rect x="418.80" y="691.02" width="10.17" height="6.43" fill="#E53228"/><rect x="428.82" y="691.02" width="10.17" height="6.43" fill="#E53228"/><rect x="438.85" y="691.02" width="10.17" height="6.43" fill="#E53228"/><rect x="448.88" y="691.02" width="10.17" height="6.43" fill="#f8e8e8"/><rect x="418.80" y="697.30" width="10.17" height="6.43" fill="#E53228"/><rect x="428.82" y="697.30" width="10.17" height="6.43" fill="#E53228"/><rect x="438.85" y="697.30" width="10.17" height="6.43" fill="#E53228"/><rect x="448.88" y="697.30" width="10.17" height="6.43" fill="#e0e0e0"/><rect x="418.80" y="703.58" width="10.17" height="6.43" fill="#f8f0f0"/><rect x="428.82" y="703.58" width="10.17" height="6.43" fill="#f4f4f4"/><rect x="438.85" y="703.58" width="10.17" height="6.43" fill="#f07080"/><rect x="448.88" y="703.58" width="10.17" height="6.43" fill="#0c0c08"/><rect x="418.80" y="709.86" width="10.17" height="6.43" fill="#a8a8a8"/><rect x="428.82" y="709.86" width="10.17" height="6.43" fill="#686868"/><rect x="438.85" y="709.86" width="10.17" height="6.43" fill="#989898"/><rect x="448.88" y="709.86" width="10.17" height="6.43" fill="#E53228"/><rect x="418.80" y="716.14" width="10.17" height="6.43" fill="#E53228"/><rect x="428.82" y="716.14" width="10.17" height="6.43" fill="#E53228"/><rect x="438.85" y="716.14" width="10.17" height="6.43" fill="#E53228"/><rect x="448.88" y="716.14" width="10.17" height="6.43" fill="#f88088"/><rect x="418.80" y="722.42" width="10.17" height="6.43" fill="#E53228"/><rect x="428.82" y="722.42" width="10.17" height="6.43" fill="#E53228"/><rect x="438.85" y="722.42" width="10.17" height="6.43" fill="#E53228"/><rect x="448.88" y="722.42" width="10.17" height="6.43" fill="#0c0c08"/><rect x="418.80" y="728.70" width="10.17" height="6.43" fill="#E53228"/><rect x="428.82" y="728.70" width="10.17" height="6.43" fill="#E53228"/><rect x="438.85" y="728.70" width="10.17" height="6.43" fill="#E53228"/><rect x="448.88" y="728.70" width="10.17" height="6.43" fill="#0c0c08"/><rect x="418.80" y="734.98" width="10.17" height="6.43" fill="#E53228"/><rect x="428.82" y="734.98" width="10.17" height="6.43" fill="#0c0c08"/><rect x="438.85" y="734.98" width="10.17" height="6.43" fill="#E53228"/><rect x="448.88" y="734.98" width="10.17" height="6.43" fill="#f8e0e0"/><rect x="418.80" y="741.26" width="10.17" height="6.43" fill="#E53228"/><rect x="428.82" y="741.26" width="10.17" height="6.43" fill="#E53228"/><rect x="438.85" y="741.26" width="10.17" height="6.43" fill="#E53228"/><rect x="448.88" y="741.26" width="10.17" height="6.43" fill="#f89098"/><rect x="418.80" y="747.54" width="10.17" height="6.43" fill="#0c0c08"/><rect x="428.82" y="747.54" width="10.17" height="6.43" fill="#0c0c08"/><rect x="438.85" y="747.54" width="10.17" height="6.43" fill="#E53228"/><rect x="448.88" y="747.54" width="10.17" height="6.43" fill="#0c0c08"/><rect x="418.80" y="753.82" width="10.17" height="6.43" fill="#e0e0e0"/><rect x="428.82" y="753.82" width="10.17" height="6.43" fill="#ffffff"/><rect x="438.85" y="753.82" width="10.17" height="6.43" fill="#0c0c08"/><rect x="448.88" y="753.82" width="10.17" height="6.43" fill="#E53228"/><rect x="461.00" y="603.10" width="10.12" height="6.43" fill="#E53228"/><rect x="470.97" y="603.10" width="10.12" height="6.43" fill="#2A6A35"/><rect x="480.93" y="603.10" width="10.12" height="6.43" fill="#2A6A35"/><rect x="461.00" y="609.38" width="10.12" height="6.43" fill="#78a878"/><rect x="470.97" y="609.38" width="10.12" height="6.43" fill="#f87080"/><rect x="480.93" y="609.38" width="10.12" height="6.43" fill="#e84048"/><rect x="461.00" y="615.66" width="10.12" height="6.43" fill="#E53228"/><rect x="470.97" y="615.66" width="10.12" height="6.43" fill="#c0e0c0"/><rect x="480.93" y="615.66" width="10.12" height="6.43" fill="#5a9a5a"/><rect x="461.00" y="621.94" width="10.12" height="6.43" fill="#f05058"/><rect x="470.97" y="621.94" width="10.12" height="6.43" fill="#e0ece0"/><rect x="480.93" y="621.94" width="10.12" height="6.43" fill="#f8dce0"/><rect x="461.00" y="628.22" width="10.12" height="6.43" fill="#e83838"/><rect x="470.97" y="628.22" width="10.12" height="6.43" fill="#88b888"/><rect x="480.93" y="628.22" width="10.12" height="6.43" fill="#f05058"/><rect x="461.00" y="634.50" width="10.12" height="6.43" fill="#f87888"/><rect x="470.97" y="634.50" width="10.12" height="6.43" fill="#4a9040"/><rect x="480.93" y="634.50" width="10.12" height="6.43" fill="#80b880"/><rect x="461.00" y="640.78" width="10.12" height="6.43" fill="#5a9a5a"/><rect x="470.97" y="640.78" width="10.12" height="6.43" fill="#f8a0a8"/><rect x="480.93" y="640.78" width="10.12" height="6.43" fill="#f4f4f0"/><rect x="461.00" y="647.06" width="10.12" height="6.43" fill="#f8ecec"/><rect x="470.97" y="647.06" width="10.12" height="6.43" fill="#e8ece8"/><rect x="480.93" y="647.06" width="10.12" height="6.43" fill="#70a870"/><rect x="461.00" y="653.34" width="10.12" height="6.43" fill="#fcc8d0"/><rect x="470.97" y="653.34" width="10.12" height="6.43" fill="#f8f4f4"/><rect x="480.93" y="653.34" width="10.12" height="6.43" fill="#f8e8e8"/><rect x="461.00" y="659.62" width="10.12" height="6.43" fill="#ffffff"/><rect x="470.97" y="659.62" width="10.12" height="6.43" fill="#ecf0ec"/><rect x="480.93" y="659.62" width="10.12" height="6.43" fill="#e8f0e8"/><rect x="461.00" y="665.90" width="10.12" height="6.43" fill="#e84048"/><rect x="470.97" y="665.90" width="10.12" height="6.43" fill="#e0e8e0"/><rect x="480.93" y="665.90" width="10.12" height="6.43" fill="#2A6A35"/><rect x="461.00" y="672.18" width="10.12" height="6.43" fill="#f87080"/><rect x="470.97" y="672.18" width="10.12" height="6.43" fill="#2A6A35"/><rect x="480.93" y="672.18" width="10.12" height="6.43" fill="#2A6A35"/><rect x="461.00" y="678.46" width="10.12" height="6.43" fill="#e84048"/><rect x="470.97" y="678.46" width="10.12" height="6.43" fill="#88b888"/><rect x="480.93" y="678.46" width="10.12" height="6.43" fill="#2A6A35"/><rect x="461.00" y="684.74" width="10.12" height="6.43" fill="#E53228"/><rect x="470.97" y="684.74" width="10.12" height="6.43" fill="#2A6A35"/><rect x="480.93" y="684.74" width="10.12" height="6.43" fill="#2A6A35"/><rect x="461.00" y="691.02" width="10.12" height="6.43" fill="#f8a0a8"/><rect x="470.97" y="691.02" width="10.12" height="6.43" fill="#f4e8e8"/><rect x="480.93" y="691.02" width="10.12" height="6.43" fill="#78b078"/><rect x="461.00" y="697.30" width="10.12" height="6.43" fill="#f8a8b0"/><rect x="470.97" y="697.30" width="10.12" height="6.43" fill="#d0e4d0"/><rect x="480.93" y="697.30" width="10.12" height="6.43" fill="#4a9038"/><rect x="461.00" y="703.58" width="10.12" height="6.43" fill="#90c090"/><rect x="470.97" y="703.58" width="10.12" height="6.43" fill="#2A6A35"/><rect x="480.93" y="703.58" width="10.12" height="6.43" fill="#2e7035"/><rect x="461.00" y="709.86" width="10.12" height="6.43" fill="#2e7035"/><rect x="470.97" y="709.86" width="10.12" height="6.43" fill="#f4e8e8"/><rect x="480.93" y="709.86" width="10.12" height="6.43" fill="#80b880"/><rect x="461.00" y="716.14" width="10.12" height="6.43" fill="#f4ecec"/><rect x="470.97" y="716.14" width="10.12" height="6.43" fill="#f8f4f4"/><rect x="480.93" y="716.14" width="10.12" height="6.43" fill="#4a9038"/><rect x="461.00" y="722.42" width="10.12" height="6.43" fill="#E53228"/><rect x="470.97" y="722.42" width="10.12" height="6.43" fill="#2A6A35"/><rect x="480.93" y="722.42" width="10.12" height="6.43" fill="#78b078"/><rect x="461.00" y="728.70" width="10.12" height="6.43" fill="#E53228"/><rect x="470.97" y="728.70" width="10.12" height="6.43" fill="#2A6A35"/><rect x="480.93" y="728.70" width="10.12" height="6.43" fill="#2A6A35"/><rect x="461.00" y="734.98" width="10.12" height="6.43" fill="#E53228"/><rect x="470.97" y="734.98" width="10.12" height="6.43" fill="#c0e0c0"/><rect x="480.93" y="734.98" width="10.12" height="6.43" fill="#c8e0c8"/><rect x="461.00" y="741.26" width="10.12" height="6.43" fill="#E53228"/><rect x="470.97" y="741.26" width="10.12" height="6.43" fill="#f8f8f4"/><rect x="480.93" y="741.26" width="10.12" height="6.43" fill="#e0ece0"/><rect x="461.00" y="747.54" width="10.12" height="6.43" fill="#f8d0d4"/><rect x="470.97" y="747.54" width="10.12" height="6.43" fill="#c0dcc0"/><rect x="480.93" y="747.54" width="10.12" height="6.43" fill="#e8f0e8"/><rect x="461.00" y="753.82" width="10.12" height="6.43" fill="#f8a0a8"/><rect x="470.97" y="753.82" width="10.12" height="6.43" fill="#E53228"/><rect x="480.93" y="753.82" width="10.12" height="6.43" fill="#e84048"/><rect x="493.00" y="603.10" width="10.25" height="6.43" fill="#f8f4f0"/><rect x="503.10" y="603.10" width="10.25" height="6.43" fill="#6860b8"/><rect x="513.20" y="603.10" width="10.25" height="6.43" fill="#c8c8e0"/><rect x="493.00" y="609.38" width="10.25" height="6.43" fill="#f8f0f0"/><rect x="503.10" y="609.38" width="10.25" height="6.43" fill="#f4f4f8"/><rect x="513.20" y="609.38" width="10.25" height="6.43" fill="#5850a8"/><rect x="493.00" y="615.66" width="10.25" height="6.43" fill="#e07080"/><rect x="503.10" y="615.66" width="10.25" height="6.43" fill="#9890c8"/><rect x="513.20" y="615.66" width="10.25" height="6.43" fill="#8880c0"/><rect x="493.00" y="621.94" width="10.25" height="6.43" fill="#8880c0"/><rect x="503.10" y="621.94" width="10.25" height="6.43" fill="#f4e4e8"/><rect x="513.20" y="621.94" width="10.25" height="6.43" fill="#f8f0f0"/><rect x="493.00" y="628.22" width="10.25" height="6.43" fill="#f4c0c8"/><rect x="503.10" y="628.22" width="10.25" height="6.43" fill="#a098d0"/><rect x="513.20" y="628.22" width="10.25" height="6.43" fill="#5850a8"/><rect x="493.00" y="634.50" width="10.25" height="6.43" fill="#e898a8"/><rect x="503.10" y="634.50" width="10.25" height="6.43" fill="#e0dcec"/><rect x="513.20" y="634.50" width="10.25" height="6.43" fill="#c8c8e0"/><rect x="493.00" y="640.78" width="10.25" height="6.43" fill="#e07888"/><rect x="503.10" y="640.78" width="10.25" height="6.43" fill="#7870b8"/><rect x="513.20" y="640.78" width="10.25" height="6.43" fill="#c0c0e0"/><rect x="493.00" y="647.06" width="10.25" height="6.43" fill="#d86878"/><rect x="503.10" y="647.06" width="10.25" height="6.43" fill="#dcdce8"/><rect x="513.20" y="647.06" width="10.25" height="6.43" fill="#ececf0"/><rect x="493.00" y="653.34" width="10.25" height="6.43" fill="#c8c8e0"/><rect x="503.10" y="653.34" width="10.25" height="6.43" fill="#7068b8"/><rect x="513.20" y="653.34" width="10.25" height="6.43" fill="#9088c4"/><rect x="493.00" y="659.62" width="10.25" height="6.43" fill="#d05868"/><rect x="503.10" y="659.62" width="10.25" height="6.43" fill="#9890c8"/><rect x="513.20" y="659.62" width="10.25" height="6.43" fill="#7068b8"/><rect x="493.00" y="665.90" width="10.25" height="6.43" fill="#d86070"/><rect x="503.10" y="665.90" width="10.25" height="6.43" fill="#b0acd8"/><rect x="513.20" y="665.90" width="10.25" height="6.43" fill="#5048a8"/><rect x="493.00" y="672.18" width="10.25" height="6.43" fill="#b8b4d8"/><rect x="503.10" y="672.18" width="10.25" height="6.43" fill="#383068"/><rect x="513.20" y="672.18" width="10.25" height="6.43" fill="#7870b8"/><rect x="493.00" y="678.46" width="10.25" height="6.43" fill="#7870c0"/><rect x="503.10" y="678.46" width="10.25" height="6.43" fill="#a098d0"/><rect x="513.20" y="678.46" width="10.25" height="6.43" fill="#9890c8"/><rect x="493.00" y="684.74" width="10.25" height="6.43" fill="#e07888"/><rect x="503.10" y="684.74" width="10.25" height="6.43" fill="#f8f8f8"/><rect x="513.20" y="684.74" width="10.25" height="6.43" fill="#d8d8e8"/><rect x="493.00" y="691.02" width="10.25" height="6.43" fill="#e07080"/><rect x="503.10" y="691.02" width="10.25" height="6.43" fill="#ffffff"/><rect x="513.20" y="691.02" width="10.25" height="6.43" fill="#6860b8"/><rect x="493.00" y="697.30" width="10.25" height="6.43" fill="#f0b0b8"/><rect x="503.10" y="697.30" width="10.25" height="6.43" fill="#e8909c"/><rect x="513.20" y="697.30" width="10.25" height="6.43" fill="#c0bce0"/><rect x="493.00" y="703.58" width="10.25" height="6.43" fill="#f4dce0"/><rect x="503.10" y="703.58" width="10.25" height="6.43" fill="#342878"/><rect x="513.20" y="703.58" width="10.25" height="6.43" fill="#8078c0"/><rect x="493.00" y="709.86" width="10.25" height="6.43" fill="#e0e0ec"/><rect x="503.10" y="709.86" width="10.25" height="6.43" fill="#a8a4d4"/><rect x="513.20" y="709.86" width="10.25" height="6.43" fill="#6860b0"/><rect x="493.00" y="716.14" width="10.25" height="6.43" fill="#d05060"/><rect x="503.10" y="716.14" width="10.25" height="6.43" fill="#f8f0ec"/><rect x="513.20" y="716.14" width="10.25" height="6.43" fill="#7068b8"/><rect x="493.00" y="722.42" width="10.25" height="6.43" fill="#f0c8d0"/><rect x="503.10" y="722.42" width="10.25" height="6.43" fill="#a8a0d0"/><rect x="513.20" y="722.42" width="10.25" height="6.43" fill="#c0c0e0"/><rect x="493.00" y="728.70" width="10.25" height="6.43" fill="#a098d0"/><rect x="503.10" y="728.70" width="10.25" height="6.43" fill="#b8b4dc"/><rect x="513.20" y="728.70" width="10.25" height="6.43" fill="#5850a8"/><rect x="493.00" y="734.98" width="10.25" height="6.43" fill="#e8909c"/><rect x="503.10" y="734.98" width="10.25" height="6.43" fill="#a8a0d0"/><rect x="513.20" y="734.98" width="10.25" height="6.43" fill="#8078c0"/><rect x="493.00" y="741.26" width="10.25" height="6.43" fill="#e88090"/><rect x="503.10" y="741.26" width="10.25" height="6.43" fill="#e07080"/><rect x="513.20" y="741.26" width="10.25" height="6.43" fill="#b0acd8"/><rect x="493.00" y="747.54" width="10.25" height="6.43" fill="#f4dce0"/><rect x="503.10" y="747.54" width="10.25" height="6.43" fill="#342878"/><rect x="513.20" y="747.54" width="10.25" height="6.43" fill="#7870b8"/><rect x="493.00" y="753.82" width="10.25" height="6.43" fill="#d8d8ec"/><rect x="503.10" y="753.82" width="10.25" height="6.43" fill="#f0a0a8"/><rect x="513.20" y="753.82" width="10.25" height="6.43" fill="#7870b8"/><rect x="525.00" y="603.10" width="10.15" height="6.43" fill="#78b8d0"/><rect x="525.00" y="609.38" width="10.15" height="6.43" fill="#f06070"/><rect x="525.00" y="615.66" width="10.15" height="6.43" fill="#4078b0"/><rect x="525.00" y="621.94" width="10.15" height="6.43" fill="#dcdce0"/><rect x="525.00" y="628.22" width="10.15" height="6.43" fill="#f8e8e8"/><rect x="525.00" y="634.50" width="10.15" height="6.43" fill="#f898a0"/><rect x="525.00" y="640.78" width="10.15" height="6.43" fill="#e84040"/><rect x="525.00" y="647.06" width="10.15" height="6.43" fill="#f8d0d4"/><rect x="525.00" y="653.34" width="10.15" height="6.43" fill="#a8d0e0"/><rect x="525.00" y="659.62" width="10.15" height="6.43" fill="#f8d4d8"/><rect x="525.00" y="665.90" width="10.15" height="6.43" fill="#f8e8e8"/><rect x="525.00" y="672.18" width="10.15" height="6.43" fill="#e0e0e0"/><rect x="525.00" y="678.46" width="10.15" height="6.43" fill="#dcdcdc"/><rect x="525.00" y="684.74" width="10.15" height="6.43" fill="#fcc0c8"/><rect x="525.00" y="691.02" width="10.15" height="6.43" fill="#90c8dc"/><rect x="525.00" y="697.30" width="10.15" height="6.43" fill="#68b0cc"/><rect x="525.00" y="703.58" width="10.15" height="6.43" fill="#e0ecf0"/><rect x="525.00" y="709.86" width="10.15" height="6.43" fill="#f8a8b0"/><rect x="525.00" y="716.14" width="10.15" height="6.43" fill="#c0dce8"/><rect x="525.00" y="722.42" width="10.15" height="6.43" fill="#fcc0c8"/><rect x="525.00" y="728.70" width="10.15" height="6.43" fill="#e0e0e4"/><rect x="525.00" y="734.98" width="10.15" height="6.43" fill="#fcc8d0"/><rect x="525.00" y="741.26" width="10.15" height="6.43" fill="#80c0d8"/><rect x="525.00" y="747.54" width="10.15" height="6.43" fill="#c0dce8"/><rect x="525.00" y="753.82" width="10.15" height="6.43" fill="#fcc0c8"/></g>
<g font-size="3.85" fill="#000" stroke="#000" stroke-width="0.04"><text transform="translate(416.1,762.3) rotate(-90)" text-anchor="end" font-weight="bold">Enterotypes</text><text transform="translate(424.7,762.3) rotate(-90)" text-anchor="end">Bacteroides  ovatus</text><text transform="translate(434.8,762.3) rotate(-90)" text-anchor="end">Bacteroides thetaiotaomicron</text><text transform="translate(444.9,762.3) rotate(-90)" text-anchor="end">Bacteroides uni formis</text><text transform="translate(455.0,762.3) rotate(-90)" text-anchor="end">Escherichia coli</text><text transform="translate(467.2,762.3) rotate(-90)" text-anchor="end">K01915</text><text transform="translate(477.2,762.3) rotate(-90)" text-anchor="end">K00505</text><text transform="translate(487.1,762.3) rotate(-90)" text-anchor="end">K14260</text><text transform="translate(499.2,762.3) rotate(-90)" text-anchor="end">L-Glutamine</text><text transform="translate(509.3,762.3) rotate(-90)" text-anchor="end">L-Valine</text><text transform="translate(519.5,762.3) rotate(-90)" text-anchor="end">L-Glutamic acid</text><text transform="translate(531.4,762.3) rotate(-90)" text-anchor="end">FBG</text></g>
<text x="543.8" y="606.6" font-size="3.7" font-weight="bold" fill="#111">Enterotypes</text>
<rect x="543.8" y="608.60" width="5" height="5.4" fill="#D0321F"/><text x="549.9" y="612.60" font-size="4.15" fill="#000" stroke="#000" stroke-width="0.08" textLength="66.5" lengthAdjust="spacingAndGlyphs">Cluster BL baseline -&gt; cluster BL</text>
<rect x="543.8" y="613.95" width="5" height="5.4" fill="#3F7FB8"/><text x="549.9" y="617.95" font-size="4.15" fill="#000" stroke="#000" stroke-width="0.08" textLength="66.5" lengthAdjust="spacingAndGlyphs">Cluster BL baseline -&gt; cluster BA</text>
<rect x="543.8" y="619.30" width="5" height="5.4" fill="#B043B5"/><text x="549.9" y="623.30" font-size="4.15" fill="#000" stroke="#000" stroke-width="0.08" textLength="66.5" lengthAdjust="spacingAndGlyphs">Cluster BA baseline -&gt; cluster BA</text>
<rect x="543.8" y="624.65" width="5" height="5.4" fill="#D43FA3"/><text x="549.9" y="628.65" font-size="4.15" fill="#000" stroke="#000" stroke-width="0.08" textLength="66.5" lengthAdjust="spacingAndGlyphs">Cluster BA baseline -&gt; cluster BL</text>
<defs><linearGradient id="h1" x1="0" y1="0" x2="0" y2="1"><stop offset="0" stop-color="#E53228"/><stop offset="0.5" stop-color="#f5f5f5"/><stop offset="1" stop-color="#0c0c08"/></linearGradient><linearGradient id="h2" x1="0" y1="0" x2="0" y2="1"><stop offset="0" stop-color="#E53228"/><stop offset="0.5" stop-color="#ffffff"/><stop offset="1" stop-color="#2A6A35"/></linearGradient><linearGradient id="h3" x1="0" y1="0" x2="0" y2="1"><stop offset="0" stop-color="#C8323C"/><stop offset="0.5" stop-color="#ffffff"/><stop offset="1" stop-color="#3A2E8C"/></linearGradient><linearGradient id="h4" x1="0" y1="0" x2="0" y2="1"><stop offset="0" stop-color="#D0321F"/><stop offset="0.5" stop-color="#ffffff"/><stop offset="0.75" stop-color="#7FB6D6"/><stop offset="1" stop-color="#4B3A9C"/></linearGradient></defs>
<rect x="544.2" y="638.8" width="3.9" height="56.3" fill="url(#h1)"/><rect x="573.3" y="638.8" width="3.8" height="56.9" fill="url(#h2)"/><rect x="544.2" y="701.6" width="3.9" height="56.5" fill="url(#h3)"/><rect x="573.3" y="701.2" width="3.8" height="55.8" fill="url(#h4)"/>
<g font-size="3.2" fill="#000" stroke="#000" stroke-width="0.08"><text x="549.9" y="644.7">0.04</text><text x="549.9" y="656.1">0.02</text><text x="549.9" y="667.5">0</text><text x="549.9" y="678.6">−0.02</text><text x="549.9" y="690.0">−0.04</text><text x="549.9" y="703.7">2</text><text x="549.9" y="716.5">1</text><text x="549.9" y="730.5">0</text><text x="549.9" y="745.0">−1</text><text x="549.9" y="758.7">−2</text><text x="578.6" y="640.9">1</text><text x="578.6" y="653.7">0.5</text><text x="578.6" y="667.5">0</text><text x="578.6" y="682.1">−0.5</text><text x="578.6" y="696.1">−1</text><text x="578.6" y="705.6">3</text><text x="578.6" y="713.7">2</text><text x="578.6" y="721.6">1</text><text x="578.6" y="729.7">0</text><text x="578.6" y="737.6">−1</text><text x="578.6" y="745.7">−2</text><text x="578.6" y="753.5">−3</text></g>
</svg></body></html>
